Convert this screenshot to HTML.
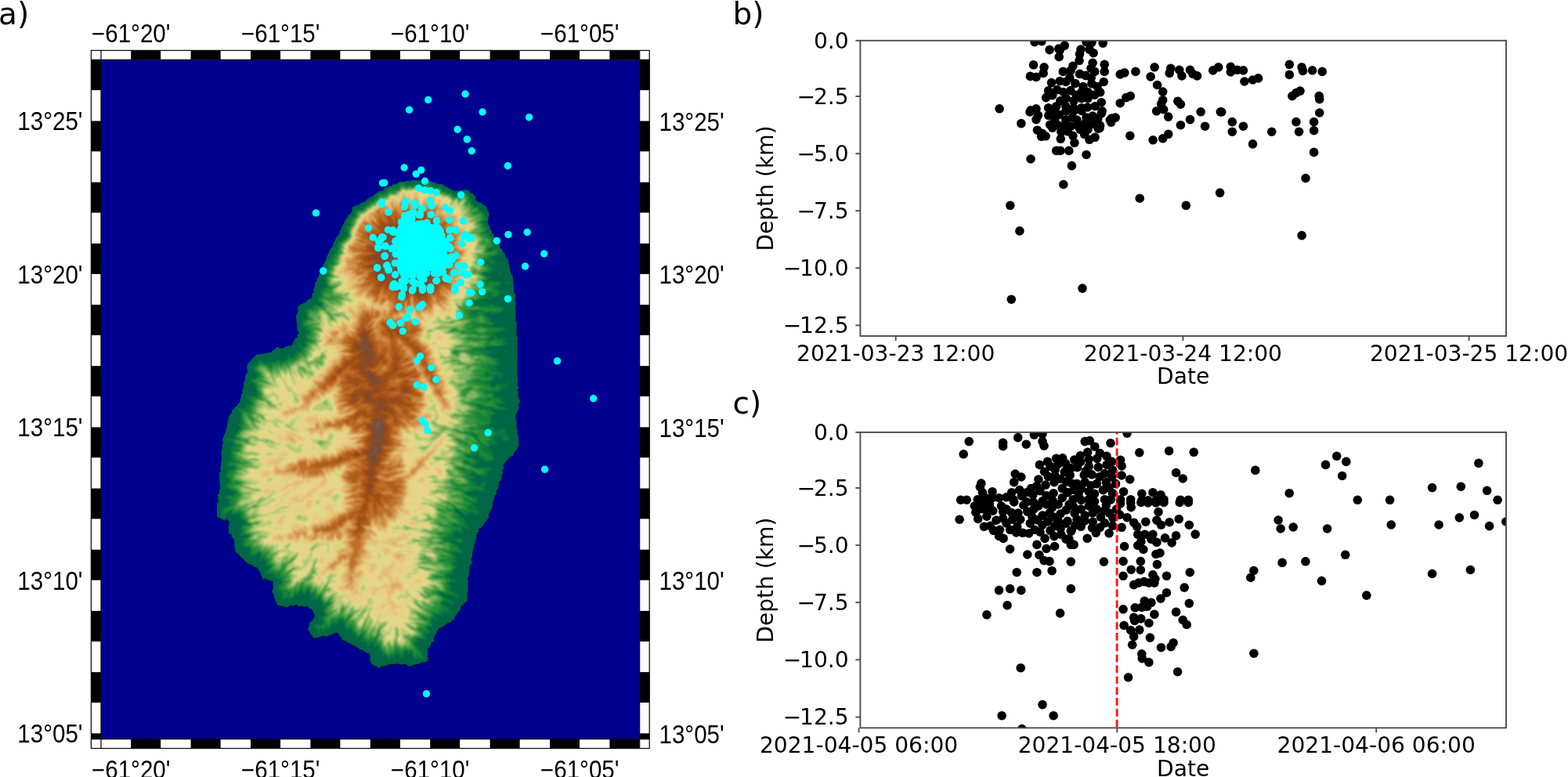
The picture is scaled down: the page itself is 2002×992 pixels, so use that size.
<!DOCTYPE html>
<html><head><meta charset="utf-8"><title>Seismicity figure</title>
<style>html,body{margin:0;padding:0;background:#fff;} svg{display:block;}</style>
</head><body>
<svg width="2002" height="992" viewBox="0 0 2002 992">
<rect width="2002" height="992" fill="#fff"/>
<text x="-2" y="30.7" style="font-family:'DejaVu Sans',sans-serif;font-size:39px">a)</text>
<text x="935.5" y="30.6" style="font-family:'DejaVu Sans',sans-serif;font-size:39px">b)</text>
<text x="935.5" y="527.5" style="font-family:'DejaVu Sans',sans-serif;font-size:39px">c)</text>

<rect x="116.0" y="64.0" width="713.6" height="891.9" fill="#fff"/>
<rect x="129.00" y="64.00" width="38.20" height="12.3" fill="#fff"/>
<rect x="129.00" y="943.60" width="38.20" height="12.3" fill="#fff"/>
<rect x="167.20" y="64.00" width="38.20" height="12.3" fill="#000"/>
<rect x="167.20" y="943.60" width="38.20" height="12.3" fill="#000"/>
<rect x="205.40" y="64.00" width="38.20" height="12.3" fill="#fff"/>
<rect x="205.40" y="943.60" width="38.20" height="12.3" fill="#fff"/>
<rect x="243.60" y="64.00" width="38.20" height="12.3" fill="#000"/>
<rect x="243.60" y="943.60" width="38.20" height="12.3" fill="#000"/>
<rect x="281.80" y="64.00" width="38.20" height="12.3" fill="#fff"/>
<rect x="281.80" y="943.60" width="38.20" height="12.3" fill="#fff"/>
<rect x="320.00" y="64.00" width="38.20" height="12.3" fill="#000"/>
<rect x="320.00" y="943.60" width="38.20" height="12.3" fill="#000"/>
<rect x="358.20" y="64.00" width="38.20" height="12.3" fill="#fff"/>
<rect x="358.20" y="943.60" width="38.20" height="12.3" fill="#fff"/>
<rect x="396.40" y="64.00" width="38.20" height="12.3" fill="#000"/>
<rect x="396.40" y="943.60" width="38.20" height="12.3" fill="#000"/>
<rect x="434.60" y="64.00" width="38.20" height="12.3" fill="#fff"/>
<rect x="434.60" y="943.60" width="38.20" height="12.3" fill="#fff"/>
<rect x="472.80" y="64.00" width="38.20" height="12.3" fill="#000"/>
<rect x="472.80" y="943.60" width="38.20" height="12.3" fill="#000"/>
<rect x="511.00" y="64.00" width="38.20" height="12.3" fill="#fff"/>
<rect x="511.00" y="943.60" width="38.20" height="12.3" fill="#fff"/>
<rect x="549.20" y="64.00" width="38.20" height="12.3" fill="#000"/>
<rect x="549.20" y="943.60" width="38.20" height="12.3" fill="#000"/>
<rect x="587.40" y="64.00" width="38.20" height="12.3" fill="#fff"/>
<rect x="587.40" y="943.60" width="38.20" height="12.3" fill="#fff"/>
<rect x="625.60" y="64.00" width="38.20" height="12.3" fill="#000"/>
<rect x="625.60" y="943.60" width="38.20" height="12.3" fill="#000"/>
<rect x="663.80" y="64.00" width="38.20" height="12.3" fill="#fff"/>
<rect x="663.80" y="943.60" width="38.20" height="12.3" fill="#fff"/>
<rect x="702.00" y="64.00" width="38.20" height="12.3" fill="#000"/>
<rect x="702.00" y="943.60" width="38.20" height="12.3" fill="#000"/>
<rect x="740.20" y="64.00" width="38.20" height="12.3" fill="#fff"/>
<rect x="740.20" y="943.60" width="38.20" height="12.3" fill="#fff"/>
<rect x="778.40" y="64.00" width="38.20" height="12.3" fill="#000"/>
<rect x="778.40" y="943.60" width="38.20" height="12.3" fill="#000"/>
<rect x="116.00" y="76.30" width="13.0" height="39.09" fill="#000"/>
<rect x="816.60" y="76.30" width="13.0" height="39.09" fill="#000"/>
<rect x="116.00" y="115.39" width="13.0" height="39.09" fill="#fff"/>
<rect x="816.60" y="115.39" width="13.0" height="39.09" fill="#fff"/>
<rect x="116.00" y="154.48" width="13.0" height="39.09" fill="#000"/>
<rect x="816.60" y="154.48" width="13.0" height="39.09" fill="#000"/>
<rect x="116.00" y="193.57" width="13.0" height="39.09" fill="#fff"/>
<rect x="816.60" y="193.57" width="13.0" height="39.09" fill="#fff"/>
<rect x="116.00" y="232.66" width="13.0" height="39.09" fill="#000"/>
<rect x="816.60" y="232.66" width="13.0" height="39.09" fill="#000"/>
<rect x="116.00" y="271.75" width="13.0" height="39.09" fill="#fff"/>
<rect x="816.60" y="271.75" width="13.0" height="39.09" fill="#fff"/>
<rect x="116.00" y="310.84" width="13.0" height="39.09" fill="#000"/>
<rect x="816.60" y="310.84" width="13.0" height="39.09" fill="#000"/>
<rect x="116.00" y="349.93" width="13.0" height="39.09" fill="#fff"/>
<rect x="816.60" y="349.93" width="13.0" height="39.09" fill="#fff"/>
<rect x="116.00" y="389.02" width="13.0" height="39.09" fill="#000"/>
<rect x="816.60" y="389.02" width="13.0" height="39.09" fill="#000"/>
<rect x="116.00" y="428.11" width="13.0" height="39.09" fill="#fff"/>
<rect x="816.60" y="428.11" width="13.0" height="39.09" fill="#fff"/>
<rect x="116.00" y="467.20" width="13.0" height="39.09" fill="#000"/>
<rect x="816.60" y="467.20" width="13.0" height="39.09" fill="#000"/>
<rect x="116.00" y="506.29" width="13.0" height="39.09" fill="#fff"/>
<rect x="816.60" y="506.29" width="13.0" height="39.09" fill="#fff"/>
<rect x="116.00" y="545.38" width="13.0" height="39.09" fill="#000"/>
<rect x="816.60" y="545.38" width="13.0" height="39.09" fill="#000"/>
<rect x="116.00" y="584.47" width="13.0" height="39.09" fill="#fff"/>
<rect x="816.60" y="584.47" width="13.0" height="39.09" fill="#fff"/>
<rect x="116.00" y="623.56" width="13.0" height="39.09" fill="#000"/>
<rect x="816.60" y="623.56" width="13.0" height="39.09" fill="#000"/>
<rect x="116.00" y="662.65" width="13.0" height="39.09" fill="#fff"/>
<rect x="816.60" y="662.65" width="13.0" height="39.09" fill="#fff"/>
<rect x="116.00" y="701.74" width="13.0" height="39.09" fill="#000"/>
<rect x="816.60" y="701.74" width="13.0" height="39.09" fill="#000"/>
<rect x="116.00" y="740.83" width="13.0" height="39.09" fill="#fff"/>
<rect x="816.60" y="740.83" width="13.0" height="39.09" fill="#fff"/>
<rect x="116.00" y="779.92" width="13.0" height="39.09" fill="#000"/>
<rect x="816.60" y="779.92" width="13.0" height="39.09" fill="#000"/>
<rect x="116.00" y="819.01" width="13.0" height="39.09" fill="#fff"/>
<rect x="816.60" y="819.01" width="13.0" height="39.09" fill="#fff"/>
<rect x="116.00" y="858.10" width="13.0" height="39.09" fill="#000"/>
<rect x="816.60" y="858.10" width="13.0" height="39.09" fill="#000"/>
<rect x="116.00" y="897.19" width="13.0" height="39.09" fill="#fff"/>
<rect x="816.60" y="897.19" width="13.0" height="39.09" fill="#fff"/>
<rect x="116.00" y="936.28" width="13.0" height="7.32" fill="#000"/>
<rect x="816.60" y="936.28" width="13.0" height="7.32" fill="#000"/>
<rect x="116.4" y="64.4" width="712.8000000000001" height="891.1" fill="none" stroke="#111" stroke-width="1.3"/>
<line x1="129.0" y1="64.0" x2="129.0" y2="76.3" stroke="#111" stroke-width="1.3"/>
<line x1="129.0" y1="943.6" x2="129.0" y2="955.9" stroke="#111" stroke-width="1.3"/>
<line x1="816.6" y1="64.0" x2="816.6" y2="76.3" stroke="#111" stroke-width="1.3"/>
<line x1="816.6" y1="943.6" x2="816.6" y2="955.9" stroke="#111" stroke-width="1.3"/>
<line x1="116.0" y1="76.3" x2="129.0" y2="76.3" stroke="#111" stroke-width="1.3"/>
<line x1="816.6" y1="76.3" x2="829.6" y2="76.3" stroke="#111" stroke-width="1.3"/>
<line x1="116.0" y1="943.6" x2="129.0" y2="943.6" stroke="#111" stroke-width="1.3"/>
<line x1="816.6" y1="943.6" x2="829.6" y2="943.6" stroke="#111" stroke-width="1.3"/>
<rect x="129.0" y="76.3" width="687.6" height="867.3000000000001" fill="#00008f"/>
<g id="terrain"><defs><clipPath id="isl"><path transform="translate(260,215) scale(0.5)" fill-rule="evenodd" d="M579 32l-49-2-1 2-13 0-1 2-17 0-1 4-5 0-5 4-3-2-3 4-19 6-3 6-11 2-21 16-5 0 0 3-4 1-5 6-15 6-1 4-7 0-12 6 2 3-4 12-8 5 0 5-4 3-18 36 2 3-6 3 2 3-4 1-10 20 0 5-4 3-12 24 0 5-16 29 2 7-6 3 0 7-4 3-2 9-4 3 0 9-4 9 2 7-4 1-2 13-10 5-7 8-3-2-3 4-7 2-6 6 2 9-6 13 4 39 4 5-4 4 0 7-6 3-9 18-15 2-7 6-9 0-3-4-3 0-17 14-37 6-22 24-2 6 2 13-6 11 0 9-4 9 0 13-4 5 2 7-4 3 0 7-6 18-4 1 0 3-14 13 0 5-8 11-6 33-10 25 2 11-2 1 0 13-2 1 0 31-2 1 0 13-2 1 2 9-4 5 0 7 2 1-2 2 2 31-2 1 0 11-4 1 2 19-4 5 0 33 20 10 5-4 7 7-2 13-2 1 2 2 0 13 8 5-2 5 3 0 5 7 2 29 4 3 0 3 3 0 7 7-2 3 5 0 13 14 3 0-1 4 5-2 15 10 3-2 1 4 4 1 0 5 4 3 0 3 4 3-2 3 4 5 0 5 9-2 3 4 5-2 1 4 7 0 3 3-2 4 2 13-4 8 4 5 6 21 4 1-2 2 2 5 27 6 3-4 6-2 5 2 8-4 5 6 6-2 11 2 4-2 5 3 0 3 5 0 5 5 6 15-6 12-8 5 0 9-4 6 10 18 4 1-2 2 2 3 15-2 9-4 11 2 7-4 7 0 1-4 11-2 13 17 0 3 5 0 25 14 3-2 1 4 10 5 0 3 7 0 7 6 11 4 3 9-2 7 4 5 0 5 20 10 3 0 1-4 9 0 1-2 5 2 3-4 23-2 1-2 8 4 13-2 7 6 7 0 1-2 3 2 1-4 15-2 5-4 3 2 1-2 13-2 2-6-2-27 6-3 6-15 4 1 2-2-2-7 12-24 3-3 7 0 1-4 3 0 9-8 9-2 3-6 5 0 2-7 14-19 2-11 6-1 0-3 10-7 0-23 2-1 0-31-2-2 4-7 2-25 6-7-2-13 2-1 2-19 2-1 0-7 2-1 0-7 6-17-2-7 4-1 0-5 4-3-2-5 3-3 5 0 0-3 6-5 0-3 12-15 2-6-2-3 12-23-2-4 2-9 4-1-2-4 2-7 6-5-2-5 2-6 4-3 0-9 2-1-2-5 8-9 0-13 4-1-2-2 0-9 4-1-2-11 19-21 7-2 0-5 7-9 3 0 0-5 4-5-2-29-2-1 0-13-2-1 0-23-2-1 0-11 8-19-2-5 4-9 0-7-4-3 2-5-2-1 0-13-2-1 4-8-4-4 2-19-2-1 0-23-2-1 2-6 0-67 2-6-4-3 0-37-2-1 0-15-2-1 2-4 0-11-2-1 2-6 0-13-2-1 2-19-4-1-4-47-4-1-8-39-6-5-2-11-4-1-2-7-6-5-2-9-6-3 0-7-6-7-4-11-4-1 2-3-6-7 0-5-6-11 4-23-8-20-9-4-1-4-11-2-5-5-2-11-4-1 0-5-9-2-1-4-8-4-31 4-33-18-7 0-1-2-5 2-1-4-13-2z"/></clipPath><filter id="tb" x="-2%" y="-2%" width="104%" height="104%"><feGaussianBlur stdDeviation="0.8"/></filter></defs><path transform="translate(260,216.3) scale(0.5)" fill-rule="evenodd" fill="#0a1a0a" fill-opacity="0.75" d="M579 32l-49-2-1 2-13 0-1 2-17 0-1 4-5 0-5 4-3-2-3 4-19 6-3 6-11 2-21 16-5 0 0 3-4 1-5 6-15 6-1 4-7 0-12 6 2 3-4 12-8 5 0 5-4 3-18 36 2 3-6 3 2 3-4 1-10 20 0 5-4 3-12 24 0 5-16 29 2 7-6 3 0 7-4 3-2 9-4 3 0 9-4 9 2 7-4 1-2 13-10 5-7 8-3-2-3 4-7 2-6 6 2 9-6 13 4 39 4 5-4 4 0 7-6 3-9 18-15 2-7 6-9 0-3-4-3 0-17 14-37 6-22 24-2 6 2 13-6 11 0 9-4 9 0 13-4 5 2 7-4 3 0 7-6 18-4 1 0 3-14 13 0 5-8 11-6 33-10 25 2 11-2 1 0 13-2 1 0 31-2 1 0 13-2 1 2 9-4 5 0 7 2 1-2 2 2 31-2 1 0 11-4 1 2 19-4 5 0 33 20 10 5-4 7 7-2 13-2 1 2 2 0 13 8 5-2 5 3 0 5 7 2 29 4 3 0 3 3 0 7 7-2 3 5 0 13 14 3 0-1 4 5-2 15 10 3-2 1 4 4 1 0 5 4 3 0 3 4 3-2 3 4 5 0 5 9-2 3 4 5-2 1 4 7 0 3 3-2 4 2 13-4 8 4 5 6 21 4 1-2 2 2 5 27 6 3-4 6-2 5 2 8-4 5 6 6-2 11 2 4-2 5 3 0 3 5 0 5 5 6 15-6 12-8 5 0 9-4 6 10 18 4 1-2 2 2 3 15-2 9-4 11 2 7-4 7 0 1-4 11-2 13 17 0 3 5 0 25 14 3-2 1 4 10 5 0 3 7 0 7 6 11 4 3 9-2 7 4 5 0 5 20 10 3 0 1-4 9 0 1-2 5 2 3-4 23-2 1-2 8 4 13-2 7 6 7 0 1-2 3 2 1-4 15-2 5-4 3 2 1-2 13-2 2-6-2-27 6-3 6-15 4 1 2-2-2-7 12-24 3-3 7 0 1-4 3 0 9-8 9-2 3-6 5 0 2-7 14-19 2-11 6-1 0-3 10-7 0-23 2-1 0-31-2-2 4-7 2-25 6-7-2-13 2-1 2-19 2-1 0-7 2-1 0-7 6-17-2-7 4-1 0-5 4-3-2-5 3-3 5 0 0-3 6-5 0-3 12-15 2-6-2-3 12-23-2-4 2-9 4-1-2-4 2-7 6-5-2-5 2-6 4-3 0-9 2-1-2-5 8-9 0-13 4-1-2-2 0-9 4-1-2-11 19-21 7-2 0-5 7-9 3 0 0-5 4-5-2-29-2-1 0-13-2-1 0-23-2-1 0-11 8-19-2-5 4-9 0-7-4-3 2-5-2-1 0-13-2-1 4-8-4-4 2-19-2-1 0-23-2-1 2-6 0-67 2-6-4-3 0-37-2-1 0-15-2-1 2-4 0-11-2-1 2-6 0-13-2-1 2-19-4-1-4-47-4-1-8-39-6-5-2-11-4-1-2-7-6-5-2-9-6-3 0-7-6-7-4-11-4-1 2-3-6-7 0-5-6-11 4-23-8-20-9-4-1-4-11-2-5-5-2-11-4-1 0-5-9-2-1-4-8-4-31 4-33-18-7 0-1-2-5 2-1-4-13-2z"/><path transform="translate(260,215) scale(0.5)" fill-rule="evenodd" fill="#006646" d="M579 32l-49-2-1 2-13 0-1 2-17 0-1 4-5 0-5 4-3-2-3 4-19 6-3 6-11 2-21 16-5 0 0 3-4 1-5 6-15 6-1 4-7 0-12 6 2 3-4 12-8 5 0 5-4 3-18 36 2 3-6 3 2 3-4 1-10 20 0 5-4 3-12 24 0 5-16 29 2 7-6 3 0 7-4 3-2 9-4 3 0 9-4 9 2 7-4 1-2 13-10 5-7 8-3-2-3 4-7 2-6 6 2 9-6 13 4 39 4 5-4 4 0 7-6 3-9 18-15 2-7 6-9 0-3-4-3 0-17 14-37 6-22 24-2 6 2 13-6 11 0 9-4 9 0 13-4 5 2 7-4 3 0 7-6 18-4 1 0 3-14 13 0 5-8 11-6 33-10 25 2 11-2 1 0 13-2 1 0 31-2 1 0 13-2 1 2 9-4 5 0 7 2 1-2 2 2 31-2 1 0 11-4 1 2 19-4 5 0 33 20 10 5-4 7 7-2 13-2 1 2 2 0 13 8 5-2 5 3 0 5 7 2 29 4 3 0 3 3 0 7 7-2 3 5 0 13 14 3 0-1 4 5-2 15 10 3-2 1 4 4 1 0 5 4 3 0 3 4 3-2 3 4 5 0 5 9-2 3 4 5-2 1 4 7 0 3 3-2 4 2 13-4 8 4 5 6 21 4 1-2 2 2 5 27 6 3-4 6-2 5 2 8-4 5 6 6-2 11 2 4-2 5 3 0 3 5 0 5 5 6 15-6 12-8 5 0 9-4 6 10 18 4 1-2 2 2 3 15-2 9-4 11 2 7-4 7 0 1-4 11-2 13 17 0 3 5 0 25 14 3-2 1 4 10 5 0 3 7 0 7 6 11 4 3 9-2 7 4 5 0 5 20 10 3 0 1-4 9 0 1-2 5 2 3-4 23-2 1-2 8 4 13-2 7 6 7 0 1-2 3 2 1-4 15-2 5-4 3 2 1-2 13-2 2-6-2-27 6-3 6-15 4 1 2-2-2-7 12-24 3-3 7 0 1-4 3 0 9-8 9-2 3-6 5 0 2-7 14-19 2-11 6-1 0-3 10-7 0-23 2-1 0-31-2-2 4-7 2-25 6-7-2-13 2-1 2-19 2-1 0-7 2-1 0-7 6-17-2-7 4-1 0-5 4-3-2-5 3-3 5 0 0-3 6-5 0-3 12-15 2-6-2-3 12-23-2-4 2-9 4-1-2-4 2-7 6-5-2-5 2-6 4-3 0-9 2-1-2-5 8-9 0-13 4-1-2-2 0-9 4-1-2-11 19-21 7-2 0-5 7-9 3 0 0-5 4-5-2-29-2-1 0-13-2-1 0-23-2-1 0-11 8-19-2-5 4-9 0-7-4-3 2-5-2-1 0-13-2-1 4-8-4-4 2-19-2-1 0-23-2-1 2-6 0-67 2-6-4-3 0-37-2-1 0-15-2-1 2-4 0-11-2-1 2-6 0-13-2-1 2-19-4-1-4-47-4-1-8-39-6-5-2-11-4-1-2-7-6-5-2-9-6-3 0-7-6-7-4-11-4-1 2-3-6-7 0-5-6-11 4-23-8-20-9-4-1-4-11-2-5-5-2-11-4-1 0-5-9-2-1-4-8-4-31 4-33-18-7 0-1-2-5 2-1-4-13-2z"/><g clip-path="url(#isl)"><g filter="url(#tb)"><g transform="translate(260,215) scale(0.5)" fill-rule="evenodd"><path fill="#077540" d="M782 542l-7 0-7 3 0 2 12-1zM766 468l14-2-3-3-5 0zM789 396l8 1-1-3zM745 264l2 3 6 1 1 5 9 0-6-3 3-4-5-5zM778 257l-4-1-4 4 6 1zM570 35l-5 9-5-5-5 4-6-8-14 5-4 4-4-5-8 5-7-9-13 0-1 4-9 5-12 1-15 15-6 3-7-2-10 10 0 5-6 1-1 7-7-2-6 9-12 5-2 8-6-1-2 3-7-2-5 3-1 6 3 4-3 7-8-4-5 3 1 3-5 5 0 6 7 7-12 3 0 5 3 3-1 7 4 4-1 5-19 16-8 2 3 6-7 1 6 9-8 0 4 10-12 5 3 7-8 2 0 8-7 0-1 8 3 7-6 3 2 5-2 6 7 6-7 2-11-3 4 6 8 5-3 5 7 15-2 2-13 0 6 6-11 3 4 11-10 7 3 9 9 7 0 3-3 2-15-8-2 5-4 0-2 6-4-2-2 4-3 0-4-3-5 7 3 15 5 7-13 2 1 9-4 9 4 4 7-2-1 9 11 2-9 4 1 3-4 3 4 11-5 5-5-2 7 8-1 6-8-1-5-6-8-4 6 8-3 4 9 9-2 2-9-2 0 4-4 5-6-4 2 15-5-3-6-9-6 6-1 9-2 2-5-3-3 8-4-2-3-7-3 4-8-1-2 6-5-3-4 1-2 6-5-7-4 6-2-2-7 2-4-8-6 0-8 11-7 3-4 6 0 4 7 6-3 2 9 4 1 4-6 2-1 5-12 0-3 4 15 12-1 6 4 3-1 4 3 3-1 10-3 3-17 0-4-2-2 2 1 7 13 11-7 3-4-1-6 4 2 4-4 2-1 4-8-2-8-6-6 4 15 15-1 2-5-1 3 6-2 4 1 8 4 4-13 4 10 7 0 7-6 2-5 7-4 1 0 7 5 5-1 2-6 1-21-5 1 3-4 4 23 3 0 6 3 4-4 4-9 3 10 5-8 2-2 7 4 4-3 4 4 3 1 6-9 4-3 4-8-1 12 11 15-1 2 2-6 6-15-2 3 7-7 7 0 3 8 6 3 9-11 6 2 5-3 2 29 16-7 2 2 4-24 1-3 4-12 0 0 6 7-3 16 0 6 4-7 4 5 5-1 2-14-1 7 4 7 0-1 3-19 3 2 4-3 5 1 14 3 3 7-1 5-12 5-4 4 1-1 7 6 3 6-5 5 1 6-3-1 7 4 3-3 4 8 3 1 6 6 0 7 4-11 2-9 6 2 1-1 6 4 4-11 12 27 0-14 8-1 4 3 3-6 4-1 4 5 3 0 5 14-2 5 7-5 8 4 3-3 3-2-3-3 2 2 4 6-3 2 6 5-4 6 2 7-11 5 1 2 5-5 18 7-3 2-4 6 4 5-2 2 2-6 10 6 3 10 0-11 12-1 9 11 0 3 3 5-4-1 11 5-2 5 5 8 2 3 7-11 6-7 11 14 4 6 11-1 3-5 2 4 4 0 6 13-7 16 2 3-3 3-12 3 5 5 0 2 10 0-16 7-6-1 10 10 1 8-14 3 13 5 4-4 5 0 8 9-6 3 7 14-11-2 10 8 2-4 11 2 2 7-1-5 13 8 8-13 3-2 5 8 9 0 3-7 5-12-3-7 4 5 7 7 1-3 5 1 10 4-2 5-13 3 2 2 8 6 2 3-13 4 6 4 1 8-16 2-1 3 3 8-1 5-10 4 2 4-5 2 10 4 1-1 9 8 7 7-2 5 3-4 13 5 0 6-7 1 13 15-5 2 13-3 4 5 2 3-5 8 3-2 12 4-1 12-12 4 0-3 15 13-6 4 4-6 8 2 5 12-1-7 14 1 2 5-2 7-8 7 8 4 10 6-14 5 5 2-1 4-12 9 7 2 7 6-2 4 3 0-14 3-6 8 10 5-2 2-7 2 1 4 20 13-2 3 3 8 0 4-2 1-4-8-12 0-4-7-5-1-5-8-7-1-3 8-4-4-6 5-2 18 3 2-7-5-9 2-1 6 4 9-7-8-8 0-6 13 2 2-6 2 0-5-5-4-12 8 0 6 8 5-3-10-13 1-2 14 4 3-6 9 3-2-4 2-4 11 7 5-1 3 3 3-2-12-10 1-4-6-6-12-5-2-4 14-3 10 6 8 0 1-4-28-15-8-8 5-2 11 5 12 1 19 10 1-8-10-6 5-4-16-3-1-3 5-4-6-9-8-2 10-4 6 1 21-5-26-4-6-4 2-4-2-4 23 2-6-1-8-7 5-3 0-5 5-2-1-7-8-6 11-3 1-4-7-4 6-6-13-8 5-3 12 3 10-1 1-5-11-8 1-5-22-9-4-5 13 1 10 6 17 0-5-4 5-4-1-2-7-3-15 0-2-7-7-3 5-2 2-6 11 3 2 4 12-1-8-10 2-6 7 5 9 1 2-2-3-7-9-9 0-3 5-3-10-7-5 0-2-6-12-11 0-4 9 3 17 15 9-4-1-6 13 3 8 5 7-1 1-8-13-8 9 1 4-4-5-4-2 3-3-1-9-10 21 2 0-2-4 0-6-5 2-3 6-1-9-7-21-3-7-4 4-3 17-1 0-5 11 2 5 4 4-3 6 0 15 5-2-8-10 2-3-3 6-2-7-7 8-1-5-5 8-2 0-3-12-2-12 12-9-4 4-6-21-8 19 1-3-6-12-6 10-4 22 9 17 1-5-8 5-2 0-4 5-2 0-3 4-3-8-3-39-1-5-2 1-3 8 0 11-6-3-5-9-4-4-5 9-7 2 2-4 6 2 3 10-1 3 5 10 4 18-2 3-6-4-7-6-4 10 2 0-6-10-6-4-6 4-8 10 3 1-5 8 4 0-4-8-10 9 1-3-4-13-4 19-4 5 3-2 5 14 7 6-2 4-8-10-7 1-5-5-1 3-4-2-7-7-1-6 4-12 2-3-3 1-4-19-5 15-8-6-6 9-4-10-5 15-7-5-8-11-3-1-3 33 6 11-3 0-5-3-2-11-1-10-6 23-3 2-4-8-1-9-5 2-2 12 0 3-3-8-2-21 2-3-8 3-4 9-1 10-5-6-2 0-2 15-1-3-3 9-4-4-4-17 1-10-2-10 8-5-1 3-5-7-5 10-5 6-13 5 3 3 6 7 1 2-1-6-5 10-4 0-3-6-3-1-3-8-1-2-2 4-2-8-7 14-5-2-4-9-5 8-2 1-3-32-12 3-2 22 1-1-3-14-1-2-4 21-4 0-2-7-1-11 4-15 1-4-2 6-7 37-2 16-4 1-5-12-3 0-3 4-1 0-7-16 3-6-2 0-6-6-4 19-6 13-1 4-3 0-3-12-1-2-2 1-5-16 6-25-3 0-2 14 1 6-6-2-5-10-2 4-3-2-4-8-3-10-8 16-4 5 5 11-1 17-6 3-5 5 0 1-3-13-5-13 0 2-5-10-2-29 3-17-1-9-6 1-4 2 2 16 1 4 4 15 0 1-2-8-3-11 0-1-4 31-1 2-2-9-7 2-3 4 6 21-1 3-2-4-4 6-4 12 1 8 7 11-1 0-3-4-3-6 1-13-6-12-1-12-11 19 1-7-5 5-5 13 1 9 4 2-5-4-7-10 7-14-5-29-2-1-3 4-4 9-1-4-3-11 0-10-6 1-2 16-1 10-5-1-6-10-9 15-2 5-3 17 3 4-5-9 2-13-2-9-6 3-4-9-3 16-4 5-4 4 0 1-3-4-3-2-6-4-1 2-7-8 4-3-2 0-7-4-4 5-6-6-9-8-1 4-5 0-7-8 4-6-2 11-12-9-2 1-7-9-4 12-5 0-7-7-8 2-6-15-6 0-12-4-1-9 5-5-7 0-10-7-2 1-8-5-6-3 0 0-4-9 1-11-3-4 4-4 0-5 8-7-13-9 1-3-7-9 5-1-5-6-7-13 2-3-6-2 2-4-3-5 1zM623 941l20 3-2 2-14-1zM674 734l4-1 6 4-8 0zM731 434l4-3 6 2-6 3zM686 372l6-2-1-4 6 6zM719 319l10-1 2 3-11 0zM721 236l4-1 2 2-1 6 2 3-9-3zM740 204l-7 6-5-5z"/>
<path fill="#168539" d="M646 947l0 3 7 5 9-6-5-3zM765 689l5 4 6-2-2-4zM764 668l-10 3 9 1zM729 241l7 2 10-3-15-5zM572 40l-3 0-5 7-4-4-6 3-5-6-15 4-3 3-6-5-7 5-5-6-10-3-6 16-11-5 1 7-3 2-5-9-14 16-5 0-4 4-5-3-3 1-3 7-13 13-7 0-4 7-9 4-3 8-20 3-1 15-7 2-1 4-7 5 5 10-6 2-4 5 2 20-10 7-8 10-7 2 2 6-5 2 3 8-6 3 3 7-10 4-1 2 5 5-10 5 7 9-2 2-6-1-6 5 1 5-6 12 7 8-5 4-8-1 7 8-3 4 6 15-9 4-9 13 3 2-1 5-9 7 2 6 8 6 1 8-8-1-11-6-1 7-4-3-1 10-7-2-11 4 2 1 1 15 5 6-12 2-3 15 13 2-5 6 9 3 2 3-11 12 3 7 11 7-13-1-2 2 1 9-3 5-13-4 0 3 8 6-4 8-8-1 0 4-4 1-2 5-5-5 4 10-2 3-9-4 1 5-2 1-2-5-4-2-5 15-5-6-5 7-5-4-11-2-3 6-8-2-5 10-4-9-4 6-2-5-8 2-4-6-3 0-14 13-2 7 13 9-1 6-10 9-8 0-1 2 14 14-2 4 2 7 5 5-2 3 2 4-5 3 3 4-4 1-7-3-3 5-10-2 10 16-7 9-6-1 5 3-1 2-7 0 9 7-1 2-14-5-7 3 3 7-3 3 0 6 5 15-11 2 7 6-1 7-5 2-3 6-7 5 0 5 8 6-23 1 14 8-1 4 10 4-18 6 16 3 2 2-2 2-15 1-1 3 3 7-2 3 5 11 10 2 3 3-5 2-15-3-5 8 1 2 10-1 5 2 2 4-2 4-11 3-11 11 10 13-1 8-7 4-2 6 20 9 7 8-7 6-13 0-11 3 14 4 4 4-9 4 12 6-7 6-18 5 2 3-4 6 3 5 13-10 5-1 4 2-1 4 3 3 6-1 4-4 5 1 4 4 2 13 6 1 2 7 9 3 4 4-2 2-14 0-5 4 0 4 6 5-6 8 5-1 0 5 14-1 3 2-16 12 4 3-5 4 2 10 10-2 5 2 2 5-1 9 4 8 10-3 5-8 8 6-1 13 6-6 5-1-2 7 3 3 6 0-3 8 1 4 4 3 8 0-8 13 0 4 8 0 1 3 6-2 1 8 8-7 5 0 2 3-5 8 8 2 4 12-6 4 2 2-2 2-6 1 0 5 4 1 5 6 1 7 7 0-5 5 0 7 8-4 1-8 5-5 3 2-3 10 11 2 4-20 4 11 13-13 3 2 0 8 6 1 7-11 4-2 3 15 6-2 5 2 2 15 4-1 3-6 8-1-3 10 7 2-1 11 12-6 3 1 1 3-9 6 1 4-5 4 2 7 8 3-14 11 6 5-2 2 2 4-9 7-13 1 1 3 6 1-1 5 5-5 10 3 3-10 8 7 7-9-1-6 2-2 13 2 6-8 3 2 5-2 5 9 10-8-8 15 0 5 6 3 10-2 5 13 5-1 2 2 0 10 8-1 10-8-1 13 3 1 0 3 5 1 2 4 9-6 1 7-2 2 8-3 9-10-5 22 4 0 5-5 6 5 1 3-3 5 9 5-2 9 6-4 7 6 4 9 5-15 6 6 4-8 6-4 8 6 3 7 10-16 5 1 5 6 5-7 4 5 3 11 8 2 2-6 6 7 4 1 1-4-4-3-4-10-16-23 11-1-5-8 1-2 13 3 8-1 1-9-7-10 2-3 3 6 10 1 3-4-6-11 5-3 6 2 4-2-3-6 2-6-3-7 10-2-5-9 1-3 18 6-1-7 3-3 7 4-2-14 6 4 0 3 7 2 0-6-4-4-10-3-4-8 6-1-2-2 2-2 9 1 11 5 3-1-5-5-10-3-20-14 2-3-2-2 5-1 9 4 14 1 14 7-6-5 1-4-14-6 5-5 0-7-8-3 10-6-1-4 4 3 4-3-19-8-1-3 6-7 10 0-2-3 9-8 3-6-10-8-1-4 2-2 10 0 0-2-14-4 12-5-14-15 15 0 11 4 2-4-10-6 3-4-1-4-5 0-9-7-16-5-4-6 8-6 14 1 0-2-11-5 13-2-1-6 12-1 9 3 1-9-19-5-4-6 1-2 33 11-7-8 1-6-9-4 1-2-3-3 2-7-13-9-1-9 2-2 26 16 4 0-9-8 1-2 4 3 25 3 6 4-3-6-7-4-4 2-11-7 1-5 11-2 1-3-21-12 3-2 25 9 2-1 0-7-8-2-8-6-10-2-4-4 5-6 13 1-2-6 25 1 6-4-2-3-7 4-4-4-14-3-1-5-5-5 7-1-17-7 2-2 15 0-1-3-13-6 2-3 9-1-10-5-16-1-4-6 5-1 13 6 16 3 13 9 15 1 6-6-1-4 5-3 0-3-6 0 0-2-6 2-5-2-4 2-8-1-13-5-5-5-11-2-4-3 4-4 6 0 12 9 11-3-6-4 4-2-1-3-20-6-4-5 4-2 12 1 2-2-4-3 1-2 12 2 4-7 4 8-1 4 7 5 6 0 2 3-2 3 6 3 15-3-1-6-13-11-5 0-13-10-1-3 2-1 12 5-2-5-21-17-1-6-6-6-11-6 9-2 5 4 4-1 3 13 22 18 7-1-1-11 8 1 0-9-4-2 11-3-2-3 6-4-8-5 1-6-10-5-12 5-14-3 5-4 10-2 14-7-3-7 5-4-4-3 0-6 10-2 1-5-20-8-16-1 0-4-9-6 7-3 19 9 11-1 17 6 13 0 2-2-15-7-5-5 3-4 10 3 7-2-13-10 2-2-12 4-2-2 4-3-4-2-1-9-12-1-6 3-3-3 2-2-1-7 6 6 11-3 11 0 5 3 5-4-6-4 10-4-12-3-11 5-7-3 1-5-21-5 25-6 4-5-2-4-20 1-2-2 4-3-1-4 4-5 8 2 5 5 15-3 6 5-7-7-15-2-3-3 1-3 11-3-14 1-5-4 5-7 8 4 13-2 1-2-7-7 5-5-11-2-3-4-7 0-5-5-12-2 3-5-12-7-13 1-2-2 11-3 15 2 10-8 37-1 6-7-4-5 0-4-11 3-6-5-3 3-15 4-1-4-5-2 11-5 0-5-15-3 4-3 14 2 8-4 9 0 6-6 7 0-4-3-43-2-8-5 0-2 6-1 18 1 2-2-2-4-8-2 2-4-11-11-5-2-2-8-10 0 2 6-2 4-17-1-6-3 5-3-4-4 1-2 16-2 17 1 5 5 15-2 27 1 1-11-39 0 0-2 18 0 3-4-9-1-28 5-4-3-8 0-14-10 1-5 18 4 2-4 21-6 0-4-8 0-3-3 8-6 18 0 2 3-4 4 3 3 12 0 1-6 6-4-13-6 0-5-8-5 7-3 4 2 5-2 3-6-12 0-6-4-5 0-2 5-7 1-8-6 8-2 4-7-18-9 6-4 10 0 7-3 2-4-2-7-21-9 6-3-1-3 6-4 7 1 3-2-3-7 15-2 6-6 1-7-8-1-9 4-7-1-1-7 12-4 1-5-4-4 3-7-6-8-10-2 3-3-1-3-11-2 10-13-7-1-2-2 2-7-10-5 2-3 12-4 0-5-7-3 3-3-4-7-10-3 0-11-12 1-9-14 2-3-8 0 4-8-5-6-4-1-1-4-5 3-1-2-7 0-4 8-3-3-9 3-10-11-3-1-6 4-2-7-10 2-1-7-4-4-15 2-3-4-9-2zM560 1146l3-1 8 6-7 0zM721 589l8-4 7 3-5 3zM691 543l12-1 2 2-13 1zM694 399l9-3 8 1-1 3-6 0-2 3zM682 379l2-2 10 1-1 2zM710 296l10-1 6 3-6 2z"/>
<path fill="#2a913a" d="M708 721l1 7 16 8 0-3-10-5zM733 359l3 5 14 1-9-7zM573 44l-4 0-5 6-3-4-7 2-5-5-9 1-3 4-3-1-3 3-7-5-5 7-7-7-8 1-6 11-9-2-4 9-4-4-6-1-9 11-16 1-9 11-4 1-3 6-8 1-2 6-8 2-6 9-18 3-2 14-2 3-5 1 1 6-7 4 3 8-8 8-1 12 2 6-17 15-1 4-7 1 2 7-5 2 3 8-5 4 3 6-8 3-1 3 3 4-10 5 7 9-13 9 4 5-4 0-7 7 1 4 7 5-8 6-4 0 5 7-2 2 1 11 10 6-2 3-15 4 1 4-6 4 3 9-10 6 9 12-2 2 2 6-3 3-15-7 1 10-2 2-5-5-2 7-8-3-6 4 0 13 10 7-14 2-3 11 2 2 14 0-7 5 1 3 8 2-5 8 2 5-2 2-4-1-2 5 3 6 8 3 0 4-2 2-11-1 1 10-10 6 1 4-4 2 1 7-9-1-11 18-7-2-1 8-8-7-5 12-5-5-13 8-5-7-2 0-3 7-5-4-4 0 0 9-4 6-5-8-3 2-3-5-8-1-4-4-7 2-8 9 1 7 11 6-2 10-9 8-6 0 0 2 11 11-1 12 5 5-1 4 4 4-7 2 8 7-6 2-13-4 0 4-4 3 4 10-4 3 0 4-4 2 2 5-6 1 6 6-2 2-10-1-5-3-5 2-1 13 4 17-6 2 6 6-12 9-2 7-6 4 2 5 10 5-2 2-18 1 8 8 12 2-4 7-8 3-5-1 10 2 3 5-16 4 1 6 5 4-4 4 5 7 13 5 5-1 4 3-26 0-2 2 11 10-8 5-10 13 5 4-5 4 3 5-1 6 5 1 1-3 5-2 10 1 5 3-9 2 0 4-11-1-3 3-8 0-2 3 6 4 9 1 14 16-11 3 0 5-8 0 9 8-7 4 3 4-18 9-5 6 19-7 2 10 3 1 10-5 11 7-4 5 4 3 0 4 7 4-1 7 14 7-2 3-16 1-1 3 5 5-3 6 1 6 12 0 3 3-1 4-11 7 2 4 5 2-7 3 1 8 10-2 5 9-2 6 9-7 1 3-4 10 5-2 8-11 0 7 8 4-1 6 5-1 7-6 2 1-5 12 9 6 0 9 11 5-8 12 7-1 2 5 4-1 2 3 13-3 2 8-3 4 12 2-5 5 0 5 8 5-5 1-3 3 4 4-6 2 0 6 4 4 7-2 2 5 5-2 3 4 0 7 4 2 4-5 0-13 2-3 4 11 10-9-1-6 3-3 5 8 1 7 11-9 6-1 3 15 5-1 5-7 2 1 1 19 11-10-1 6 4-2 2 2-4 10 6 3 1 5 5 2 6-6 3 4 6 1-12 10 0 5-5 4 2 5 11 4-8 4 0 3-5 3 4 11-9 9 7-7 4 2 7-2 3-13 3 4 6-3 5 2 8-7 2 3 6-1 5 8 10-10 3 0 0 4-9 12 0 6 8 0 5-4 1 4 4 2-1 5 5 0-2 6 9 11 5 0 8-9 3 0 2 6-4 8 5-2-1 5 5 6 3 0 8-8 3 3-2 4 1-2 6 0 10-14 1 4-7 22 10-3 1 8 3 2-1 7 7 3-1 5 4-1 9 10 5-10 4 4 5-3 1-6 4-4 0-8 5 11 6 1 4 6 8-9 7 1 3 3 5-3 12 13 0-3 4-3-6-4 1-4-10-23 4-1 7 3-4-6 1-3 17 1 3-8-4-6-6-3 0-6 2-2 6 1 10 6-2-10 11-4 2-3-2-4-13-5-8-11 4-1 9 4 11 8-3-8 9-1-4-10 9-5 7 6 1-7 7-5-3-6 4-3-4-6 12-8-22-17 5-2 1-3 14 4 7-1 2-2-3-7 3-2 0-4-6-4 11-6-6-4 1-4-26-2-3-4 5-2 14 3 11-11 0-3 10-2 3-4 1-6-9-12-12 0-12-4 2-4 19 2 2-5 7-4-4-8-16-4-2-6 15 3 9-2-3-2-2-7 1-3 3 0-2-4-7-3-6 0-3 4-12-2 1-2 12-1-10-9 15-8-9-1-4 2-9-2-2-3 2-2 33 0-5-6 10-2-12-6-19-3 0-2 31 4-6-7 5-5 18 6-4-4 3-4-18-14 3-3 12 1-7-5-20-6 0-6 8 4 7 0-3-10 2-3 14 11 10-1 14 3-13-14 4-2 11 3 4-3-15-8-6-11 6 0 5 5 6-3 2 7 13 4-2-5-26-13-3-3 2-4-22-4-4-4 10-4 21 9 7-1-2-3 7-1 0-2-11-4-6 2-22-3-8-6 4-2 22 7 21-5-4-4 1-4-16-9 13-3-9-6-2-5-9-2-7-8 1-2 12 2 13 6 13 1 19 10 9-5-3-5-9 2-24-14-10-1-6-6 3-8 7 0 10 4 8-2-4-3-13-1-10-8 7-6 12 2-2-2 2-4 12-1-12-12 20 5-2-5-11-9 1-2 12 9 8 2-22-25-16-5-9-6 7-3 4 2 11-1 19 7 8-2 0 3-12 3 3 3-2 3 9 11 11 5 2-1-1-6-3 1-5-5 16-2-4-6 11-3 0-7-4-8-15 2-13-3-25 1-2-2 6-5 7 0 2 3 5-1 2-3 0-6-2-1 2-2 19 2 10-4-29-3 5-5 8-1-12 0-3-4-6-2-1-2 5-5-6-4 1-2 15 2 10 8 7-2 3-4-3-1-3-7-17 0-4-7-8-6-15-5 7-1 11 3 9-2 13 6 27 3 3-3-11-7 14-2-13-3-17 6-28-8 43-8-1-8-14 4-5-4 3-4-1-3-6 1-6-4 16-3 7 2 0 2 6 0 2-3-6-1-2-2 2-1-13-1 0-2 6-2-3-2-25 0-1-3 10-2-12 0-6-3 4-4 9-3 11 0 2 2-4 2 3 1 24-4-2-4-15 1-10-5-5 1-3-3 15-1 2-3-6-5 14-5-1-4-9-2-6-6 2-2 12 3-1-6 19 2 2-4-8-4 0-4-10-5 0-3-9-3-28 0-4-4-12-4 2-2 10 0 9 3 2 3 7 0 4-2-2-2-14 0-1-3-7-2 2-2 15-4 17 0 9-6 18 1 13-2 1-2-11-7-17 2 2 4-3 3-8 0-2-3 5-3 0-6-19 2-30-3-3-2 3-2 42 2 13-5 1-3-1-2-24 1-10-4-16 1-9-3 25-5 5 3 0 3 14 0 13-5-1-5 3-2 21 5 0-3-35-4-5-5-3 0-1 4-13 2 0 3-5 4-13-2 5-4 6 1-4-3 9-4-13-4 11-8 6-1 3 2-4 3 5 1 27-1-4-2 1-4-4-4 0-5-5-4-9 0-8 7-16 0-2-4 2-3-9-3 5-4-6-6 1-3 42 0 5 3 12 0 1-4-50-7-8-6 13 1-10-9 1-5 16 4 16-9-10-10 1-2 32-4 1-9-13 0-13-6 4-4 8 1-7-8 8-2 1-5-15-12 17-5 5-5-11-11-11-3 6-4-5-5 8-5 9-1-2-6 17-1 8-9-5-2-15 5-9-3 6-5-2-2 6-5 6 0 2-5-5-5 2-4-4-8-13-1 2-6-2-2-9 1-2-2 12-10-1-4-8-4 5-4-1-3-9-4 1-4 10-5-4-6 2-4-3-4-6-2-18 3 5-5 9-3 2-6-9-2-6 3 1-7-3-1-6-10-6 4-3-1 7-13-8-8-7 5-4-2-4 7-5-6-9 5-11-12-8 2-4-6-7 1-4-9-12-1-4 2zM607 989l4-2 11 5-12 0zM651 694l4-1 21 11 3 4-4 1zM707 673l8-1 1 3-4 1zM112 628l6 3 4 6-3 1zM684 561l-7 4-4-1 7-5zM701 515l4-1 3 4-6 1zM638 469l2-3 9 1-4 7zM669 419l-8 2-3-3 7-3z"/>
<path fill="#4e9f49" d="M732 676l-5 6-4-3-3 3 9 1zM688 671l8 4 4-1-2-3zM696 411l1 3 13 5 10-4-1-6zM706 378l-3 10 4 1 1 4 7-1-4-6 2-6zM571 46l-7 7-4-5-7 3-5-5-3 2-4-2-3 4-4-1-3 3-7-4-5 6-7-6-8 2-4 8-9 0 1 3-5 5-10-4-7 6-1 5-20 2-1 4-11 8-1 5-4-2-5 3-3 6-7 1-5 8-11 5-7 0 1 6-3 7-7 5-1 12-6 6-4 9 1 15-20 20-5 1 5 7-7 1 5 13-4 1-1 4-7 5 2 7-9 3 7 5-3 6-6 1-4 5 4 6-11 7 11 11-8 0-8 5 5 5-2 3 2 10 6 3 12-1-11 7-1 9 2 3-2 2-3-2-5 2-9-2 0 7 9 2 4-4 8 0 21 7-17-1 6 8-6-3-18 2-11-5-3 4 9 11-4 3 3 5-1 4-4 1-12-4-3 10-6-2 0 5-10-5-4 6 1 11 6 1 4 4-15 2-1 7 3 2 10-1 2 2-5 5 1 3 15 0 7 5-2 2-13-4-6 6 5 9-4 7-5 1 12 7-3 2 3 6-16-1-1 9-7 5 2 6-4 5 1 8-3 1-9-6-2 2 1 5-4 1-9 10-5-1-3 7-7-5-3 4 2 6-2 3-6-4-7 0-7 6-8-6 0 10-4-2-1-4-4-1-7 15-3-1-3-8-3 1-6-8-14-1-6 8 5 7 6 3-2 4 7 5-8 9 16 5 7 5-3 1-14-5-13 0 1 4 7 6-6 9 6 5-1 5 4 3-3 6 7 7-3 2-14-4-7 7 3 9-8 11 6 7-7-1 2 5-7 1 10 12-2 6-3 2-7-7-9-15-4 2 1 20 7 6-3 4 4 4-20 11-1 6-4 4 14 9 9-1 3 8-30-4-1 2 3 3 9 2 4 4-6 9 4 4-6 6-9 1-1 3 5 6-2 4 9 4 2 6 20 2-10 5-16-1-3 3 11 9-15 5 2 6-7 5 1 6-3 2 4 5 15 2 7 4-1 2-7 0-2 6-9-1-3 3 0 3 8 4 1 6 7 5 1 4-8 10-1 6-6 9-1 9 2 3 4 0 6-4 13 10-1 5 3 3 0 6 7 3-3 8 16 5-7 7-11 1 4 4-3 11 2 2 9-1 3 5-10 12 2 2 13-1 2 2-17 6 12 0-2 9 3 3 9-7 3 2-6 14 9-11 3 1 0 8 5 1 3-2 2 6 10-4 2 5-6 7 3 4 12 4-4 5 0 4 7 4 1 3-4 7 6 5 12 1 9-15 7 0 2 4-5 6-3 17 21-15 3 1-14 13 2 6-7 5 3 5 6 0 3 4-10 4-1 8-3 3 15 3 3-5 3 12 3-13 3-2 3 8 3-5 4-1 4-10 5-3 3 1-1 10 6 1 4-3 8 0 6 15 8-8 3 17 12-7-1 6 4 0-2 11 4 2 2 5 5 0 10-9 2 4-3 4 7 4-12 11 3 4-5 7 4 3 10-1-9 9 1 4-6 3 2 7 6-9 16-2 3-5 2 2 4-3 3-14 5-4 1 5-7 16 6 1 6 6 9-12 2 1-1 3 6-2 1 2-9 12-2 7 10-6 4 1 1 6 3 1-1 7 3 1 0 9 9 7 3-2 9-20 1 5-3 10 8 3-2 8 4 9 7-3-1-5 4-6 0 8 8 5 5-5 4-14 5-6-3 9 2 8-5 10 0 6 10 2 0 8 3 2-1 6 7 1 0 5 9 9 2-2 0-12 2-1 4 9 2 0 3-10 3 0 2-9 8 10 3-1 5 5 8-6 11 4 3-2 7 2-4-6-3-16-4-4 2-2 7 2 5-6 12 1 4-9-14-8 5-1 1-5 3-2 8 1-9-7 16 1 6-3-1-5-16-7 1-4-7-8 2-2 19 8 11-1 0-5-13-11 6-1 9 3-3-10 8 2 3-5 6 2-9-11 5 0 8 5-4-6 9-2 3-4-7-8-16-6-2-5 3-3 11-2 12 3 7-1 1-8-5-9 2-3 5-1-1-6-9-3-23 0 3-4-4-2 0-3 3-2 21 2 2-4-10-2-1-3 27-4 4-2 1-4-12-3-10-10-12-1 6-11 17 1-16-4-2-7 15 3 7-1-4-6-8-1-5-4-15-2-2-3 9-2 28 3 1-2-4-2 2-1-3-5 2-4-21 2-5-3 3-4 9-1-11-9 7-4-15-7 7-4 24-1-10-5 14-2-23-6-8-7 0-4 8 0 7 7 14-1-4-2 4-7-11-4-12-8-1-4 15 4 3 5 14 9 12 1 2-3-16-9 0-6 5-3-1-3-13-2-2 3-7 0-11-3-5-11 20 6 2-2-3-5 7 0 12 5 0-5-3-3-6-2-2-5-5 1-2-2 9-3 12 6 11 10 11-1 6 2-8-8-7 0-6-4 2-3 17-1-4-9-5-3-20-3 1-3 23 0 1-2-9-7-15-3-4-7 14-3-12-4-5-7 4-2-4-4 2-2 10 2 2 3-3 4 11 4 23-3-3-8-14-8 1-3 6-2-6-2-5-8-6-1-5-8 6-4 32 8 1-4-15-4-8-10 2-4-15-5 4-2 13 1 1-3-6-4 7-2-2-3-13-3-2-5 3-4 4 6 19 4 9-3 4-4-9-5-13-1-1-3 5 0-16-8-8-9 3-3 5 0 10 5 10 1 5 3-2 3 5 4 12 3-8-10-15-9 6-2 26 16-15-16-19-9-21-5-9-7 8 0 14 6 6-2 15 1-7-3-1-3 11-7 12 1-3-5-24-3 2-2 16-1 4-3 0-2-6-1-4 4-11 0-1-3 12-2 1-2-12-4-2-3 17-5-5-6 10-2 7-6-27-15 14-2 20 1 10 3-6-4-20-2-3-3 13-3 4-4 10-3 2 5 5-3-13-7 0-5-12-5 8-3 6-9-28-1-6-6 0-3 19-9 17 0-22-6 6-5 6 1-1-2-7 0-1-2 4-3-4-3 12-3-3-1 2-2 6-1-3-4-15 0-2-2 6-1 1-4 11 1 5-2-4-4-9-1-1-4 11 0 13 6 5-8-7-1-5-6-28-1-7-5-12-3-16 1 1 3-4 3-11-3-1-4 5-5 26 2 9-2 8-5-4-2 1-4 14 4 8-3 12 0 2-3-8-5 10-2 0-4-9 0-8 4-13 0 0-5-14 0-10-5 11-3 39 2 8-5-14-1-4 4-8-2-2-4-33-2-10-6-19 1-1-2 2-5 8-3 18 7 10-2-2-14 3-3 7-1 6-7-11-4-15 3 17-10-9-1-2-2 5-6-18-14 3-1 12 6 3-3-6-5 2-3 10 9 14 2 17-2-5-2-16 1-12-7-3-5 8-1-4-5 3-6 6-1 8 3 10-4 0-3 4-2-9-8 2-4-3-2 1-2 12 3 17-1 0-2-5 0-16-12 9-5-3-7 7-2 1-4-15-9-2-4 11-2 1-5 7 0 1-3-8-9-12-5 9-3-7-4 6-5 0-3 8-1-2-3 2-2 10-1-1-3-10-3 6-7-3-2 4-3-1-9-3-2-6 3-6-6 8-5 5 0 3 5 6 2-1-8-5-3-9 1-2-7-9-4 2-6 9-4-2-4-8-4 5-7-10-3 0-3 11-8 0-2-7-1 6-7-26-1 4-6 12-8-6-1-9 5-2-2 3-8-4-2 0-5-4-1-4 4-2-3-4 0 8-12-7-9-7 5-4 0-4 8-4-9-4 0-6 5-2-5-11-8-6 2-6-6-7 2-3-10-15 1zM574 1090l2-5 7 1-5 5zM691 561l-15 9-9 11-3 0-7-9 5-6 13-8 9-1zM678 503l1 3-5 4 0-5zM690 261l4-1 2 4-3 2z"/>
<path fill="#7eb35e" d="M580 949l8 4 15-2-1-3-10-3zM571 49l-4 1-4 6-3-4-7 2-4-4-15 1-3 3-6-3-6 5-7-5-6 1-5 8-5 0-9 8-9-3-6 4-2 8-2-2-5 0-4 4-8-2-3 5-8 5-2 7-6-1-7 8-5 0-5 9-19 6 2 4-5 9-5 3-2 12-6 7-5 13 2 10-10 12-14 10 4 7-6 1 6 12-4 1-9 10 2 6-7 3 6 4-5 7-8 4-1 4 3 4-8 5 0 4 9 9-15 5 5 4-3 4 2 6 11-1-1 4 14-3-3 5-14 8-1 7 6 2-3 5 17-2 3 3-7 2 12 6-6 4-10-2 8 8-2 3-22-6 7 4 1 4-14-3-6-6-5-1 2 6 14 12-10-2-1 8 16 14-1 3 6 9-11-1-2-7-12-13-9-5-6 2-1 7-4 2 7 11 0 4-5-2-5-6 0-4-5-3 4 4-4 8 6 6-10 3 18 3-3 4-4 0-1 4-6 0 14 3 6 8-5 1-10-3-3 3 5 6-5 11 7 7-5 3 3 8-9-3-7 3 2 8-9 4 3 7-3 2 1 4-4 0 0 8-3 6-2-2 1-4-7-2-2 6-4-1-9 9-6 0-3 7-6-3-1 14-5-6-5-1-2 14-4-13-3 7-2-1 1-3-2 3-5-5-3 1 3 10-1 6-7-10-1 11-4-9-4-1-1 14 2 6-10-19-4 2-5-10-13-1-1 6 8 7-2 4 7 5-4 9 21 12-6 1-16-5-6 1 10 7-5 1-6 8 5 7-1 4 5 4-2 4-3 0 15 9 7 8-5 4-3-6-8-5-18-2-2 8 2 7-5 3 2 5-6 3 9 8 12 5 7 9-3 1-7-7-14-8-8 5 15 17-11-1-1 2 10 11-1 2-14-8-3-9-10-7 2 14 8 5-4 1 3 2-1 6-17 5-6 9 0 4 8 5 11 1 2 11 7 3-15 0-1-3-6-3-7 0 8 6-1 10-3 2 2 11-12 0-1 2 3 4 9 4-1 4 9 2 2 2-2 2 9 1 7 4-20 5 19 1 10 4-30 1-5 8-10 1 4 7 9 3-14 0-5 5 1 5 27 11-13 3 5 5-1 2-14 0 5 3 1 8 10 6-4 7 3 4-6 3-9 12 3 8 8-3 5 4 4-6 6-1-5 8-1 7 25-14 5 5-4 3-10-1-14 11 3 7-1 4 11 4-7 6 2 5 7 2 14-4 5 2-2 3-16 6-9 13 2 4 15 2-12 13 0 4 16-1 2 5-8 7 0 4 9-4 2 7 5-4 2 1-1 8 2 2 9-7 3 7 10-1 1 2-3 2 3 4-1 7 12-6 5 1-12 10 4 2-4 10 9 9 1 7 7-1 3-3 6-13 2 4 10-2 13-11 4 0 4-5 2 1-5 8-18 15-3 6-2 13 17-11 7-1 2 2-17 13 4 4-2 9 4 9-7 4-2 10 4 1 8-5 2 6 4-11 5-6 5 7 4-6 10-4 0-4 4-4 6-2 4 3-2-5 2-5 5 4 0 8-17 8-3 6 4-3 12 3 3-3 1 6 6 8 4-5 3 1 3 6-1 6 3 2 4-1 17-20 1 2-13 22 9-12 9-1-1 3-10 6-5 13 8 8 11-10 4-1 2 2-4 11 8 1-8 9 4 4-5 8 4 3 7-3 2 2-10 12 11-1 3-3 4 1 4-13 6-8 4 2 0 5 3 2-5 4 5 11 3 0 7-7 6-10 1 6-3 7 9-7 2 3-14 21 13-3 6 25 8 0 4-3 8-19 3-2-6 24 3 1 5-6 2 1-1 15 2 2 14-17 2 3-6 12 3 7 6-3 6-17 7-7 2 5-5 8 1 11-4 9 2 3 4-2 3 3 3 18 5-2 6 11 2-4-1-13 3-4 7 16 5-7 1-10 4-5 4 12 10 7 11-7 9 4 0-9-3-3 2-5-11-5-2-4 9 0 2-2 3 4 6 0 3-3 12-2 2-6-18-8-3-6 3-1 8 5 6 0-2-3 2-3 9 0-12-7 4-3 14 2 2-5-11-2-2-2 3-7-5-3-2-6-9-6 13 2 7 5 18 2-11-12-11-6-11-11 4-1 17 12 9 1-9-9 0-5 20 8 6-3-6-8 1-2 7 1 2-4 9-1-3-5-8-4-16 7-10-1-8-7 1-2 3 0 4 5 9-2-9-11 4-2 10 4-2-5-10-3 8-1 5 4 14-2-9-8 4-2 5 1 12 10 5 1 3-3-7-15 3-6-26-2-9-4 7-1 0-6 4-3 13-1-4-4 1-3 24-6-14-11-15 3-9-5-23 1 0-3 13-3 2-3-11 1-10-6 11-3-1-4 6 0 4 5 6-1 8 11 7 0 4-3 1-9 3-4-11-8 5-3-7-1-3-4 10-5 12 1 6-3-1-3-14-1-7-5-10 7-15-2 14-2-1-3-9-4 8-3-7-2 0-2 9 1 3-7 12 1 4-2-22-8-1-4 12-1 2-4 12 0 3 5 5 0-2-4 7-4-10-2-8-6-14-3 7-4-1-6 4 0 8-6-4-8 12-2-8-3-4-4 0-6-7-5 22 5-16-11 10 0 10 5 6-3-10-7 1-3 12 0 15 5-2-4-6-3 4-1 18 5 1-4-7-3-14-1-6-4 4-2-3-2 1-2 14-1-1-6-13 5-4-1-1-3 3-6-12-3-4-4 23-4-7-5-12-1 3-1 0-5 7-1 5-6 29 7 1 4-8-2-3 3 16-1 2-5-3-4-8-3-13 0-16-6-1-5-6-7 9-1 7 5 1 4 7 3 8-2-5-8-8-3 1-5-3-3 3-4-13-5 10-4 8 8 10 3 8-1-5-7-19-4-10-7 21-6-1-6 7 0-12-6 0-6-5-3 3-3 11 2 8 8 6-2-1-4-16-7 2-3-13-12 2-2-1-4-15-5 3-2 12 1 5 6 22 5-2-5 3-4-3-3-20-5-4-4-9-3 7-5 22 7 3-2-3-5 2-2 11-1 2-4-20-3 11-5-8-3 7-4-3-8-17-1-7 3-1-5 3-3 12 2 23-2 1-2-5-3 1-2 14-7-13-10-12-2-2-5-5-3 8-3 7 4 10 0-1-4 11-2 15-8-7-2-1-6-13-4-13 12 2 5-11 2-1-4-7-1 3-7-2-9 6-2 6-6 12-3-12-1-11 3-7-2 2-4 17 0 2-10 14-6 0-2-4 1-4-3 2-4 8-1-4-6 1-5 14-7-14-2-5 7-6 2-5-6 5-5-1-3-23 1-1-2 6-5-21-1-2-2 5-4 18 2 8 7 10 0 5 3 9-1 9-5-5-7 13-4-2-3-7-1-5 5-4 0-3-7-18-7-8 1-3 3 1 3-4 3-7 0-2-4-7-4 0-4 5-4 1-5 4 0 3 4 19 1 8-7-25 1-7-3 3-3 36-3 17 4 6-4-7-3-8 1-5-4-4 4-7-1-4 2-4-6 3-3-11-5 15-4 1-4-14-1-5 2-5-2 7-3-4-3-26 1-2-2 6-3 3-7 5-3 7-1 11 8 4 0 1-3-6-3 7-3 7-8 7-2-1-4-25 0 1-3 7-2 7-6-16-10 1-4 10 4 0-3-11-13 3-2 10 3-1-6 5-1-1-3 6-3-2-5 2-2 19-6 4-5 4 0-7-5 2-4-6-4 1-2 24 1-1-4-10 2-14-7 0-4 13 2 8-6 1-3-7-5 2-2 8 1 1-3-12-9-12 0-5-11 2-2 6 1 3-4 5 7 4 1 1-5 10-1-6-8-16-6 11-3-5-4 4-4-5-4 5-4-6-3 2-3 10 2 11-2-7-2 4-8-2-3 3-2-2-4-8 0-5-6 2-5 6-3 1-3-15-15-13 3-7-1 16-8 12-1-17-1 17-10 0-2-9 1-2-2 6-12-13 1 10-8-1-2-15-1-2-3 4-6-5 1-2-2 4-10-3-2-6 2 4-7-7 1-4-3 7-12-4-7-9 3 0 5-4 4-4-2 1-5-3-3-4 1-5 6-11-13-4-2-5 2-7-6-6 2-2-2 1-6-17-1zM565 1022l5 1 6-3 6 4-16 1zM279 1020l1 8 4 1 1 3-11 3zM551 1018l9-1 5 3-7 1zM565 925l6-2 3 3-7 2zM571 895l7-3 5 5-6 1zM121 892l3-5 8 3-3 3zM617 661l2 3-7 5-2-3 4-5zM244 506l12 3 6 10-3 2-9-8-5-1zM262 496l11-1 1 2-6 2zM284 490l2-2 14 6 4 6-8 0zM305 473l2 2-3 6 3 3-8 3-4-1zM647 390l-15 6-9 0-2-2 21-5zM335 372l2-2 10 6-3 2z"/>
<path fill="#b6ca76" d="M591 963l-18 3 13 2zM656 475l3 3-6 3 0 6 8 7 17 1 4-3-14-19-9-1zM571 53l-8 5-4-3-6 2-6-5-12 0-4 4-7-2-5 4-6-4-7 1-10 10-1 6-4-4-4 2-8-1-6 4-1 7-6-1-5 4-6-3-14 11 0 6-8 0-6 7-6 0-5 9-16 7 1 2-10 13-2 9-10 16-2 7 2 9-22 22 3 8-5 2 0 4 4 7-5 1-5 6 0 10-3 3 3 4-15 11 3 7-7 8 7 7 6 0 1 2-18 5 0 3 8 4-9 1 3 4 20-7 2 2-2 4 5 3-15 9-4 7 8 6 6-1 6 4 15-4 1 5-5 6-8 0 4 3 10 1 6 6-5 2-5-4-16 3 6 8-7 2 2 1-2 2-22-2 10 12-13 5 3 4 7-3 8 2 4-2 10 1 16 17-4 2-14-12-6-2 2 5-3 2-14-4 4 14-15-3-2 7-2-2 2-11-12-14-6-3-6 5 4 7-2 6 3 7-8 2 7 4-6 8 7 7 2 6-14 0 6 14-6 1-1 3 10 6-3 3-7 1 4 7-1 3-8-3-6 2 0 5 5 6-7-1-3 2 1 13-8 2-1 10 3 3 9-2 6-7 15-5 2-6 5-4 7 9-1 6-7 2 4 7-2 1 2 6-6 4-12-6 5 6-1 3-4 1 0 3-6-10-7-2-3 4-4-2 2 5-2 6-16-22-11 5 0 5 3 3 11 3 8 10 9 0 7 9-2 4-6-1-8-6-2 4-13-10 4 15-1 4-14-20 2-13-8-3-3 5-4 0-3 4 0 21-8-19-5 16-6-9-9-1 2 16-9-8 1 7-2 2-8-11-1 8 6 11-2 4-9-11-3-10-14-9 4 7-3 5 9 10-1 6 17 11-28-4 13 8-11 0-4 4 1 11 6 7 5 2-1 4-5 1 14 8 8 8 3 0 3 7-5 2-17-5-2-9-9-4-9 0 0 3 13 5-2 2-11-1 4 1 1 3-11 4 1 6-4 3 16 9 8 12-5 2-12-10 0 9 5 4-3 4-11-2-1 3 11 13-2 2-15-2 1 5-19 2-1 2 4 5-8 1-1 3 3 3 26-3 8 8 15 3 11-2 10 4 7 6-10-1-4-5-7 5-11-5-15-1-9-6-6 1-1 10 13 5-3 3-16-3-7 1-3 15 7 5 14-1 8 4 4-2 3 3-2 2-10 0-8-3-5 3-18 1 14 9 20-2 9 3-1 4-16-1-2 2 9 4-4 3 1 3 12 2 1 2-4 5-10-3-14 1-5 7 6 1-1 4-13-2-2 2 11 5-16 3-1 2 8 4-2 4 2 1 7-1 3 5 16 3-22 5 3 3 14 3 4 4 16 0 5 4-2 2-20-1-6-5-19 0 0 3 5 4 18 2 2 3-5 4-9 1 0 3 10 0 2 2-23 10-4 4 2 4 24-4 8-5-2 5-6 5-4 0-1 5 4 0 17-10 1-4 12-10 3 4 12 0-16 6-9 9 8 1-13 9-10-1-10 8 3 9 13-6 9 3-1 4 8-1 2 2-13 5-2 3-6 0-8 4 5 4 15-4 9 1-6 11-14 2 1 7-6 2 0 3 31 4-22 8-5 7 2 2 11-2-4-4 2-3 15-1 6 2 1 5-7-1-9 6 3 4-3 3 0 5 9-3 0 10 7-5 8 5 9-4 2 2-1 8 4 7 10-3 1 3-10 11-1 10 11 8 4-2 9-16 10-2 2 5-3 6 2 0 8-7 5-1 9-10 3 0-5 13-11 13-6 3-4 8-1 7 3 0 13-8 11 0-4 6-7 2-8 7 3 5 8 1-7 5 2 12-5 5 1 6 2-2 4 1 9-13 3 1 1 4 11-13 5 0 13-12 9-28 7-8 0 8-6 13 5 11 0 6-10 2 5 7-11 11 5 0 8 10 3-1 1-4 3 9 7-3 2 4-3 6 2 0 23-26 2 2-10 19 12 1-4 5 2 4-3 1-5-3-5 5-2 8 7 4 17-11 4 1-4 7 3 6-4 3 4 0 1 3-6 8 4 3-4 7 4 2 8-2 1 2-4 1 2 6 5-2 0-5 7-14 7 7 10-3 0 4-5 7 0 9 6-3 3-8 5-4 4 2-1 6 8 1 5-3 3 3-13 8-7 11 5 2 5-3 3 1 12-18 11-10 1 8-24 32 4 11 9-2 5-14 5-5 7-15 1 13-8 16 5-2 6-12 3 2 1 7-4 8 1 8 13-10-1 14 9-9 2-7 10-1 6-4 1 4-7 10-6 4-2 6 2 6 6 4-3 9 6 16 5-2 6-10 4 12 3 1 3-3 6-20-1-22 2-2 5 4 2 8 0 11-4 4 1 13 12 7 10-11-2-5-5-3-3-12 5 4 11-3 4 3 7 0 7-3-1-6-14-6-11-13 8 0 16 10 0-3 6-3-11-8 10-3-18-8 2-2 9 2 10-2-7-8-10-2 1-10 25 6 3-2-22-20 0-9 2-2 9 6 0 5 5 4 3 0-1-7 6-4 7 6 5 1 5-4 0-4-15-4-12-11 2-4 12 6-5-9 1-6-4-4 6-2 22 4-9-7 4-3 12 1 12 7-3-8-9-9-6 1-18-8 7-3 3-7 9-2 1-3-6-3-15-1-13-6-4 1-3-3 3-4 42 7 7-4-9 0-13-6-32-1 11-8 0-2-10-4 5-4 5 0-6-7 2-2 13 0 3 4 14 5 5 6 6-1-2-6 6-4-13-7-27-2 3-4 26 4-12-8-10 0-1-2 5-4-18-4 1-2 20-1-1-3-34-1-4-6 2-2 11 0 12 5 8-1 1-2-12-3-1-4 21 1 9-6-2-2-5 1-4-5-13-1-2-2 4-3 0-3 4-1 13 4 5-1 3-7 10 2-4-7-14-4 1-4 5-1-2-2-21 1-2-2 14-7-5-7 2-2 4 0 9 10 3 0 9-6-5-6 8-1-6-7 1-5-20-10 6-1 15 4-7-6 1-2 17 1 0-8-7-6 15 7 10 1-3-8 3-6-3-4-23-2-8 2-7-4 0-3 6 1 7-4 9-1 14 3-22-11 22 0 1-2-12-5-24-3 8-5 11 5 8 0 2-5 5 0 5-6 4 2 7-3-11-6 1-5-6-8 4-3 14 2 1-3-4-4 1-4-12-5 6-3 2-4-14-3-11 0-7 3-9-8 2-2 12 0 14 5 8 0 16-7 2-5-4-8-10 2 3-11-10-3 18 1 8-2-5-8-10-6 3-7-14-4 6-6 8 0-7-7-11 0-10 6-9 12-7-9-11-2-2-2 3-3 22 1 2-2-6-6 4-3-17-8-5-9 6 0 13 11 21 2 6 5 19 0-7-4 1-5 19-4 1-2-7-1-6-5 11 0 2-3-3-2-5 2-16-1-10-7 7 0 0-4 7-2 23 2-12-5-5-10 16 9 15-9-7-6-13-1 0-7-10-3 10-6-3-4-6-2 4-12-13-20-13-4 8-5 7 1 4 6 9-4 11 0-1-4-9 0-8-5 7-4-11-3 10-5 8 0 1-3-21 0-4-6 4-4 17-1 6-5-26-2-5 2 0-8-17 0-4-3 12-2 11-7-29 0 1-5 17 2 10-5-4-7 0-10 8-3 3-7 14 0-2-1 6-5-3-4-5-1-3-5-17-1 6-4 5 0 1-3-8-2 9-3-24 0-4-2 2-3 7-2 2-4-33 2-5-2 6-1 3-5 7-3 27 2 16-3 11-6 7 0-15-3-17 6-20 0-14-4-1-7 2-1 9 6 19 1 4-3 0-3 8 2 19-9-3-5-8-3-5-7 1-2 8 0-10-16 4-3 3 5 7 2 1-10 4-2-1-3 3-3 6-1 1-4 5 1 13-9-3-7-18-6 4-2 9 3 4-3-3-3 0-8 15 1 2-2 0-4-4-5 8-7-5-4-12 0-6-7 2-2-1-11 5-3 6 0 10 7 5-2-7-7-12-4 8-11-5-6 5-3-9-5 1-2 14 0 7-5 0-3-11 1-4-3 6-11-1-6 6-9-9-2-2-7-3-2-10 2-12-2 3-4 14-3-6 0-1-2 18-11-6-4 0-7-17 0 13-11-11 0-7-3-4-7 8-8-5-2-9 3 7-8-6-6 5-10-2-6-12 12-3-2 0-10-4 0-14 14-1-2 6-11-12-9-12 1-2-6-6 1-2-7-14 0zM330 1037l2 2-7 4-5 7-3-4zM218 960l-1 5-6 5 1-6zM291 960l-12 13-4 1-2-2 11-10zM510 921l5-2 5 3zM512 915l4-2 14 5-10 4zM246 887l2 4-7 3 0-5zM136 874l-5 4-4-1 5-5zM558 856l2-2 9 0 5 3zM591 788l-8 1-5-2 9-3zM574 709l-9 11-3-3-6 1-4-5zM290 697l11-3 6 4 7 0 1 3-3 2-6-3 1 6-2 2-9-1-6-6zM540 688l11 1-3 2zM592 683l3 4-1 4-6-1-6 6-2-5 8-8zM211 656l4-1 7 5-7 0zM311 593l5 4 0 11-11-8zM233 584l7 9-1 3-7-8zM585 413l-10 5-4-1 3-5 9-1zM621 379l2-2 4 2 5 6-9 1z"/>
<path fill="#e1d988" d="M407 1149l-4 2-6 10 2 6 9-9zM422 1126l-3 6-7 3-2 14 6-7zM314 1087l5 2 10-5-12 0zM564 982l6 1 3 6 15 2 0-4-5-4zM213 976l-8 5-10-1-5 7 0 5 7 2 5-5 8-3zM635 728l-7-1-4 2-4 7 13-2zM248 501l5 1 4-3-6-1zM547 54l-12 1-3 3-10-1-2 3-10-4-11 10-2 8-6-5-3 2-6-1-8 4 0 8-7-2-5 4-8-2-6 5-6 11-7 0-6 7-6 0-7 9-9 3-9 11-17 33 0 14-5 7 0 5-9 3-7 9 3 8-6 3 7 8-8 3-3 4-1 17-4 2-2 5-7 3 1 7-6 7 5 8 9-2 3 2-7 6-14 3 1 3 7 2 17-2-3 5 6 4-14 8-4 8 9 3 11-7 1 3-5 7 16-2 4 4-6 6 1 5 12 3-3 9-4 2-10-4-8 3 4 4-1 4-5 0-1 4-14 3 2 9 14-3 10 5-6 2 16 15-7 5-10-8-19-2 1 11 5 5-2 1-4-4-9 1-7-4 7 13-2 2-11-6-4-5 1-4-5-10 1-2 5 2-8-7-4 1-1 3 3 5-3 5 5 5-6 1 6 1 2 3-9 4 8 2-7 5 5 10-2 2-10-2 4 9-3 7 6 1 2 3-3 5-9 3 2 8 6 3 1 3-8 3-10-4 2 7-8 2 0 12-3 3-6-1-1 8 8-1 8-8 12-4 4-11 7 1 4-7 4 4-4 9 7 5-5 9-6 1 5 7-3 3 2 5-11 3-4 5 1 6-9-3-6-11-7 3 4 9 6 4-3 13-9-1 0 4-5 5-4-9-9-5 1 13-3 3-2-7-7-6-7-12-3-13-3 5 5 9 3 13-4 2-4-7-4-2 7 16-1 17-16-37-4 1-2 12-3-1-2-7-5-3-2 2 1 7 8 8 8 18 3 2 3-5 7 15 12 6-1 7 6 12-1 6-5-1-10-9-3-16-5-5-5 1-4-4-10-25-11-10-3 6-6-4 5 17 5 5-1 3-14 1-4-4-2 1 1 3 4 1 2 4-16-3-7 3 0 7 5 4 11 0 3-2-3-3 3-1 7 2 9 9 3 7-5 5-9-2 7-2 0-3-5-4-9 0-5 8 7 3 2 6 10 4 6-6 8 3 3 6-6 1-7-3-4 3 10 8-1 3-10-3 0 3-9-5-10 5-9-8-10 6-1 4 4 5 10 2 3 3-1 2-4-2-3 2 4 9 9 3 22-8 4 7 5 0 5 8 14 3 1-8 16-9 7-7 3 2-14 14 3 6-10 7 18 14-4 1-12-4-14-8-10-10-9-2-7 2 8 7-3 4-12-5-4-4 2-3-5-3-15 1 1 7-2 2-9-5-6 0 16 15-12-3-2 4-11 6-14 0-2 3 21 4 4 4-1 3 3 1 7-3 21 6 14 8 7 0 4 4-13 3-7-2 0 2 16 8-2 2-23-4-12-12-12-5-8 2 2 7-5 4-22-3 0 9-2 2 2 3 17 1 22 8-11 4-19-2-8 5 4 3 18-2 12 6-1 4-16 1 13 2 11 7-10 0 6 5-10 2 3 4-25-2-3 4 6 2-5 4 1 4-14 6 6 6 3-3 5 3 6-1 2 3-3 2 24 3-9 3-2 5-17 1 0 3 5 1 2 3 21 1 3 5-1 4-5 1-16-2 12 6-19 5 9 3-6 6-5 0 9 2 6-3 2 2-5 7 19-16 7-1 1 5 5-1 6-9 17-8 5 1-11 8-11 13-18 8 1 2 8 0 21-14 6 4 1 4-10 2-21 13-8-1-4 5 1 5-5 6 6 0 3 5 15-2 10-5 4 2 14-13 16-5 18 5-32 6 1 4 5-2 18 0 0 2-34 5-3 3-8-2-19 8-12 1-2 4-6 2 16 0 5 4-1 4 13-5 9 2 0 6-7 5-6-2-10 4-11 0-7 5 6 4 20 2 12 5-3 3-9 2 4-1 3 4-2 3-2-1-1 4-3 2-9-1 3 4-6 7 8-3 1 8 6-5 2 3 6-8 0 9 3 0 4-5 4 8 7-6 3 3-5 13 2 1 5-3 10 2 6-13 12-5 3 5-9 9-1 4 11 0-4 9 9-7 2 2-6 11 13-10 5 0-1 7-13 21 2 3-1 5 8-2 6 3 0 4 11-7-6-11 5-1 13-10 6-15-6-1 2-5 17-15 8-1 2 4 8 0 4-3 11 4-1 22-5 2 3-17-3-5-9-1-5 5-5-1-13 10-6 11 3 4-11 9 2 1 9-5 1 2-8 7-8 12-19 13-14 0-3 2 1 3 9 3 2 8-9 5-2 12 11-10 3 0 4-6 13-5 5-10 7-5 7-18-3-1 1-3 13-11 3 8-2 8-5 2-1 6 1 2 9 1-6 7 0 6 3 0 2 4-3 4-9-1 4 5-4 4 2 10 4-2 3 7 8-3 6-10 4 12 6-7-1-15 6-1 3-6 11 3 5-2 0 3 4 2-12 5-3 4 3 6 8 1-5 4-9-3-6 7 0 4 8 2 6 11 11 2 0 3-6 6 15 0 9-5 1 2-6 9-12 2-9 12 13-13 3 2 2 7 3-2 2 4 7 2 11-13-1 21 10-5 0 11 6 0 7-3 3-9 3 4 0 8 12-13 3-6-2-4 4-6 4 0 1 4 5-1-1 8-12 13 3 2 5-2 4-10 3-3 2 1-5 9 0 9-6 10 3 11 7 6-4 11 3 0 7-7 8-20 4 4-7 9 3 8 23-4-2 4 2 5-8 5-4 13 11 3 7-14 3 0-3 14-13 13 2 13 7-8 5 7 9-12-1-24 3-5 6 4 4 13-1 4 3 1 0 5-6 6 0 5 3 3 4-2 5 3 2-2-1-4-5-3 4-4-5-11 1-4 3 2-4-8 1-3 4 0 20 14 8-2-2-4-13-7-10-12 1-3 12 3 3-5-8-14 11 0-4-4-1-14-9-10 4-2 14 9 15 2-16-15-3-12-5-4-8 6-13-5-3 7-4 2-5-8 7 0 1-6 6-2 10 5-1-15 4-4 5 11 9 11 18 8 5 0 6-3-20-22 5-2 10 5 1-4-8-7 4-4 17 0-1-2 4-3 14 0-4-3-6 0-4-6-11-5 10-7 4-8-22-9-10 3 2 8-3 3-14 0-6 3 6 3 2 4-8-1-4-4 0-8 3-2 19 0-13-9 15-3 1-5-11-3 9-5 5-6-13-3 12-5 0-6-3-4 10-1-5-6 9-3-6-3 3-4-10-5 3-4-2-2-8 1-3 4-16 0-3-2 6-5 7-1 0-5 3-3 26 4-6-2-3-6 18-4-4-4-10-2-8-5-20-2-8 3-16-6-15 3-8-7 3-3 4 4 6 1 1-2-3-3 2-2 18 6 0-3-5-3 12-1 3 3 27 6 7 5 4-1-7-4 3-3 25 6 3-3-4-3 7-4-15-9-22 2-24-12 14-1-2-4 11 0 5 3-5 1 0 3 9 3 12-6-1-4-10-5 0-4 19 1 5 5 6 1 2-2-3-3 9-3-9-7 3-3-3-3-34-9 7-4 23 3-12-7-4 0-7-6-2-6 10 7 16 4 3 3 8 0 6-3-6-7 1-3 24 9 1-2-5-6-12-7-10 2 1 5-18-5 0-4 7-1-8-8 15 2 4-5 9 0-15-5 0-3 22-2-32-4-2-3 8-2 3-6-13-2-8-4 15-1 7-3 10 4 4 9 18-4-1-11 2-3-5-8 5-4 4 1 1-4-12-3-3-3 5-2 1-5 4-1-14-3-16 7 2-3-8-4 1-3-3-6 2-2 33 2-16-3 1-3 4-1-3-3 4-5-1-3 4-1 11 4 6-4-11-8 3-5 12 4 9-3-3-5-12-2-5-4 6-2 4-5-9-1-2-2 2-6-6-3-7 4 0 3-7 8-4 0 0 7-7-2-11 13-2 6-6 2-4 7-4 0-2 5-4 1-2-5 3-4-5 0-3-5-13-1-1-2 14-2 2-3 16 2 7-6 1-5-14-4-14 2-2-3-5-1-4-4 2-4-5-15 2-1 6 8 10 4-3 3 2 3 9 0 11 4 14-9-14-3 7-10 4 2 10-2 1-5-5-1-10-11 1-7 2-2 5 1 0-3 5-4-1-8 2-3-3-6-17-2-1-5 14-4 1-7 4-2 4 3-3 11 5 3 0 9 6 9-4 9-5 4 9 6 14 1 13 5 5 0 1-3-14-5 11-6 6 6 15-2-13-7-7 0-4-7-9-5-3-6 2-4 6 7 4 0 1-4 5 2 9-2-4-10 2-5 13 4-16-7 3-4 10-1 0-2-12 1-2-2 14-8-2-2-12 3-5-2 3-4 10-3 0-13-9-5 2-3-2-4-6 0-1-5-8-2 9-10-10-3 11-5 3-5 11-2-8-2-6-7-7-1-5 5-9 1 6-3-2-2 2-4 10-2-4-5 7-4-10-1-13 5-3-8 11-7 7 0-20 0-2-2 2-5-2-1 7-8 9 7 5 1 8-5-1-10-4-4-27-1 3-3 10-2 5 2 13-1 5-2-2-3 2-4 14-3-12-5-2-3-7 1-1-4 9-6-7-4-12-1-11-10-15 0-1 6-10 0-1 3 6 5-4 3 1 5-5 5-12-11 6-4-2-2 5-12 15-2 3-5 9-1 4-3-2-3-13 1-3-3 0-4 4-3 7 0-3-4 2-8 3 0 10 12 4 0 0-3 7-4-1-8 11 3 11 8 8-1 7-5-2-2-4 3-9-2 5-7-4-9 6-1 0-3-11-24 9 1 1-3 8 2 11-3 2-2-4-5 8-1-6-5 1-2 7 4 8-2-3-5-19-8 7-3 13 3-2-8-8-5 12-3-2-5 2-4 11 1 3-3-17-8 0-15-3-2 12-6-3-4 7-11-7-5 3-5-7-4 14-3-5-8 4-5 4-16-3-1-7 6-8-5 1-2 9-1-3-11-18 1-3-2 10-7 6-8 9-5-13 0 10-6-4-4-20 6-5-1 14-8 4-5-15-2-2-2 2-5-7 0 5-7-4-4 2-5-4-5 2-9-17 12-1-2 8-10-1-8-2 1 1 4-5 5-13 3 8-16-10-4-2-4-7 0-5 3-3-7-6 6 0-12-14-1-15-6-4 0-4 4-3-3-8 2zM411 1062l2 9-4 8-4 1-6-6 5-3 0-5zM446 980l8 12-10 7 2-11-3-5zM520 969l4-3 5 2-3 2zM350 963l-8 3-6-1 9-4zM476 926l10 2 4 4-4 1zM194 921l3-3 7 3-5 2zM185 916l1 5-5 2 0-4zM234 890l7-7 5 0 8 5 8-4 0 6 7 4-7 7-9 1-8-4-8 1zM535 876l4-2 6 4-8 1zM331 857l3-3 4 5-5 2zM298 846l-3 11-7 2-3-9zM194 847l7-3 7 1-5 3zM349 831l-4 6 4 5-9 0 1 7-6 3-9-12 13-9zM177 793l-1 3-11 4-6-2 10-10zM344 778l2 3-5 4-1-4zM155 759l13-1 3 4zM576 751l14 1-4 6-8-2zM184 729l9-2 18 4 4 3-5 1zM154 729l15-3 16 4-19 3zM276 712l5 0 4 5-6-1zM205 709l6-2-1-3 3-2 8 3 10 8 9 0 3-2 0-6 10-1 4 4-7 0-3 6 10 9-11 0 1 5-2 1-23-9-7-7zM334 681l-3 3-1 7-5 4 2 10-11 6 1 7-2 2-5-3-5 2-6-7-26-19 5-5 2 5 3 1 18-2 10 3 3-2 8-19zM163 668l4-2 12 12-8-1zM224 593l6 0 9 9-2 1zM320 585l-1 7 12 20-3 8-7 0-7-5-3 3-5-2-3 5-14-3-11 1 1-7 9-9 13-5 4-5zM571 578l5 0 4 10 6 4 0 6-9-3-1-8-7-5zM599 469l5-2 4 4-5 3zM595 443l-11 10-2-1 5-10z"/>
<path fill="#e8d184" d="M542 1086l-3 8 12 6 4-5-9-9zM523 1074l4 10 5 4 0-6zM272 1013l-21 14 2 3-7 6 3 3 4-2 14-15zM201 872l13-1-9-1zM207 849l-19 5-10 0-6 5-7 1-5 4 1 3-3 3-9 1-1 5 3 2-2 3 20-3 22-15 11-2 3-3zM327 791l-2 2 1 6-4 6 9-5-1-7zM124 714l2 3 10 2 9 6 20-2-3-5-9-2 3-3 5 0-15-11-4 2 4 2-1 4-7-1-8 6zM199 656l1 3 10 4-5-6zM161 638l3 4 8-1-7-4zM191 546l-1 4 5 7 13 7 0-3-6-3-4-7zM611 465l4 2 1 7 6 0-3-9zM295 465l-4 0-1 5-9 3-1 5 2 3 16-9zM584 430l4 5-3 4 15 1 19-4 2-8-12 0-2-7-10-4-7 5 4 5zM345 283l-10 0-1 2zM545 55l-9 2-3 3-10-1-3 3-11-3-9 9-3 15-5-11-8 0-8 4-1 8-5-3-5 2 1 4-2 2-9-5-12 15-6 1-6 7-7 1-6 7-9 4-22 33-5 13 2 10-6 12-10 5-4 5 1 12-4 1 0 3 5 7-8 3-5 13 5 8-7 0-1 3 4 2-11 3 4 6-5 1-5 9 3 4 12-1 1 5 3 2-5 6 8 0 2 2-2 5 5 0 1 3-16 9-4 5 4 2 14-6 2 3-4 6 1 2 22-4 0 3-8 7-1 4 3 4 10 1 8 5-11 4 6 6-2 2-7 0-1 3-12-4-2 1 2 3-6 2-3 5 2 6 10 8-6 1 1 4 13 11-10 6-7-5-13-2-5 5 7 10-1 3-13-8-1 3-4 0 3 9-2 2-13-5-13 8 2 8-9 1 5 5-2 5 5 11-12 8 4 6 4 1 0 6 5-6 4 2 8-2-1 5 5 2 15-1-1 3-21 5 17 0 4 2-3 6-15-1 1 5-11 8 3 6-2 7-14 9 5 7-12-1-7 8-1 7-7-1-2 2 1 2-4 4 1 4-3 1-1 6-6-3 0-12-3-4-2 1 2 8-3 3 9 8-3 6-5-5-4 1-3-3-8-18-4 2-4 11 0 20 11 4-3 12 6 17-6 6-9 0-9-6-6 2-2-2-2-11 3-3 8 0-5-11-6 3-4-3-12-2 1-6-8-7-7 5-7 1 16 12 2 5 8 2-9 8 13 8 5 11-9-2-5 3 0 6-7 0 0 3 7 6-2 2-13-1-7-5 2-3-4-2-10 4 7 11 10 3 12-4 3 6 7 2 0 6 9 1 8-15 13 0 5-4 2-6 9 2 4 5 5-10 5 7-1 4-6 6-13 0 2 4-7 6 6 5 13-6 12 10-8-1-15 7-10-5-4 0-2 3 16 11 21 3 3 4-3 3 3 8 5-3 4-7 5 1 2-2 2 3-5 4 0 6 6 1 9-3 11 2-4-11 6-2 2 3 5-7 0-4 7-4 13 11 7-2 15 2 3-3-4 13 5 6-10 4-8-13-3-2-7 1-3 4 0 3 4 2-4 4 4 13-4 4 2 10-3 3-7-8-3 0-5 9-5-4-5 2-11-13-14-7-10-10-7 0-9-8 1-4-37-14-6-5 1 3-5 1-15-6-1 4 4 6-6 3-23-25-7-1-1 13 9-4 11 7-1 6 6 10-4 4 2 4-10 1-10-3-3-3 1-2 10-2-9-7-11-1 3 3-3 2-9-2-4 3 3 4 58 19 4 0 1-5 9 2 16 12 7-1 0-6 8-4 6 2 11-2 29 17 2 16-7-3-4-7-4 5-4-14-11-7-3 1 2 7-10-2 11 11 3 6-1 8-8-11-6 0-2 7-14-2-6-5-20-6-2-2 3-4-16-4-2 1 4 4 0 4-13 1-8-3-4 4 8 4 12-1 25 7 13 1 6 8-2 6-8-2-24 11-1-6 22-8 0-4-19-1-7-4-17 0-5 6-16-5-23 2 8 1 2 2-3 2 2 1 11-1 0 3-6 2 3 8 18 4 5 9-8 3-9-8-5 7-24 5-6-2-5 5 2 2 14 1 5-2 2 2-4 5-19 3 13 3 3 3 17 3 11-6 8-11 3 7 5-1 4 8 10-8 6 5 0 3-8 5 1 3 23 1-13 4-9 0-14-7-3 0-3 5-25-1 2 3-2 6 4 3-3 5 4 3-11 5 3 4 16 1 10-8 10-2 4-5 6 0 1 5-10 7-3 6 4 0 12-10 13-4 0 3-20 12 0 7 25-5-2 16 5 6 8 1 6-8 8 1 17-3 2 3-3 5-4-2-19 5-7 7 7 2-4 5-25 2-6 7-12 4-12 0 2-5-15 5-2 3-6 0 7 5 19-1 5-3 3 2-6 6 3 2-2 3-19 11 5 5 4 0 9-9 1-4 8-3 3 9 7-2 4 2 6-8 1-13 12-9 8 3 13-10 16 3 6-4 21-22-3-3 1-6-3-5 3-8 9-3-1 11 14-3 3 3 3-2 9 2 16-16 5-2 9 0 1 4 6 3-4 12 2 4-6 2 5 9-8 3 1 4 6 5-2 2-12 1-2-5-9-7 2-13-3-4-6 3-8-2-10 14 1 6 11 12-8 13-11-3-8-7-10-3-5 2-3 5 4 4 0 6 5 3-6 2 0 5-6 8-16-8-6 1-3-4-10 2 0-7-3 0-14 12 0 5 5 5-1 5-14 6-7-1-2 2-4-4-7 0-3 6-5 1-5 5 1 4-6 2 7 4-1 6 4-2 20 5 3 3 0 6 6-5 5-12 3 6 5-3 7 1 5 5 1 11 15-14 0-7 3-4 2 14-17 18 12-9 5 3-8 25 7-4 4 0 2 4 9-8 1-7-7 0 7-9-4-6 0-9 8 7 21-14 6 5 8 0 5-4 3 5 22 1 3-4 1 3-4 5 4 0 6-5 9 5 1 4-27 8 0 4 6 1-2 2 2 4-5 3-2 5-5 2-2 5-13-7 3-9-2-6 1-14-14 6-13 10 0 7 9 2 7-10 3 0-2 11-5 8-3 18 12 0-1 4-10 8 5 9-2 5-4 1-6 8 6 8 4-1 6-6-1-7 7 4 3-10 7-2 3-8 9 5 8-1 13-5-7-5 2-5 2 3 10 0 2 3-3 5-8 6 3 0 1 3-9 4-6 8 4 3 7 0-7 4-3 6-8 2 5 6-2 7 12 2 3 3-2 5 9 0 9-4 1 3-6 12 0 5 5 3 8-6 5-9 2 2-1 12 3 4 7 2 3 8 4-1 5-13 8 9 7-4-2-6 4-8-23-23 7-4-2-5 6-3-4-7 4-6 5 0-1-6 6-4-4-12 2-7 3 1 0 10 4 6-5 20 1 4 14-13-1-10 16-14-3-19-8 3-4-2-7 2-6-3 6-1 3-5 4 0 4 4 5-5 1-5-7-6 6-5-16-5-9-7 5-2 2-4 9-1 20 11 1 8 9 16 10-7 7 1 2 3-3 6 7 3-11 1-8 11-5-6-22 40 7 10 9-3 3 3-13 7-9-9-4 0-12 9-7 14 5 5 7-2-2 9 6 1 2 3 11-9-2 12 4-1 15-14 2 1 1 14 4 1-3 5-10 0-8 8-6 0-3 3-2 11 8 0 4-3 1 3-10 10-3 8 5 2 10-15 9-8 1 2-4 6 1 4 8-13 12-4 0 6-7 3-14 22 5 0 11-11 0 6 4 3 0 5 4 3 0 3 6-1-1-3 3-3 2 4-1 10 4-9 1 5 7 9 8-2 2-5-12-7 0 3-3-1-8-14 3-2 6 6 2-1 14 8 7-2-4-8 1-8-4-3 2-1 6 5 4-1-3-10-12-8 0-4 7-7 9-1 1-5-3-2-3 3-12-7-2 9-7 4-3-4-9 0-5-5 7-1-1-11 11 3-7-7 1-5 10 6 9 1 2-12 5-5-19-26-11-9-3-9 6 1 19 17 5 10 4-3 3 1 13 18 2-7 12 1 18-5 0-4-9-7 0-3 10-10-7-2 0-5-11-2 2 11-19 2 5 5 8 1 3 3-11 2-2 6-11-5-7-7-1-5-8-4 12-5 15 1-9-5-16 1-1-2 18-6 10 1 3-3-26-7-1-6 2-2 16 2 2-3-8-4 2-7-21-9 9-1 21 11 6-4-7-3-1-3 11-2-14-4-44-1 0 3-5 2-4-4 5-2-7-7 34 3 17-6 11 4 0 5 8 0-3-5-9-4-15-1-19-4-1-2 2-2 15 1-1-5 10 1 3-11 14 3 2-5-4-1-2-4 11 3 3-2-10-7-16-2-11 3-5-3-17-1-5 1 0 2 8 6 0 3-8 5-16 0-16-5 2 9-7 5-12-5 8 0-3-15 9 0 3-3 7 8 5 2 11-3-11-11 7-8-1-5 2-2 9 5-3-5 1-3 13 5 1-5 5 1-3-5 4-1 4-6 5 8 8 4 2 5 10 1 2 3 11 1 11-3 10 5 6 0 0-5 3-2-8-6-21 1-8-2-3-4-9-2-10-6-4-5 13 3 9-4 24 3-9-6-15-1-6-6 1-2-7-5 3-4-4-4 4-3 17 9-1 5 8 5 8-2 20 1 2-7-10-2-4-5-15-3-2-7-10-4-9 1-3 3-6 0-5-4 9-8 8-1 17 5 5 7 7-1-4-1-9-12-22-10 1-2 9 0 6-5 7 0 2 2-7 2 1 3 7 0 9 9 10 0 0-3-5 1 6-8-6-6-19-6-13-1 0-7-8-6 1-3 14 6 11 1 8 9 18 5 6-3-7-6 2-4-5 0-8-5 5-9-19-6-8 0 6-8 10 8 19-3-4-5-12 0-5-2-2-4 25 2 6 3 4 7 10 3 3 4 9-1-1-22-7-8 0-8-14 3 3 5-8 3-11-1-6-9 3-4 10-1-4-6 1-5 3-3 9-1 6-6 0-3 4-3-2-5 2-2 9-1 1-5 6-5-2-7 7-8-7-2 2-4-2-2-4 1-11 13-1 7-3 1-5-3-12 14 0 4-7 2-4 6-4 1-3 7-9-2-4 8-6-2-5 3-6-4-17 2-1-3 5-5 4 3 7-3 15 1 5-6-12-1-3-8-11-3 1-6-12-4 13-1 4-3 8 2-10-5 2-3 8 1-19-8-4-9 3-1 8 8 5 0 3-2 0-7-4-8 3-1 17 12 6 0 5 4-1 2 6 3 7-3-8-4 7-8-12-8 17 1 2-6-4-3-4 2-3-4 4-2 7-11 4 1 6-6 0-9-3-5-8 4-6-6-5 3-4-1 6-6-1-4 2-2 7 0 5-3-3-6-7-2 2-10-7-7 7-18 3 0 3 5-2 8 2 8 12 4-2 8 6 3 2 10 5 0-3 13 2 3 5-1 8 9-6 1-2 12-6 2 0 2 13 1 14-7-5-3 1-6-7-7-1-6 3-5 7 8 2-5 9 1 3-2-7-22 4-4-10-4-1-2 3-3-11-3 6-4 4 0 1 3 8 0 5-5 0-4-7-4-3-5-9-1 2-8-5-5 5-4 0-4-5-1-2-3 9-9-5-2-1-4-11 4-8-2 14-13 0-4-5-1-5 3-6-10 4-7-5 1-2-3 0-11-10 1 5-4-1-5 3-3 10-3-15 2-1-3 3-4 17-6 11 1 14-10-5-3-4 6-28-1-6 4-3 7-6-1-2-2 2-5-2-5-9-2-11-10 6-7 4-13 5-4 10-1 0-3-11 2-7-10-5-1 2-2 8 1 0-4-5-7 2-7 8 15 4 1-2-12 2-1 5 5 5 1 0-11 5-6 8 12 1-4-5-5 1-3 12 12 4-2 0-7 7 2 4-3 12 1-1-12 5-1 0-3-10-12 3-5-3-6 9-4 7 0 0-2 11 2 2-3-8-6 8-1-3-5 15 0-20-8 2-4 5 0-3-5 1-6 6-4 7 0-13-7 2-2 12 1 3-3-4-10 3-6-17-5 22-8-2-6 7-7-17-1-4-3 3-2 12 1 1-7-3-5 5-3-2-3 9-9-2-6-4 0-3-6-9-5 8-5 0-4-17-1-2-2 13-10-3-4 7-3-4-3 5-8-16 4-7-1 4-6 10-5-14 5-3-1 6-7-4-1 4-6-7-1 3-6-3-10-3 2-3-6-7 3-5-1 7-11-19 6 6-14-6 1 0-4-4-1 3-6-3-2-1 5-7 9 0-10-4-3-7 5-1-11 3-3-4-3-18-2-6 3-5-5-4 15-5 4 2-17-3 0-6 13-2-2 1-15zM499 1129l8 0 5 5-4 1zM460 1052l6-3 2 5-7 1zM454 960l11 0 13 5-14-1zM305 819l1 3-10 8-1-7 5-4zM280 798l-6 12-16 9 3 1 5-3 6 2-12 10-8 1-6-3-12 6-2-4-3 0-9 7-4 0 1-4 11-9 11 1 13-10-8-1 5-5 8-3 3 5 13-5 5-9zM351 773l1 5-8 9 2 8-11 11-7 2-7 6 14-1 12-11 5 1 3 6-10 2-4 5-28 1 1-10 7-6-5-10 8-2 4-8 9 1 2-11 5 4zM534 743l-1 7-11 9 0-14 2-2zM511 683l4 0 3 5-2 1zM329 589l-2 5 2 9 7 6-1 5 3 7-4 6-14-2-2 10-4-4-12-1-9-6-21 3 2-4-2-11 8-7 2-5 18-6 3-6 8-1 5-7 8-2zM659 183l1-2 10 1z"/>
<path fill="#e3c076" d="M466 1111l-13 1 5 2-5 9 11-4zM541 1051l0 3 5 4 11-2-5-2 1-4zM299 1039l-4 7-5 1 2 6 8-4zM493 1023l7 8 12 0-11-3-3-6zM479 1007l2 4-6 2-7 8-10-2-13 25 2 8 8 1 3-11 10 1 5 4 4 17-3 1-9-6-4 0-10 12-9-1-2 2-3-2 2-3-3-1-16 11-1 4 13-6 1 3-6 9 5 5 17-17 2 2 15-8 3 6-3 12 2 3 2-3 2 2-5 12 5 5-4 12 9-5 2 5-1 11 2-5 5 12-1 3 3-1 5 3 5-4-13-11 7-3 10 0 0-5-4-2 0 3-3 0-6-10-11-8 1-10 7-5 4 1-3-6 1-3 9 0 10 4 2-4 3 0-1-5 3-4-10-14-7-1 2-5-4-7-5 1 3 4-5 5-7-6-6-12 1-3 7 2-4-12 10 1-3-9 3-2 4 3 2-4zM305 985l-8 13 0 11 7-1 5-4 1-3-6 1-2-2zM517 978l14 6-1-4 4-1-7-3zM455 975l10 14 3-1 0-5 14 0 2 2-1 5 5 4-2 3 2 2 21 3-3 3-9-1 4 4 7-1 4-6 4-1 0-3-7-3 0-2 16-1-26-11 1-3 6 0-1-2-10 1-4 6-10-1-11-9 6 0 1-2-7-3-5 0 0 4-7-1zM525 903l2 5 14 4 10-2-18-9zM281 893l7 2 0-4 6 1-7-2zM209 883l-8 3-1 5-4-1 0 4-9 7 1 5 7 0-1 4 5 2 6-9-6-4 12-8-6-1zM255 873l-6 3 5 3 2-1zM556 866l-3-2-1 5-4 2 7 0zM197 855l-11 2-3 5 3 1zM275 846l-9 1-2 8-5 2 4 5 0 4 3 1-1 4 10-8-1-3 4-6zM220 823l-9 4-9 10 8-1zM338 819l-11 0-8 3-3 4-14 4-1 4 19 6 6-7 3-10 9-2zM181 818l-6 2-19-1-3 10 7 3 3-5 17-6zM549 789l4 6-9 5 5 2 9-1 4 4 1-13-3-3zM589 765l7 6 4 10 7-1 1-8-10-8zM202 724l7 4 6 0-1-3-5-2zM190 686l6 7-6 2 6 1 2-4 5 2 6-2 21 15 4 0 1-5 5-1 1-3-15-13 10 2 15 11 7-3-6-9-27-13-15-1-4-3 0 3 10 8-2 2-10-1 4 5 0 4-3 2-11-8zM595 431l4 6 9-2-1-5-3-2zM545 57l-3 4-5-1 0 8-7 14-2-18-4-1 0 8-3 2-3-8-7-4-6 5 1 9-5 1-4 13-10-14-2 6-3-4-4 0-1 10-7-4-2 8-13-4-11 13-7 3-5 6-6 1-12 12-4-1-9 16-5 4-12 26 2 8-3 8-6 8-8 3-3 4 1 12-3 3 8 6-4 5-4-1-5 4 0 6-3 3 0 3 7 5-5 2 1 5-11 1-1 3 5 1 1 3-10 2-2 4 6 5 10-1 2 4 9 0-1 4 4 3-6 8 6 2-10 10 10-3 4-4 4 1-12 10 0 5 6-2 5 3 12-1-8 9 0 8 18 4 8-6-1 8 4-1 2 6 11 2 3 10-8 2-9-11-15-1 0 9-8 4 5 8-1 3-4 0-11-11-9 2 0 10 11 10-6 1 0 2 13 10-6 3-1 5-5 3-6-4-5 2-5-6-6 0 2 16-12-7-4 6 5 1 1 5-18-1-4 4-4-1-5 5 8 5 4 6-16-4 4 4-5 2 6 5-2 2 1 5-7 6-2 5 12 3 6-6 3 3 12-2 2 4-3 3-7 1 0 2 23 0-19 9 13 0 1 3-4 3 2 3-20 11-3 4 2 6-8 2 2 4-4 1-7 9 0 7-10-1-3 6-6 3 1 7-5-3-5 2-2 8 5 4 0 3-7 0 0 5-7 3 0 5-4 0-14-9-2 4 6-1 9 11-3 4-9-1-4 6 7 20-5 6-7 3-15-3 2 4-2 3-12-8-2 1 1 4 5 6-3 2-9-4-3 3 1 3-7 3 7 9 9 6 8-10 8 2 8-4 3-7 6 4 3-4 6 3 4-6 8 8 4-6-1-8 8-8 1-8 11 2 10-6-1-8 11 3 3-7 8-1 11-10 5 5-8 6 0 6 6 5-3 3 2 6-3 3 8 8 0 9 4 4-4 3 10 8-17 0-3 4-3-1-3 6-9-6-4 0-3 7-8-6-2-5 1 8-3 6-6-14-7 0-1 3-10-3-14 10 12 8 10 12-11-1-5 2-6 7 13 3 4 5 0 4 9-9 5 4 5-1 7 11 3 0 3-14 4 3 3-8 2 6 5-7 6-2 15 9 5-2 9 2 6-12 11 5-6 12 2 3 19 0-3 3-19 2 0 3 22 6-4 3-17 0 4 6-1 2-18-6 6 14-11-5-1 6-2-2-6 2 2 12-4 4-9-9 0 4-5 2-2 6-5-8-10 2-5-3-4 14-9-7-11 1-2 5-4-4 0 4-3 2-5-8-4-2-2 8-3-2-14 5-2 9-10-3-12 4-9 9-4 0-1 6-6-2-4-7 9-12 6-1 4-4-14-6-7 2 2 6-19-2-3 4 6 2-13 0 2 3-2 3 12 5 6-2 2 2-3 6 1 6-12 6-2-6-4 3-4-1-8 6 1 3-2 1 4 9 4-4 9-1 7-9 4 1-1 6 4-3 4 5 12-4 4 5 6-1 6 3 4-6 1 14 6-11 6 3 5-4 3 4 8 2 6-2 1 5-3 4-3-3-11 1-8 7-16 4 2 4-13 8-5 7 14-5 12-9 7-1 8 1-5 6 7 2-3-1 4-6-1-2 19-8 5-9 4 11 6-3 7-10 7 1 2-2 5 2 4-4 11 4-10 6-2 10-28 16-4 7-10 6-4 6-11 1 6-7-1-2-24 6-1 5 7-2 5 2-12 9 4 3 4-7 18 2 10-3 2-5 8-5 12-1 1-4-2-2 4-7 11-6-1-4 3-3 17-1 0-4 7-9-4-5 0-13 2-2 8 6 1-9 3-1 9 4 2-11 10 4 5-3 4-8 4 1-7 16-6 6 1 6 5 5-3 4 9 3-1 3 3 2-13 5 12 4-9 1-2 4 6 3-1 3 11 4-6 4-3 9 5 6-5 1-1 5 4 4 9 2-16 2 7 8-8 5-7-2-5 4-7-1 0-7-7-4 0-11-2-1-11 9 2 6 6 0 8 12-1 6-9-3 2 2-1 7-5-2-3 4-5 1-1 5-9-8 0 10-5-1-2 3-10-2-10 14-11-8-4 0-7 6-5-8-9-2-2 3 6 9-1 2-9-10-4-1 2 8-1 15-6-5-9 9-8-5 2 6-2 2-11-8-4 6-6 0-4 3 2 5-2 3 26 4 3-10 4-2 4 3 2 7 14-1 7 5 9-3 4-14 5 4 3 12 7-5 9 8 18-9 6 0 1 4 8 1 4-10 4 11 20 1 2-12 9 11 14-11 1 5-8 8 11 8-27 11 5 11-4 3 2 10-10 0-2 7-10-3-3 6 3 7-8 0-1 8-9 4-2 4 5 9 3 1 2-5 9-5 4-7 10 5 7-2 3-10 7-5 18 7-1 5-4 1-3 5 1 4-9 7 2 6 4 2-4 6 14 3-22 11 1 4 11 5 13 0 4-4 2 2 1 8-8 11-3-2 0 6 7-3 5-8 0-7 7 17 3 0 1-4 2 1-6-7 1-2 15 2 4 3-4-9-8-8-1-5 8-3-3-6 3-4-4-4 8-2-4-5 8-1-1-5 7-5-8-13-10 0 1-2 4 1 0-6 7-4 8 0 11 4 1 5-5 3 3 9 6 0 11-10-1-12-11-2-6 3-14-8 3-7 6 3 4 0 6-5 8 2-2-4-16-5 7 0 4-6-8-3-9-9 5-9 9 1 4-3 9 5 5-8 5-1 41 13 16 1 6-5-1-2-14-1-5-5 2-2 15-1-4-4 2-2 17 3 1-2-8-5 2-4 15 0-5-2-2-4-7 3-11-5-4 9-9 0-3 4-18 1-10-2 6 8-1 4-13-3-5 3-20-8 2-7 10 3 1-4-2-5-15-14 5 0 2-6 15 14 3 1 4-5 6 7 6 2-2-12 6-6-1-8 5 0-2-6 3-1 8 5 5-1 3-10 7 2-4-12 13 6-11-11 2-3 14 10 9 0 2-2-2-8-15-9 8-5-2-7-3-2 4-1-2-7 5-3 3-7 8 0-6-4-3-7 3-5-1-12 2-6-2-6 8 1 3-3-1-5 8 1 1-7 5-3-1-3 6-3 2-4 10-2 3 4 13-2-10-7-4-10 3-1 1-4 9 0-3-5 2-6 8-4 11-13 0-5 4-2-2-4 4-1 2 2 6-7-1-6 4-5-2-5-14 18-6 1-13 16-5 1-8 7 0 5-11 0-2 9-8-4-3 1-5 19-9 3-3 11-5 5-2-6-8-3 7-3 2-5-2-6-6-3 4-3 0-3-7-10 2-4-4-4 24-9-12-3-2-3 5-4-13-6 15-5-3-5-11-3 3-2-6-11 6 2 0-5 3-1 12 9 4-2-5-12 4-5 15 8 0-7 3-2 9 7 9 3-7-6-2-6 9 2 0-12 3-1 2-6 2 1 8-5 1-5 3-2-2-6-8 2-4-5-9 4-3-3 1-5 6-4-1-3 10-5-4-6-11-4 11-4-6-12 1-11 5-4-3-15 3-2 4 12 9 6-4 8 1 5 8 6 5 0 0 9 5 2 2 6 5 1-2 13 5 7 5 0 4-8 6 5 9-2 3-3-6-12 2-3-2-2 1-5-4-1-5-6-9-2 3-5 13-5 0-7-13-4 4-6-2-9 3-6-6-2-3-5 5-6-12 0-6-6 12-12-10-1-2-7-6-3 2-4-3-5 3-6-3-2 1-2-6 1-3-2 2-4-2-3 6-5-6-3-1-6-6-2 1-7-24-15 9-11-4-4 10-11-3-3 1-4-6 0-2-7-6-5 15 0-4-7 0-7-4 0-1-4 6 1 3-2 8 16 2 0-2-5 2-6 9 4 0-6 3-4-2-10 4-10 10 4 7 8 0 4-10-4 8 9 3-6 4 2 19-1 1-6-3-3-6 3-8-7 18-1-6-9 3-8-3-4 8-6 6 0 2-3 9 1-7-7 9-2-6-8-5-2 5-3-4-5 9 0 0-9 7-4-9-6 16-1-5-5 5-6-3-6-11-3-2-4 6-1 2-4 12-3-13-6 15-1 1-2-14-3-3-3 12-6-1-6 5-4-2-3 6-8-22 3-1-6 17-1 2-3-6-9-14-1 6-8 8 1-1-3-15 1 17-15-3-2 2-9-17 0-1-4-6-4 7-6-2-2 3-6-6-1 3-4-1-5-12 0 1-7-9-2 5-8-9 1-8 7-2-2 6-10-3-3 0-5-4-1-8 7 0-12-2-2-10 8 0-15-2-2 2-4-15-1-5 6-9 0-12 22 0-12 3-8-3 3-5-1 1-16zM421 953l3-1 4 5-5 0zM272 920l2 2 0 9-5 2-2-4 4-2-1-6zM276 648l3 1 3 8-1 4-6-9zM525 371l7 8-1 2-8 0zM537 366l2 1 0 12 5 2 1 3-13-2z"/>
<path fill="#dba760" d="M384 1081l3 5 4-1-2-4zM480 1059l0 20 11-11 11 4 1-8-6-5-5 2zM492 992l5 4 4-2-1-5 9-1-13-3-3 2zM480 955l4 5 9 2-5-6zM184 944l16 2 1-4-6-5-4 0 1 6zM215 687l9 9 12 2-15-13zM239 612l-8-2 1 4-8 1-4-2 3 3-3 3-10 0-6 6 7 4 4 0 4-5 8 2 9-6zM584 74l-5 2 1 6-7 8-2-1 1-9-4-2-8 8-7 14-8-31-12 12-5 11-1-12-7-1-10-14-2 13-2 3-4-1-3 14-4 0-5-12-2 0 2 11-2 4-5-14-4-3 0 9-2 2-5-4 9 14-2 4-3 0-5-9-4 0-5-6-5-1-24 23-5 0-10 9 4 5-2 7-5-7-5-1 0 4-5 3-2 7-5 3-12 30 8 5-8 2-5 14-9 2-4 4 2 11-3 3 1 2 13 4-6 9-12 0-1 2 3 3-6 5 8 6-4 3 3 4-7 4-1 8 4 4 13-3 0 8 10 1-5 5-2 7 18-9 3 1-9 7 2 6-11 8 0 10 14-2-3 4 2 4-6 5 3 5 9 3 13-11-1 11 11 8 6-2 2 2-3 8 9 5 7-5 0 6 4-1 4 4 4 0 10-11 3 0 1 6-4 4 7 8-6 4-8-7-3 12-4-8-15-2-6-8-8 9-14-14-3 4-7 0-1 5-6 1 9 10-1 2-7 0-1 6-9-4-5-6 3-3-6-1 2 1-4 2 2 7 14 9-1 2-5-2-2 2 8 5 1 5-6 1-3 8-5 3 1 5 7 5-1 2-11-1-3-3-2-11-6 4-2-7-4-3-2 1 2 14-11-5 3 7 6 4-1 3 3 4-6 10-7 0 5-14-6-5-14 2-1 5-7-1 9 12-5 2-8-4-1 5 4 3-3 2-5 13 9-3 11 4 6-3 16 2 2 2-9 2 1 4-2 1 8-4 6 3-15 10 12 3-8 4 4 6-6 2-3 7-6-3-7 6 1 5-14 13-7 14-9 0-2 2 5 6-1 9-8-5-1 5-4 0-5-4-3 1-1 6 8 13-10-2-3 6-11 6 3 5-2 2-13 3-1 7 5 14-12 9-3 5 4 4 2-9 6 8 6-7 6 8 3-10 8-10-1-6 2-2 4 3 2-2 5 1 2-1-1-6 3 4 6-1-5-12 1-5 9 11 5 0 3-7 10-2 13-14 2 2 5-1 3 5-6 5 6 4-2 2-5-1-5 5 7 8-4 14 7 2-2 9 6 8-2 5 2 3 16-3 3 3-10 6-16 1-2 3-4-2-3 12-14-9-5 2-1 6-8-4 2 16-4 0-7-13-4-2 0 4-4 2-1 4 2 7-2 2-13-1-3 6 10 9 5-10 2 4 4 1 6-8 3 14 3 1 3-3 0-11 2-2 3 7 4-7 4 3 9-5 7 5 18 3 3-3 0-5 7-5 8 7 4-1 2 2-5 10 3 5 22-2 12 4-34 6 3 5 9 0 4-3 3 2-5 7-7 2 7 4 2 8-3 1-5-4-8 2-16-3 2 9-3 1-7-5 0 10-6-3-6 14-7-7-4 4-3-1-3 7-6-8-6 0-2 3-6-2-4 13-14-6-3 3-3-1-3 4-3-3-4 4-6-7-3 3-17 3-3 10-10-3-12 4-12 17-18-9-5 11 4 7 11-2 3 3 7-1 3 3 4-2 4-7 2 7 6-3 5 3 5-1 4 5 5 2 7-2 4 5 29 0 3-3 6 2 5-4 12 3 2-2 0-14 9 9 1-14 10 8 0-5 6-6 11 4 5-10 6-2 4 2-1 5 5 3-10 6-7 11 0 5 6 7 0 5 10 3-2 6-11 3 17 4-11 6-1 4 16 4-1 3-10 3-5 7 6 4 8-3 3 2-16 9 3 3 13 2 1 2-17 5 5 8-1 2-6-2-4 4-6-1-10 9-6-3 0 7-7 0-4 6-3 0-1 5-7-1-2 8-6-7-10 8-4-3-6 1-7 8 6 12-2 4 3 2-4 6-5-5-7 5 0-10-5-9 7 3 1-2-6-7-6-1 0 6-6-2-2 3-6-3-3 8-9-6-3 6 1 7-2 2-7-4-4 5 0 8 10 2 7-7 4 7 9-1 1-7 6-3 6 10 6-2 12 7 10-2 9-9 8 5 3 5 2-13 2-1 4 3 1 13 13-3 6 3-1-14 2-1 10 15 8-6 0-3 4-3 0-6 5-1 1 5 3 2-3 5 9 3-3 3-11 2 8 9 0 4-6 5-7 1-10 9 1 8-5 2 3 9-2 2-9-1-2 8-6-2-4 4 1 6-5 4 0 5 4-3 13 3 5-4 0-5 7-4 2-4 7-1 3-8 4 3 4-3 3 1 2 4-10 8 10 7-3 4 3 8-3 2-4-2 1 4-7 5 1 5 5-2 4 2-8 7 1 2 12 1-11 9 0 6 3 3 10-2 3 6 4-1 5-6-5-8 7-3-2-14 8 1 0-4 2-2 5 1 5-9-4-5-5 0-3 6-7-4 4-2-2-8 17-12 1-5-4-6 6-6 8 0-5-7 10-2-13-13 5-5 0-4 5-3-4-7 3-2 13 2-7-6 6-1-6-11 18 6 0-4-17-16 6-2-1-10 2-2 6 9 4-2 8 12 2 0 0-10 8 7 5 1 6-8-1-12 5-5 12 4 6-9 4 0-4-7 2-3 5 0-6-8 3-2 10 5 4-1-1-5-9-7 11-2 0-19 9-13-3-6 3-13-4-4 4-7-3-4 5-4 7 1-1-5 2-3 8 2 1-6 6-2 0-8 5 0 12-10 4 0-3-13 6-3 6 1-2-8 12-11 6-12-8 8-13 6-2 7-4 3-3-2-5 1-1 8-8-2-6 20-12 3-3 10-7 6-3-1-4 4-19 1 3-3 14-2 6-6 0-2-10-5 10-6-2-7-6-3 2-5-1-6-4-4 1-5-8-3-7 3-2-3-6 1-2-2 11-5 14 0 4-3-9-2-5-5 18 0 1-5-10-7 6-5-9-7 5-7-6-12 3-1 3 3-1-4 6-1 10 9 4 0 1-3-5-6 0-4 8-3 11 5 4-8 8 5 2-9 5 3 3-3 3-8-3-7 2-2 3 2 10-2 2-4-1-4-5 2-2-3-4 0-16 12-7 0 8-5-2-5 6-3-1-9 14-13-1-3-12-5 10-5-6-4 4-2-2-5 1-8-14-7 8-2 3 4 6-1 1-7-8-7 4-1 3-5 6 1 3 10 5 0 0 6 5 1-3 10 8 9 7 2-1 5 11 10 2 14 4 2 3-3 4 2 9-2-5-19-5-4 0-3-9-3 3-5 6-3 1-5-10-6 5-8-4-6 4-6-1-3-8-2-2-4 4-5-5 0-7-7 1-5 6-5-7-1 0-6-8-5 2-3-4-5 4-7-2-4-8 1-2-2 3-4 1-9-3-8-7-1 2-8-17-8-8-9 0-3 6-3 0-10 7-5-4-5 3-3-7-2 2-7-3-3-9-3-4-5-18-1-3-5 4-19 3 2 1 10 3 2 1-18 2 1 0 6 4-8 2 3 1 19 4 0 10 7 4 0 3-4-5-3-2-13 7 6 3 0 4-5 12 8 5-11 0-10 5-5 6 0 15 15 5 0 2-4-8-11 3-1 8 4 3-2-3-7 3-1 1-7-5-7 9-1 1-7 11 0 1-2-5-7 10-1-10-8 2-3 4 1-5-6 13 0-2-6-16-7 22 1-4-1-2-4 11-3-12-6 4-3 9 2 0-5-15-6 9-6-3-6 15 1-11-6 2-4-2-7 8-3 6-17-13 1-4-3 0-3-10-2 17-3 6-4-4-5-11 1-2-2 4-5-4-6 13-11-2-4 2-5-17 7-4-1 9-9-3-7-12-1 12-12 0-2-6 1-2-2 6-7-12-3-6 2-1-2 3-1 2-6-5 1-9 7-3-4-5-1-3-7 7-3 3-7-2-3-7 0-5 4-2-13-10 7-5-7 3-4-1-5zM360 972l11 0-2 2zM357 920l-3 9-4-5zM369 905l3 1-2 6-3-1zM553 541l9-4 4 6-11 0zM501 373l5-2 14 7-8 2-4-4-5 1z"/>
<path fill="#ce8b45" d="M261 931l-8-7-2 7-7-3-2 3-9-1-1 2 7 3-2 5 4 1 5-10 10 2 1 6 3 0zM189 773l0 2 9-1 2 3 1-3zM562 740l-3 1-1 7-8-1-7 17-13 8-2 9 8 1 6-7 0-5 18-16zM292 652l-5 2 3 8-3 3 1 3 8-8zM290 574l-1 4 3 6 4 1zM327 432l-9 7-1 6 14-2zM342 416l-10 0-6 7 7 6 2 6 1-7 9-9zM357 399l1 12-3 4 4 4-1-7 4-1 3-5-5 3zM608 102l-5 0-5 9zM581 87l-10 11-2-1 0-7-4-1-13 17-3-15-5-9-9 1-4 9 2 13-3 1-3-3-1-19-7 4-2-2 1-4-3-3-5 0-2 9-2 1-3-3-4 12 0 13-8-22 0 10-3 1-7-13-1 9 3 5 0 7-6 2-7-12-5 1-1 6 3 3-3 1-4-6 3-6-3-6-10 10-12 7-2 7-5-1-3 2 12 15 1 7-13-13-3 4 0 12-9-7-8-1-3 7-6 5-7 14 0 3 6 4-7 0-2 6 13 7-13 0-1 4 6 6-9 0-3 7-8 1-3 3 1 9 5 2 2 4 16 2-2 3-8 2-7 12-6-1-6 4 0 3 5 2-4 5 8 1 9-3 3 2-17 5-3 8 12-1 2 7 8 5-2 7 13-5 7 0-13 10-1 4 5 1 9-5 3 6-12 8-7 0-2 7 5-2 8 6 0 3-6 5 1 3 22-9-3 15 4 3 12 1 3 5-3 4 2 5 5 1 11-9-2 10 8 5 10-12 6 0 4 6-3 10 5 2-4 10-2-1-2 9-7-12-4 2-1 8 3 8-2 1-3-4-1 5-15 14-1 7-5 2-2-2 6-9 0-4-4-2 16-8 3-8-2-7-12-4-4 10-1-14-4-3-3 12-6-6-9 2-7-4-2 3 1 7-8 2 3 5-6 2 3 5-1 3-3 0 3 9-5 0 0 5-8 7 5 8-5 3-10-2 7 11-2 1-13-8-13 18-8 2 3 5-8 3 20 4 1 4 6 3-2 3-12 5 0 3 24 6-23 2 1 7-7 5 3 7-11-2 6 5 0 3-11-5 2 6-4 1-6 10-6 3-6 12-7 2 2 7-3 1 0 5-19 1 1 8 8 11-4 1-9-5-2 7-5 0-6 4 0 7-8 2 2 5-4-2-3 2 1 11 5 7 3 0 4-7 5-2 2-7 3 3 2-7 4 3 3-16 7-1 7 9 4 0 2-7 9-1 3-9 7 1 10-10 3 5 10 5 2 3-2 2-7 1 4 11-6 5 6 5-5 4 0 6 21-1-15 6-5 7 7 7 7-2 3-7 8 0 3 3-12 11-10 4 20-3 9-5 5 0 1 3-9 6-15 5-4 5-5 0-2 3-7-2-4 4-2-1-5 11-8-7-7-1-6 6-5-2 0 6 5 11 4-6 3 3 10-3 23 6 3-7 5-1-1-3 3-2 3 4 10 3 4 4-3 8 6 6 30-1-2 7-30 5 2 2 17-2 1 2-7 6-1 4 7 4 4-3 3 7-3 2-10-2 3 5-6 3-7-4-7 4-13-1-2 6-7-4-1 8-2 2-6-1-4 11-8-6-2 4-5-1-3 9-7-9-3 2-9-2-5 12-8-5-12 2-1 4-3 1-3-5-2 16-4-6-1-11-3-2-3 4-5-2-13 6 0 11-4-5-17 3 2 6-8 4-4 6 0 3 4 0 7-6 0 5 6-1 8 3 4-7 6-3-4 12 2 4 5 1 0-4 4-1 4 8 5 0 2-12 3 12 6 1 3-3 2 3 11-4 5 2 5-7 3 4 9-1-2-15 3-2 9 7 3-9 6 6 9-7 3 1 4-3 6 2 3-7 10-1 3 2 3-5 2 3-4 7 7 4 6 0-5 5-12 1-8 16 6 9-1 2 11 5-1 4 20-1-18 6 5 4-12 8 4 4 4-1 8 3-18 11 0 3 17-2 6 3-4 4-5-1-10 5 1 3 11 3 2 4-15 7 2 6-2 3-9-1-1 3-5 0-6 4-3 7-8-2-3 6-7 3-2 4 2 5-2 2-9-4-4 6-7-5-5 9-8-5-5 1-5 7 5 17-6 8 1 3 4-1 8-8 3-9 8-4 2 12 5-7 5 3 5-4 5 4-1 7-5-1-1 2 1 6 4-3 5 1 2-5 3 5 2-12 3 0 4 9 7 5 4-3 2-13-6-6-2-6 10-3 4-4 1-6 6 0 2-7 9 4-1 6 6 4-6 4-11 0-2 13 7 2-2 11 14 3-16 8 7 10-1 3 6 2-1 5 3 3-2 2-10 0 2 4-2 2-19 0-1 5-6 2 3 10-11 1-3 7-6 0-2 3 0 6 7 1 9-10 0-4 11-3 5-7 7 2 9-9 3 1-6 7 5 5-6 6 5 9-3 8 6 3-5 11 1 8-3 3 4 1 2 4-5 9 5 0 1-7 6-2-1-12-5-9 5-2 8 4-6-9 5-3-2-7 7-3 0-3 5-3 1-4-6-5 7-5 3-5-1-3 12-8-9-13 6-4-2-4 3-4 0-8 9-1-10-9 14 4 0-3-7-4-2-4 3-1 11 4 2-2-2-5-12-2-7-8 18-1-1-10 7-8 3 13 4-4 5 4 0-16 5 3-1 6 4 9 7 4 5-6-4-22 3-1 3 5 12 4 2-5 4 1 3-3-5-8 10-2-3-6-5-3 4-2-1-4 6 0 12-6 0-4-4-3 5-2-1-6 8-13-5-5 6-7 0-5-4-4 3-7-3-8 4-4 7 0 1-7-8 5-10-1-22 4 0 3-5 3-10 1-5-2 13-3 12-8 16-4 6-4-1-3-15-1-5-3 20-5-1-8-6-3 3-3 0-6-5-3-7 8-4-4 1-6-8 4-7-4 3-4-3-9 8-1 2-4 11-1-6-6 1-3 14-1 0-4-4-5 3-5-22-11 15-3-1-2 5-3-3-10 3-1 1-5 13 4 5 7-4-11 1-2 5 1-2-8 15 8 4-2 2-5 9 3 1-6 5-1 3-4 0-5-5-1-11 4-10 8-3-1 10-8 2-5 6-3-14-10 17 1-1-9 2-4 11-7 0-3-5-3-10-2 3-3 9-2-4-6 5-2-1-11-15-7 3-5 13 0-3-6-8-2 10-7-9-1-3-5 7-4-1-5 4-7 7 14 5 0-1 6 7 2-2 5 9 2 2 2-1 5 5 1-4 8 7 11 6 0 1 5 6 2 1 6 10 15 5-1-6-17-9-8 7-5 0-3-6-4 2-13-5-1-4 3-2-3 4-6 6-2 0-4-8-5 2-6-10-9 2-6-2-9-8-4 2-5-2-3-13 1 6-5-1-4 8-2 0-2-9 1-2-3 6-12-4-7-6 2-2-2 4-9-17-8-11-15 3-6 7 1-4-8 10-6-8-8 1-8-11-4-4-5-8 1-2-3-5 2-5-6-5 3-2 8-5-13-12 1-5 5-5-5 2-7 10 1 6-9 11 5 5-4-3-5 0-16 2 0 1 13 3 1 5-6 2 1 3-6-1-15 2-4 4 23 4 2 3 15 3-2 6 8 2 0 0-7-4-10 2-10 10 19 4-4 5-1 6 4 7-7-1-12 3-3 8 1 2-3 5 7 9 2-5-11 3-1 4 5 6 1-2-8 5-1 0-6-8-8 0-3 2-1 8 5 2-4-4-7 14 3 2-3-3-5 6-1-4-6 1-7-6-4 3-2 13 3-3-5-18-9 3-2 13 5 4-1-1-4 4-4-4-4 0-5 4-2-7-6 9-6-5-5 10-3-2-13-12-4 5-2 13 2 5-8-1-6-13-1 1-5-16-2 18-5-8-2-2-5 7-6-5-5 10-10 1-6-4-1-13 6-2-2 10-11-2-4-13-3 6-9-6 1-2-2-1-9-18 4 2-6-2-5-9 1 2-7-13 9 1-6-2-3 8-12 1-6-7-2-7 6 0-5zM465 750l9-1-3 4-4 0zM544 493l3 3 3 15 6 5 1 5-8-5-6-10-7 0zM521 464l8 8-1 4-6-2 0-5-3-2zM588 330l4 4-1 4-4-3zM411 149l4 0 4 6-2 1z"/>
<path fill="#be6e28" d="M354 995l5 0 2-4-6 0zM240 766l-7-5-9 10 10 2zM283 572l-3-1-6 3 1 7-2 4 11-8zM593 560l-1 8 4 8 5 1 4 5 2-5-3-5 0-8-6 0zM432 361l-1 5-4 3 0 6-3-2-3-10-3 6-9-6-2 10-9 8 2 6-3 1 0 15-5 1 0 5-4 1 5 7-7 1 2 7-2 1-9-6 5 7-3 4-12-7-15 21 4 4 10 0 2 2-4 3 10 5-15 4-4 4 17 4 6 6-10 0 0 6-6-3-5 1-3 6 1 4-5 1 1 6-4 1 3 5-12-1-10 12 1 4-6 1-3 9-8 5-5 8 3 5-15 2 0 6-3 2 6 10 3-2 10 3 4-2 0-9 2-2 9 3 9-11 2 1 3-3 4-14 6 4 0 6-5 12 7 4-2 3 4 6-7 4 10 6-7 9 7 0 1 2-10 4-1 4 18 2-2 3-12 5 4 4 18-2 7 3-15 11 23-7 3 4-9 9-14 4-2 2 1 5-14 4-2 4-6-2-7 4-3 6-3 1-12-6-4 1-1 5-4 2 5 0 3 3 8-3 7 2 6-1 3-4 1 4 6 3 3-6 7-5 5 6 7 0 7 5 0 8 9 7 7-3 2-7 6-4 5 9 10 1 0 2-3 0 5 2-6 7-14 4 4 4-9 7 1 2 12 1 3 3-5 3 4 4-13 2 0 10-4-5-7-1-13 4-8-1-5 5-5-2-4 8-7 1-3 8-8-4-2 4-6-1-3 7-5-4-5 2-2-3-5 0-7 10-6-5-7 1-2 5-9 1-3-3 1 10-2 2-6-3-2-13-5 3-5-2-3 3-5 0-3 4 4 11 4 1-5 5-1 5 7-3 3 8 2 0 4-9 6-1 3-4-1 18 5-5 5 3 3-6 3 6 9 0 3-8 4 4 3-3-4-7 13-6 6 3 4-5 4 4 3-3 5 1 8-6 7 1 4-6 3 2 3-5 6 2 4-3 3 3 11-8 4 3 7-3 2 2-6 6 6 0 7 4-3 2-15-6-10 7 13 3 6 5-2 2-10 0 0 6-13-1-3 3 3 7-8 6 0 4 6 2 2 5 8 6 19-2 2-3 4 5-24 7 4 4-2 2 1 4-5 2 11 2 9-10 10 8-5 1-3-2-6 7-12 3-9 6 12 0 2 3 14-2 6 3 0 2-13 0-13 10 19 0 3 2-14 3-2 5 4 2-2 2-9 0 1 5-2 2-6-2-1 9-10-2-2 5-5-1-5 3-7 11-6-2-2 4-5 2-4 10-7-3-6 7-4-4-4 0-4 6-9-2-6 4 1 7 7 0 7-4 4 0 2 6 5-4 3 3 5-3 5 2 2-3 4 2 1-2 13-2 1-12 7 4 8-5-1-6 2-2 5 2 2-10 6 5 9-2 7 3-5 4-1 5 9 7-4 4-17 2-2 4 1 3 10 1-4 3 0 4 5 3 0 3 2-4 6 3-2 5-13 7 5 6 0 4 5 4 0 12-7 11 0 11-3 4 3 17 6-3 0-5 9-8-8-14 11-2 2-5-3-9 2-2 6 1-3-8 6-8-4-8 4-8-2-7 4 0-2-3 2-3 7 0-3-5 2-2 5 1-10-12 6-3 11 2 2-4-1-16 2-1 3 4 4-8 6 11 0-7 5-8 5 5 5 0 2 7-1-8 4-9 7 1 4 8 3 1 8-4 0-5-13-14-7 0 1-11 17 17 7 3-8-9 13-10 8-2-11-7 1-2 12 1-6-8-5 0-22-10-4 0-2 3-4 0-2-3 7-4 13 0 3 5 10 5 8-1-1-4 12 1-3-8-7-3 11-3 0-4-7-5 7-5-2-9-6 0-2-4-7 2 1 5-30 2-21-9 6-6 9 2 4 6 10 0 26-15-10-3-22 7-13-3 7-4 16 0 15-9 13-1-3-3 2-4-6-2 2-2-8 7-14 3-1-2 5-3 1-8-12 9-13-8 12-4 0-5 5-8-5-5 12-4 1-5 6-1-1-3-6-3 8-5 4 2 7-2-3-7-6 1-4-4 5-2 1-3-14-6 2-6 12 1 0-4 4-4-12-11 15 0 1-4 12 3 2-5 5 1-16-16 7-1 11 10 2 0 2-7 11-2 6-9-13-6-1-4 5-2 11 3 2-2-3-6 1-5-4-3 2-2 11 2 3-4-22-7-3-3 2-2 5 2 17-1-3-3-18 1-2-2 1-4 18 1 6-3-1-8-14-8 4-8 6 1 0-2-11-8 10-2-8-5-15 0 1-4 18 0 6-14-7-5-6-10-13 4-1 4-3-1 1-2-7-2 17-8 4-6-1-4-28 9-2-2 24-12-6-9-14 4 6-10-6 0 4-8-1-4-4 2-6-2 3-10 3-1 6 3 3 5 5 0 13 20 6 2-1 5 10 10 0 7 11 9-2 8 4 12 12 1-5 7 1 3 5 0-1 6 8 2 2 6 4 1-1-3 11-8-8-12 1-5-8-5 3-9-9-9 1-7-12-1 4-5-2-7-4-3 6-8-3-3 0-5-11 1 7-7 0-3-10-5-9-12-5-2 0-3-12-1 5-5 0-6 8 3 0-4 3-2-4-3 13-6-3-5-6-2 3-2 0-4-4-3-8 2 0-6-4-1-4 1-6 8 2-11-10-4-3 15-4 4-2-15-3-2-1-5-8 1-7 8-6-8-2 5-5-7-5-1-2 5-5 3-6-5-9 9 2 8 7 8-9-1-6-9-1 4 10 11-2 10 5 5 8 0 4 5 7 3 2 8-4 11 0-13-5-2-3 11-2-10-7-1-2-6-7 6-4-4 2-4 2 1-6-3-1-11-8-1 5-7 0-5-9 0 9-13-8 0-6 6-2-1 12-13-1-4 11 0 8-6 0-9-9-3-2 2 0 10-3 2-2-2zM402 641l2 3-12 8 3-9 3-3zM505 540l-9 6-8-2 8-6zM468 504l-2 7-8 6-2-10zM472 469l0 12-2 1-2-5zM496 435l12 11-1 4-3 1-7-4-3-8zM580 93l-4 1-7 17-3-14-14 12-9-19-3-1-7 1 2 16-3 5-6-5-3-14-6 8-2-2 0-8-3-6-8 11 4 16-2 6-4-4-4 2-4-9-5-3-4 1 1 5-6 2-2 4-9-14 1 11-4 1-6-5-5 10-3-3-1-9-5 1-6 6 4 12-2 1-8-7 11 22-5-1-6-7-6 2 0 5 12 12-6 0-15-13-7-3-3 3 1 4 7 5 5-1 9 8-9-1 4 9-2 1-19-16-3 0 0 3 12 9-4 1-9-7-3 0-3 4 0 4 12 7-3 3-11-2 13 10-1 2-10-1-1 4 9 6 12 3-4 4-5 0-14-6 0 4 5 1 3 5-13-2-3 2-8-2-2 2 10 10 25 4-15 5-9 9 2 4 14 0 3 2-5 3-14 2 8 5-3 3 4 3-1 3-8 5 5 4 3 10 16-5 3-5 6-3 4 1-6 4 3 7-5 4-9 2 6 2 3 6-13 11 2 5 14-1-1 5 2 0 4-6 3 0 6 4-8 7 0 10 7 1 9 8-1 8 4 0 7-9-2-7 4-4 4-11 3 6-3 8 6-2 1 4-11 17 2 2 9-2 3-7-4-4 8-9 1 4-3 4 2 7 5-1 2 4 6-1 5 17-7 3-2 10-4 4 0 7 7-4 2-6 10 3 4-5 2-10 6 6 7-3 4-24 3 4 1 16 9-9-1-13 1-6 3-2 2 1 2 20 6 10 4-1 5-12 3-1 2 6 7 2 0 9 3 1 5-3 0-9 10 9 2-3-3-12 3-2 2-7-3-9 2-1 9 5 2 8 5 5 3 0-1-8 10 6-4-8 9 2-2-6-5 0-7-8 1-3 5 2-7-9 4-1 5 4 5-1-8-9 1-2 18 11 4 0 0-6 4-2-6-16 9-2-16-11 8-2 10 2 2-3-6-4 5-10-13-8 2-2 15 0-2-6 8-4-4-5 4-4-14-7 19-3 3-2 0-4-19 1-15-5 9-3 8 5 5-6-14-3 9-6-4-4 6-6-1-2-8 0 6-3 3-6-3-3 4-5-4 2-6-2 7-11-5 0-2-5-6-3 2-6-10 7-6 1 12-12 0-3-13-2-15 13-2-1 9-11 3-9-4 0-6 5 1-9-11 6 0-12 4-6 0-7-6 2-7 8 2-10zM407 258l-7 3-4-1 7-4z"/>
<path fill="#af5c1e" d="M338 913l-7-4-4 9-9-3-5 5-8 0-1 2 2 4 3-2 5 2 2-3 4 2 2-5 12 0 3-2zM362 895l-4-5-4 1-15 17 9 3 5-2 5-8 4 0zM475 781l-9 2-3 3 5 2zM484 764l-17 2 5 4 4 0zM556 490l1 11 5 5 6 1-3 10 4 12 10-1 1 7-4 4 6 3-1 4 3 3 8 2 2-7-8-6 2-6-5-7 2-7-6-6-10-3 2-4 4-1 0-2-7-2 3-6-5-3-1-4-5 4zM431 371l-1 7-4 0-4-7-8 0 1 10-8 0-4 3-1 15-8 14 3 6-8 2 11 16-5 0-10-9 1 4-2 2-10-3-5 2 4 8-7 1 0 5 14 4-9 2 6 6-4 4-10 1-1 3 18 4 2 7-2 2-9-1 3 5-1 3-7 1-6-3-3 3 1 5-5 2 1 7-3 1 2 3-4 2-5-3-12 12 3 8-2 1-5-4-15 22 1 4-12 7 3 7 7 0 0-7 5-6 6 3 7-5 0-5 7 2 3-5-1-10 4-3 6 4 9-12 8-5 2-5 4 1-1 5 4 3 10-1-1 5 3 4-8 1-3-2-1 4-10-9-9 14 7 8-11 4 0 5 4 3 23 0-8 4-11 0-1 9-3 3 2 2 10-5 5 1 1-5 3-2 12 0-9 8-3 6-11 1-5 3-1 4 8 3-1 4-7 0 1 5 8 2-8 7 21 3 7-3-6 8 3 2 7-2 11-8 9-1 7 4 0 5 6 0 1 2-7 4 0 5-3-4 1-6-5-2-14 1-13 13-2 5-6 2-7 10-5 0-9 5 0 4 5-1 3 4 3 0 9-10 3 0 2 3-4 11 3 1 8-10-2-1 16-15 3 1 0 4 16 2 3 10-8-1-3-5-14 12-6 0-9 8 7 5 6-8 14-3 3 5-5 3 1 3 15 5-4 8-14 6 2 5-2 6 6 6-3 4 6 7-17 1 0 11-7-7-9 1-2 5-4-3-12 1-7 4 4 12-5-1-3-5-7 0-7 9-5-2-3 3-8 1-1 6-14-4-6 2-4 5-11-3-9 5-1 3-6-1-1 5 4 3 2-4 5 0 9 6 4-7 6 3 8-5 8 2 2-6 7 4 14-6 7 1 3-6 4 3 1-5 8 0 3-4 4 6 2-1 1-10 8 1 5 4 23-8 6 2-6 6-7 2-4 6 5 2 3 7 10 5-4 2-6-4-9 0-5-5-4 0 0 3 10 2 5 5-1 6-9 2-3-4-5 0 0 5-14 3 1 8-5 3 8 5 4 7 6 1 5-2 7-17 7-1 7 6-3 6-5-2-1 10 2 4-5 4 3 4 8 1-7 4 8 6-16 5 4 5-4 4 15 4 1 2-5 3 4 2-6 4 1 4-10 3 4 3-2 6-9 2-15 8-3 7-8 0 13 8 7-5 5-10 5 2-6 10 5 9-6 8 7 5-2 6-12 5 5 5-6 5 11 0 5 12 4-6-2-7 11-5 0-6 5-1-11-12 2-2 3 2 6-2 10 1 1-12-9-14 2-3 11 3-6-12 3-8-4-6 7-5 4 3 3 23 5 7 5-8 5 3 0-3-4-1-2-4-1-16 13 10 2-1 2-8-4-4-3-9 2-1 12 10 5 1 6-1-6-9 2-2 7 2 5-5-3-5-13-4 8 5 0 3-21-5-2-4-16-12 5-2 14 8 11-3-23-8-8-7 14-1-3-4 2-2 10 0 10 13 11 5 2 11 8 2 0-5 10 1-7-7 8-4-2-4-17-2 7-2-4-4 9-4-37 0-20-11 12-8-3-6 5-6 6 3 3-5-2-7-6-4 0-7 10-2 1-3-9-5 11-1 3-7-4-4 12-4-1-4-13-2-5-4 2-2 25-2 1-6-5-6 3-5-8-5 2-2-2-4 13-1-10-6 6-6-7-5 5-2 1-4 10 1 4-4 8 0 1-3-9-12 2-4 13 4-23-20-3-10 4-2 13 7 4 14 13 9 9 3 7-8-10 1-8-3 6-4 1-6-8-8 5 0 10 7 6 1-5-9 4-3-1-4 8-2-13-4-3-3 1-9-24-7 21-1 15 6 11-2 0-5-5-5-8-3-3-6-6-2 9-5-16-3 4-4 12-1 2-3-15 0-1-4-12-1-7 3-13 14-16 0-2-2 4-4-6-3 0-4 10-6 7 0 1-5 7 5 19-2 5-4 20 6 6-9-6-5-2-10-20 9-8-1 6-6-23 8-3-1 20-13 19-5 2-6-5-1-18 9-7 0 1-4-4-1 0-3 4-3 11 0 7-3 1-3-5-5-12 8-5-1 10-11-7-2 5-8-12 5 5-16-5 0-7-7 2-8-4-4 4-8 10-1 1 9 7 1 3 9 7-1 1 7 6 0 7 7 0 6 7 8 6 0-1 11 6 0 4-4 2 3 1-3 7-3-3-6 2-3-10-1 6-8-8-2-3-4 0-6-2-2-6 2 1-6-4 0-6-6-7 3-1-3 3-6-4-5-10 0 3-5 10 0 1-2 8 2 2-6 10-2 2-2-3-4-10-1 6-1-1-3-14 4-2 6-11 0-1-3 4-4-2-9-2-1-1 6-8 7 0-13-6-2 1-6-2-1-2 5 4 3-3 6-5 1-2-10-2 7-9 8-7-8 1-3 4 2-2-9-5-4-7 6-8-3-4 11 12 11-8 3-1 9 3 3 7 0 4 5 3-2 7 10-3 11 2 15-3 13 5 6 0 8-10 17 1 9-8 0-5 5-12 4-2-4 5-3-1-4-19 1-2-4 13 0 2-6 6-2 5-6 3 0 3 5 7-2 5-4 1-7 3-3-5-3-5 2-2-2 9-23-5-7-6 4-4-5 0-7-3 20-6 5-3-3 3-12-4 2-2-4 4-10-3-2-3 3-1-4-4-1 1-4-6-1 4-3 0-10-12 2 10-13-1-3-9 3-2-2 9-9 0-3-2-1-6 6-4 8-6-5 15-18-1-7 7-2zM479 636l3 2-2 5 2 12-16-8zM401 596l-4 5-7 1 5-5zM501 573l-1 3-17 2-4-3 2-4 14-1zM388 527l4-1 6 5-2 1zM495 358l-10 2-2 6 8 1 4-5zM400 185l4 4 4-1-2-4zM578 100l-3 1 0 9 4-6zM511 94l-2 2 1 24 2 1 2-5 3 3 0 10-2 2-13-12-4 12-3-6 0-9-4-5-4 0-1 7-4-3 0 6 5 5-1 8-12-20-1 4-10-3-2 6 8 16-1 2-13-10-1-5-5-2-5 12 6 10-7 1-9-8-2 3 16 17 0 4-12-6 2 6-13-4 3 4-2 5-6-3-15-1 10 11-13 0 1 3 23 7 2 3-7 2 6 6-6 0-9 6-8-1 0 2 10 2 4 4-21-1 14 9 17 0 3 2-3 2-24 1-2 2 2 2-8 3 2 3-3 2 9 1 3 4-3 3-7 1-1 5 9 0-6 8 16 2 1 2-4 3 25-4-17 11 3 4-7 9 1 4 7-1-7 12 9 1 1-6 7 3 2 11-8 7 0 3 10 11 6 1 0-5 5-4 5-12 5-3 2 8-3 8 8-7 2 2-4 8 9-9 3 2-5 18 5-3 3 1-1-4 4-4 4 0 4 4-4 4 1 17 4-1 3-9 0 12 3 0 11-17 2 7-5 12 1 3 6-6 1-11 5-5 3 8-1 7 4 1 3-5-1-16 3-4 6 0 3 21 4-5 6 5 0-4 4-2 5 6 6-4 4 4 5-2 5 6 1-6-3-10 7-2-5-10 3-4 7 6 8-4 9 13-4-23 8-3-3-6 12 0 6 4 6-4-4-9 3-9-3-3-18-8-4 0-5 6-3-5 5-3-4-5 1-2 22 10 10-1-2-3 6-5 0-4-4-4-9-3 4-4 10-2 8-10-2-4 3-4-18-4-1-2 13-2 4-3-17-5-5 4-5 0-1-5 18-7-2-4 3-4-2-2 4-6-6 0-2-4 8-3 3-4-16 1 9-5 3-10-13 5 0-3 8-4 1-8-6-2-7 3-6-1 11-12-3-5-7 1-12 11-8 3-1-3 5-3 8-11-4-1-4 4-2-1 3-10-8 4 0-8-6 0-5 9 2-12-8 8-1-5 5-10-8 2-2-9-5 3-2 13-4 3 1-12-3 1-11-12-5 1 1 4-4 13-5-8-2 11-2-4 0-17-2-1-6 5zM407 246l4-3 6 1-5 3z"/>
<path fill="#9e4d18" d="M355 741l-3-3-5 1-2 7-6-1-9 6 17-2zM376 732l8 5 14 0 3-9-14-6-4 10-4-4zM509 616l4 7 6 1-1-4zM503 553l2 4-5 7 7 4-3 3 3 4 20 0 10-3-1-6-9-5 1-6-9-1-6-4-7 0zM508 544l2 3 13 1 2-2-6-5zM337 528l-7-1-7 17 7-5 5 1 2-2zM492 528l10 6 14-1 19-11-8-1-6 3-11 0 1-5-4 0-15 7zM561 494l-1 2 4 6 4 1-3-2 2-6zM483 458l-1 7 2 1 2-6zM407 404l-3 3 1 5-5 3 1 6-8 3 12 18-2 1-9-5 2 4-2 1-5-5-7 0-4 9 5 5-7 3 6 4-5 5-5 1 0 3 10 3 12-4 6 1-16 13-8 0 2 6-5 6-11-4 0 8-5 1-1 9-3 3-6-1-6 7 0 4-5 0 3 5 6-3 5 1 7-12 7-1 5-7 13-6 4-7 11-3 0 5-19 11-3 8 22 4 1 2-7 7 17 7-6 5 14-1 1 3-6 4-6 0-10-8-15 2-4-5-9-2-3 7 11 7-5 3-5-1-1 5 17-1 6 3-2 4 7 0 6-6 18-5 6 4-5 6 12 8-2 2-2-2-11 2-10-7-11 9-7-1-3 2-2 6-14 3 0 3 4-1 4 4-1 2 5 2-10 5 4 4-4 5 15 1 8-4 9-9-7-3 6-3 9 4-6 13 23 0-1 6 8 0 2 6-7 4 0 4 6 3 1 4-11-1-8 5 0-9-3-6-15 7 5-7-4-1-6 7 3 2-3 3-3-1-10 13 3-1 4 3 0-3 9-8 7 0 3-3 5 8 7 1 10-3 5 3-7 2 0 6 6 4 0 4-14-2-4 4 3 7-1 5 14 8-6 9-8 5 1 8-3 2 2 4 7 4-1 2-7 0 7 10-13-2-5 6-2-1 4 12 6-3 8 6-8 8-5 1 16 6-11 5 13 10-17 3-1 9 6 2-5 2 10 6-3 8 5 2-3 4-9-1 1 11 8 4-7 6 8 3-7 3 1 3-5 3 1 7 6 3 0 7-7 9-5 1 3 8-11 8 4 3 7-1 4 9-2 3-12-2-2 3 3 8-3 7 2 10-3 6-5 3 0 7 3 0 4-7 11-7-6-7 1-5 7 1-5-7 12 1 1-3-1-8-8-15 7 1 4-3 2-6-2-13 3-4 7-2-9-15 13 3 5 4 2 11-4 8 3 8 3 0-2-17 3-2 8 9 3-3-3-16 2-2 7 4-8-10-13 2-10-7 6 1 5-4-6-6 5-5-7-9 2-2 8 2 6-8-5-4-4 0-2-4 6-5 2-7-5-4 4-2-3-5 11-4 0-11 8-6-10-8 15-1 2-5-7-5 13-3-11-5-4-5 4-3 8 1 12-3-3-3 0-6-5-4 3-4-2-2 2-5-4-3 5-3-4-6 5-3-5-3 5-6-4-3-6 1 1-6-11-2 8-4 2-6 6-2 0-3-4-3 3-2-3-2-8 1-4-3 12-2 5 5 10 4 4 6-2 11 5 3 2-2-2-9 5 1-10-12 5-3 0-4-6-11-8-1-3-5 4-3 10 1 2-2 11 8 7 0-6-4 1-3 21 7 6-4-2-3-14-3 0-4-11-7 1-3 14 0 4 3 2-1-2-3-18-4-15 4-5-2-1 4-12-3-11 1 1-3 12-5-6-2-14 4-5-2 13-8 28 1 5-5-2-3-8-2-14 5-8 0-1-2 10-10-13 1 6-2 12-13 6-2-10 2-1-3 36-24 0-2-6 0-5-6 4-8-7 3 11-12 0-3-4-4-8 1 4-12-5-2-8 16 0 8 4-2 1 4-12 12 2 3 6-1 0 4-10 10-10 1-9 10-15-4-2-3 5-5-14 1-5-8-9 4 7-9 8 5 9-1-1-5 6-3-3-3 6-3 6-9 3 2-1 3 5 1 0 6 5-1 3-7-8-2 2-8-2-7-10 1-5 7-2-1-4-11 2-7-8-2 5-4 1-6-7-3 2-4-4 0 1-5-7 0 2-5-4-3 5-5-8 0 8-10 0-6-12 5zM436 579l3-5 6 0 2 3-5 4zM457 395l12 17-3 4 10 4 1 10 5 6 4-1-3-12 2-5 7 1 1 7 3 2 11-1 2 3-1 7 9 0 1 5-2 3 7 1 4 7 4 0 2 5 5 1 0 5 6 4 2 6 5 0-1 10 2 1 4-4 7 1-9-9-1-3 3-4-8-5-2-8-8 3 0-7-10-1 1-5-6 0 2-7-2 1-3-6-6 2-4-2-1-3 3-2 1-5-10-9-2-9-8 5-3-5-10 10-13-9 0-9-2 5-5-6zM539 106l-4 15-3 2-2-4-4 11-3-2-2-12 2-4-2-2-1 17-4 11-7-10-7-2-1 20-11-23-1 16-3 4-5-9 0-6-5-7-11 2 7 9 2 6-2 3-13-3-7-6-2 6 3 7-9 4 8 12-1 3-4 0 5 4-5 1-17-8 3 5-1 7-5-5-10-2 0 4 3 4-1 4 14 8-3 7 11 0 15 8-7 1-26-6-4 1-5 5 9 5-13 3 5 3 21 3-5 4-16 1-9 9 2 3 5 0 1 7 14-3 10 0 2 2-3 3-26 6-4 4 12 1 4 5 5-3 13 1-2 4-14 6 4 3-6 7 0 3 9-3 5 2-10 10 7-4 5 1-1 5 11-3-11 12 4 1-1 5 6 0 5-4 2 2-13 16 5-2 14-20 4 1-2 14 15-13 2 2-1 6 6 4 4 10 2 1 1-5 3 0 0 11 5 2 0 12 3-4 0-14 6-7 4 1-2 5 2 9 2 1 3-5 7 11 1-18 7 1 4-8 3 12 8 10 4 0 4 4 4-11 7 9 2-3 5 3-3-13 4-3-2-4 6-4 7 1-1-6 2-2 5 5 5 1 2-7 5-2-10-10 1-2 15 4 9-2 3-3 1-10-7-6-6 0 2 4-2 3-6 0-2 4-5-3 2-3-9-8 2-4 4-1-3-5 5-2 21 10 4 0-1-4 5-3-9-8 0-6 11-7-2-5 2-5-8-9 1-3 7-3-17 1-7-4 20-12-2-4-12 0 5-5 9-1-3-2 2-8-10-2 10-6 1-3-17-2 9-5 3-5-11-2-4-4-1-6-18 9 2-7 9-9-8 5-1-3 5-10-5 1-3-5-11 12 1-10-7-2 2-11-5-4-2 8-6 7-1 11-4 3-1-25zM453 147l4 3-2 5-3-4zM502 146l6 9 0 7-7-11z"/>
<path fill="#884a25" d="M425 801l-3 4-6 1 0 6 4 3-2 4 2 9 3 3 2-2-4-6 7-5 3-7-1-6zM387 728l0 4 11 1 1-2-1-3-7-3zM393 590l-13 0-3 4 10 4zM471 590l6-1 4 4 24 4-2-5-9-4-21-2 1 3zM385 574l-4 2 3 9 8-4-5-1zM512 558l-2 7 5 7 3 0 4-6-5-8zM460 531l9-1 1-2-8-1zM493 508l-5 0-1 9 7-4-3-2zM412 415l-3 4-4 0-1 6-5 0-1 3 8 10 1 7-7-1 3 4-1 3-15-8-2 7 4 4-7 2 3 2 0 5 8-2 3 4 11-3 4 2-15 9 1 4-2 2 2 4 13-2 1 2-9 7 13 3-4 4-11 0-6 3 5 5-4 6 8 5-1 7 7 2 2 7 10 2-2 6 3 4 6 2-4 6 4 4 8-4 9 0-15 19-12-3-10 4-7-3-2 3 9 2 0 3-6 5 7-1 6 3-4 10 11 5 10-4 0 5 10-2 8 4-13 13 1 9 6 7 4 1 2 6-7-1-8-6-1 2 6 5-3 2-7-1 0 4 6 9-2 2-12-1-2 3 0 6 13 12-1 5-4 3 1 6 4 3-8 3 5 4-5 4 5 1 1 3-11 5 8 7-4 3-14-2-3 7 19 10-6 3-1 6 11 8-9 3 2 5 7 2 0 4-15 9 0 7 5 0 6 4-4 3-1 6 5-1 4 4 5 0 2-3-5 0-5-5 1-4 3 2 7-8-5-7-2-12 4-5 7 3 7-16 0-5-6-3-2-8 4-2 2 5 8 2 1-6-3-5 5-2 1-3-7-7 6-6 10 1 2-6-11-13 3-5 2 2 4-1 0-3-7-3 5-3-2-4 5-2 2-7-11-5 5-3-1-2-9-1 8-7-10-4 4-3 10 1 1-3-9-5-6 3-10-11 13-3 5 3 8-2 8 5 5-3-10-2-5-11-7-3 1-3 8-4 8 0-1-3-9 2-3-7-8-2-18 8 4-7-4 2-10-2 0-6 4-8 4-2 12 1 3-3-3-3 3-6-3-4 6-9 9 0 2-6-2-2-9 5-5-1-1-2 7-8-8 0-4-5-6-1-4-5-5-1-5-7-12 5-4-1 8-10 0-4 5-4 8 9 4 0 4-7-10-8 2-2 12 0-1-2-15 0 14-9-3-7-5-3 5-4-8-6 1-3 5-1 0-3-8-11-5-1 0-12-4-2 6-12-3-1-5 3zM490 409l-1 4 6 2 2 5 5 2-3-7zM540 117l-3 3-2 13-4-2-1-4-3 7-1 30 5 16 0 13 8 10 2-2 6 1-3 7 10-1 0 2-19 7-10-12 0-38-4 0-2-18 4-12-1-7-3 3 1 5-3 8-9-16-5 3 4 17 10 9-1 4-4-3-3 7-8-12-2-10-8-8-3 18-4 1-7-24-1 15-3 1-5-3-3 3-4-1-1 3 4 5 0 5 6 4-6 2-11-7 4 11 10 9-11 3-16-9 13 12-5 1-14-6-2 2 4 8 18 8 8-2 13 4 8-1 13 6 9 0-1-3 3-1 5 5-6 6-15-6-9 1-17-5-23 2-17-5-2 3 7 7-2 3 9-4 10 1 1 2-8 3-7 11-12 1-3 3 5 4-5 3 24-2 5 3-9 7-14 2-4 4 14 4 20-2-16 10-8 9 0 3 12 0-1 5 14-10 4 0-16 15 13-2 1 2-5 2-4 6 3 7 19-9 12-13 3 5-14 14-3 7 14-9 2 2-3 8 2 2 4-4 4 4-1 8 14-27-5 16-1 13 3-1 1-4 3 3 3-1 6-8 2 2-2 9 3 6 5 2 4-11 4 6 3-3-6-21 0-10 4-7 1 16 3 9 4 3 0 12 14 13 5-7 5 4 5-6-1-13 3 4 3 0-1-4 2-2 6 2-2-5 2-6 4 0 6 8 2-1 0-3-19-17 3-2 7 6 10-1 0-8-7-7 0-4 6-4-2-5 8-3 16 4 1-5-5-11 10-4 1-9-3-7-7-6-8-1-2-3 13-13-10-1-1-2 15-9 1-4-3-3-10 0 9-7-2-4-14 2-3-3 7-9-9-8-13 4 4-8-7 0 5-8-2-4-5 2-11 14-3 0-1-3 7-9 2-8-9-3-12 21-3-19-3 3-3-2 0-4 6-5 0-5zM565 277l6 1 3 5-4 0zM540 265l6 8-1 4-7-7zM524 228l6 8-6 12 1 13-2 7-5 7-3-3-4 1-4 7 1-9 5-4 4 0 4-10 0-23-12 11 0-7-7-5z"/>
<path fill="#764d37" d="M428 772l-1 10 4 0 2-5zM458 642l-5 0-2 3-3-4-11 2 1 10-8 6 1 6 6 5-1 4 5 4-2 4-7 1 0 3 6 5-4 2 3 7-4 1 2 3-8 8 4 2-1 6-16 3 5 4 0 3 12 6-3 3 1 9 5 1 3 6 5-5-4-22 5-5 4 1 4-6-3-8 2-6-3-3 13-5-2-5-6-2 2-8 3-2-5-6 9-2-12-5 17-4-4-4-9-1 7-5-8-3zM415 574l-1 6 6 2-2 5 4 2 2-6-4-8zM416 520l0 8 9 4-2 5 3 5 5 2-1 8 13-4 0-6-7-4-11-17zM403 479l7 0 5-4 1 4-4 6 1 2 5 1 12-4-1-6-5 1-3-2 2-2-1-4-8 0zM413 425l-6 8 2 16-3 1-1 4-11-3 1 7 2 2 12 0 5 5 10 1 1-3-7-3 7-3 1-4-6-7-5 1 3-7-5-7 2-6zM529 264l-4 1-7 18-5-8-3 2-6 17-1 11 4 2 7-5 3-12 7-2 5-12zM476 156l4 9-7-1 6 9-2 1-5-4 7 11-7 0-2 3-6-2 0 5-5 5 14 6 8-1 17 5-4-7 3-7 11 11 4-1 8 7 1-34-8-2-3 4 5 12-2 1-2-3-3 1-5-8 0-8 3 0-9-20-9 13-8-6zM608 177l-3-1-4 4-4 0-4-8 2-9-6-5-9 4-5 6-4-14-2-2-6 5-5-1 1-10-3 0-6 11-2 15-6 8-1-4 5-8 1-7-1-13-6 2-3 7-5-5-2 1-2-5-1 11 9 21 2 17 5 0 0-6 4-7 5-3 2 6 4-1 2 2-13 18 7 0 5-4 5 4-3 4-10 3 0 2 20 0 0 4-14 3 3 5-4 1-16-4-19-16 1 6-12 0-6 5-5-6-9-5-7 3-5-4-11-3-17 3 1 5-9 5 2 6 10 7 11 2-10 5-5-1-4 5 0 6 3 2 5-1 1-6 10-5 11-2 2 4-4 10-16 9-3-4-1 6-4 4-9 1-3 6 14-2 12-6 2 3-11 11 4-2 7 3 4-1-1 9 7-6 4-12 8 11-3 8 7-3-2 8 5 3 5-6 10-24 6-3 2-9-2 0-2 7-8 1-2-7-9 12-3-1 5-13 7-9-7 0-3-3 5-9-1-4 30-1 4-4 2 6-1 11-6 7-1 9 3-1 4 4 0 6 3 2 3-9 15 26-1 4-5 0-2 4-5-6-1-9-2 0-5 8 1 11 6 1 5 15 4-2 2 6 12 1 0-8-4-7 4 0 6 6 2-8-5-7 5 1 3 5 4-5-8-8-6 2 1-4-18-30-2-9 5 0 0-4 7-4 10 3 1 3-11-1-2 8 5 4-2 7 9 13 8-2 3 7 6 4-1-14 6-3-3-6 1-4 18 1 3-3-5-10 8-6-18-9 17 0-4-6-13 0-2-2 5-1 4-6-1-7-12 0 3-6 16-6 3-6-9 2-5-2zM473 212l9-1 1 2-5 2z"/>
<path fill="#6a5d58" d="M440 707l-3 3 0 11-8 5 4 6 10-16zM452 669l-5-1-6 5 6 5 0-8zM451 647l-5-2-4 5-2 7-3 2 2 8 6-1 3-4 8 0-6-3 0-3 4-2-5-1zM415 452l-3 7 6-3zM559 289l-4 2-2 5-3-2-4 4 4 5 3-4 3 0 0-5 5-1zM512 281l-3 3-1 8 7-5zM508 264l-7-2-6 10 9 0zM493 226l-12 2-12 6 8-1 3 3-2 7 3 2-2 4-16 8 8 8 13-11 5 1 5-8-5-6 2-6-9 1-1-3zM486 216l0 6 6-2 3 2-1-6-4-2zM448 218l5 5 12 3 9-6-2-4-10-5 1-3zM587 168l-2 9 5 5 1-5zM494 162l-7 3-1 10-4 5 0 4-5 4 0 4 8 4 5-2 1-7-2-4 2-2 9 6 4 0-3-16zM543 160l-3 0-3 4 2 8 5-4zM553 159l-3 5-1 13 5-4 3 2-1 7 4 0 10 11-1 14 2 4 7 3-7 10-6-1 0 2 19 10-5 3-9-2 1 2 7 0 9 6-1 2-11 1-11-2-2 4 6 13 15 1 2-2-2-9 15 1 1-6-4-7 4-6-12-5 5-6-6-3 6-6-9-1-4-3 5-10-7-4 0-6-5-2 2-5-3-3 3-5-10-10-1-6-6 2z"/></g></g></g></g>
<g fill="#00ffff">
<circle cx="516.2" cy="286.4" r="4.7"/>
<circle cx="521.3" cy="285.3" r="4.7"/>
<circle cx="527.0" cy="286.2" r="4.7"/>
<circle cx="538.7" cy="285.6" r="4.7"/>
<circle cx="544.8" cy="286.2" r="4.7"/>
<circle cx="511.9" cy="291.6" r="4.7"/>
<circle cx="515.5" cy="292.4" r="4.7"/>
<circle cx="521.9" cy="290.4" r="4.7"/>
<circle cx="533.4" cy="291.8" r="4.7"/>
<circle cx="539.6" cy="290.6" r="4.7"/>
<circle cx="545.0" cy="292.3" r="4.7"/>
<circle cx="550.4" cy="290.4" r="4.7"/>
<circle cx="556.2" cy="290.2" r="4.7"/>
<circle cx="506.5" cy="297.0" r="4.7"/>
<circle cx="511.3" cy="297.3" r="4.7"/>
<circle cx="518.1" cy="295.3" r="4.7"/>
<circle cx="523.5" cy="296.2" r="4.7"/>
<circle cx="527.9" cy="295.4" r="4.7"/>
<circle cx="534.1" cy="295.9" r="4.7"/>
<circle cx="540.1" cy="295.8" r="4.7"/>
<circle cx="544.7" cy="296.2" r="4.7"/>
<circle cx="550.3" cy="295.6" r="4.7"/>
<circle cx="556.2" cy="297.3" r="4.7"/>
<circle cx="562.3" cy="295.6" r="4.7"/>
<circle cx="510.5" cy="303.4" r="4.7"/>
<circle cx="517.4" cy="302.3" r="4.7"/>
<circle cx="523.9" cy="302.9" r="4.7"/>
<circle cx="528.9" cy="300.7" r="4.7"/>
<circle cx="533.1" cy="300.8" r="4.7"/>
<circle cx="538.1" cy="301.1" r="4.7"/>
<circle cx="545.6" cy="300.9" r="4.7"/>
<circle cx="549.4" cy="302.0" r="4.7"/>
<circle cx="556.5" cy="303.4" r="4.7"/>
<circle cx="560.1" cy="302.1" r="4.7"/>
<circle cx="504.7" cy="308.0" r="4.7"/>
<circle cx="511.1" cy="307.8" r="4.7"/>
<circle cx="517.5" cy="308.0" r="4.7"/>
<circle cx="522.6" cy="307.7" r="4.7"/>
<circle cx="527.1" cy="307.5" r="4.7"/>
<circle cx="532.4" cy="307.4" r="4.7"/>
<circle cx="539.1" cy="308.3" r="4.7"/>
<circle cx="544.2" cy="306.1" r="4.7"/>
<circle cx="550.1" cy="306.6" r="4.7"/>
<circle cx="556.2" cy="307.2" r="4.7"/>
<circle cx="562.2" cy="307.2" r="4.7"/>
<circle cx="566.0" cy="307.4" r="4.7"/>
<circle cx="506.1" cy="314.3" r="4.7"/>
<circle cx="511.7" cy="313.7" r="4.7"/>
<circle cx="518.3" cy="314.0" r="4.7"/>
<circle cx="523.2" cy="313.9" r="4.7"/>
<circle cx="529.0" cy="312.3" r="4.7"/>
<circle cx="533.4" cy="312.5" r="4.7"/>
<circle cx="538.3" cy="313.2" r="4.7"/>
<circle cx="544.0" cy="313.4" r="4.7"/>
<circle cx="550.2" cy="311.8" r="4.7"/>
<circle cx="555.3" cy="312.7" r="4.7"/>
<circle cx="561.6" cy="311.8" r="4.7"/>
<circle cx="566.5" cy="312.7" r="4.7"/>
<circle cx="500.0" cy="317.6" r="4.7"/>
<circle cx="510.7" cy="317.4" r="4.7"/>
<circle cx="516.3" cy="318.0" r="4.7"/>
<circle cx="521.7" cy="318.6" r="4.7"/>
<circle cx="529.3" cy="317.4" r="4.7"/>
<circle cx="533.2" cy="319.0" r="4.7"/>
<circle cx="540.2" cy="320.0" r="4.7"/>
<circle cx="543.4" cy="318.6" r="4.7"/>
<circle cx="551.1" cy="317.2" r="4.7"/>
<circle cx="555.8" cy="317.5" r="4.7"/>
<circle cx="562.3" cy="318.6" r="4.7"/>
<circle cx="565.2" cy="318.2" r="4.7"/>
<circle cx="505.2" cy="324.5" r="4.7"/>
<circle cx="510.8" cy="324.6" r="4.7"/>
<circle cx="516.4" cy="323.6" r="4.7"/>
<circle cx="523.3" cy="324.0" r="4.7"/>
<circle cx="528.9" cy="324.0" r="4.7"/>
<circle cx="532.5" cy="323.8" r="4.7"/>
<circle cx="540.1" cy="324.2" r="4.7"/>
<circle cx="545.9" cy="322.5" r="4.7"/>
<circle cx="549.5" cy="324.8" r="4.7"/>
<circle cx="556.1" cy="324.2" r="4.7"/>
<circle cx="562.1" cy="324.6" r="4.7"/>
<circle cx="566.7" cy="324.5" r="4.7"/>
<circle cx="512.0" cy="329.8" r="4.7"/>
<circle cx="517.9" cy="329.4" r="4.7"/>
<circle cx="521.1" cy="329.6" r="4.7"/>
<circle cx="529.1" cy="329.9" r="4.7"/>
<circle cx="533.9" cy="329.2" r="4.7"/>
<circle cx="538.6" cy="330.2" r="4.7"/>
<circle cx="543.2" cy="330.6" r="4.7"/>
<circle cx="551.1" cy="330.9" r="4.7"/>
<circle cx="554.4" cy="328.3" r="4.7"/>
<circle cx="562.2" cy="329.2" r="4.7"/>
<circle cx="566.1" cy="330.0" r="4.7"/>
<circle cx="572.0" cy="330.0" r="4.7"/>
<circle cx="504.5" cy="335.9" r="4.7"/>
<circle cx="511.3" cy="335.2" r="4.7"/>
<circle cx="516.3" cy="336.2" r="4.7"/>
<circle cx="521.6" cy="335.1" r="4.7"/>
<circle cx="527.0" cy="335.3" r="4.7"/>
<circle cx="534.7" cy="336.1" r="4.7"/>
<circle cx="537.9" cy="335.4" r="4.7"/>
<circle cx="545.7" cy="334.1" r="4.7"/>
<circle cx="549.7" cy="335.6" r="4.7"/>
<circle cx="556.2" cy="334.9" r="4.7"/>
<circle cx="561.4" cy="335.5" r="4.7"/>
<circle cx="567.0" cy="335.2" r="4.7"/>
<circle cx="511.5" cy="340.0" r="4.7"/>
<circle cx="518.3" cy="339.6" r="4.7"/>
<circle cx="521.4" cy="339.0" r="4.7"/>
<circle cx="529.1" cy="342.0" r="4.7"/>
<circle cx="532.7" cy="339.8" r="4.7"/>
<circle cx="538.1" cy="340.8" r="4.7"/>
<circle cx="544.5" cy="341.5" r="4.7"/>
<circle cx="549.1" cy="341.6" r="4.7"/>
<circle cx="555.4" cy="341.4" r="4.7"/>
<circle cx="562.2" cy="340.5" r="4.7"/>
<circle cx="566.7" cy="339.6" r="4.7"/>
<circle cx="518.3" cy="347.2" r="4.7"/>
<circle cx="521.1" cy="346.5" r="4.7"/>
<circle cx="526.9" cy="344.9" r="4.7"/>
<circle cx="534.9" cy="346.1" r="4.7"/>
<circle cx="539.0" cy="347.0" r="4.7"/>
<circle cx="543.2" cy="345.1" r="4.7"/>
<circle cx="556.0" cy="346.8" r="4.7"/>
<circle cx="561.7" cy="346.1" r="4.7"/>
<circle cx="565.6" cy="347.5" r="4.7"/>
<circle cx="517.6" cy="352.6" r="4.7"/>
<circle cx="521.1" cy="351.2" r="4.7"/>
<circle cx="527.9" cy="351.3" r="4.7"/>
<circle cx="540.3" cy="350.1" r="4.7"/>
<circle cx="566.4" cy="319.3" r="4.7"/>
<circle cx="521.9" cy="273.7" r="4.7"/>
<circle cx="573.1" cy="334.1" r="4.7"/>
<circle cx="574.9" cy="317.5" r="4.7"/>
<circle cx="558.1" cy="290.4" r="4.7"/>
<circle cx="554.3" cy="348.9" r="4.7"/>
<circle cx="576.4" cy="327.9" r="4.7"/>
<circle cx="571.1" cy="336.6" r="4.7"/>
<circle cx="569.3" cy="355.7" r="4.7"/>
<circle cx="569.1" cy="354.8" r="4.7"/>
<circle cx="520.8" cy="277.3" r="4.7"/>
<circle cx="573.2" cy="314.5" r="4.7"/>
<circle cx="582.6" cy="326.1" r="4.7"/>
<circle cx="512.2" cy="345.5" r="4.7"/>
<circle cx="516.0" cy="351.2" r="4.7"/>
<circle cx="501.7" cy="296.3" r="4.7"/>
<circle cx="536.7" cy="362.7" r="4.7"/>
<circle cx="526.8" cy="359.1" r="4.7"/>
<circle cx="559.2" cy="349.1" r="4.7"/>
<circle cx="515.5" cy="349.8" r="4.7"/>
<circle cx="573.5" cy="338.0" r="4.7"/>
<circle cx="544.6" cy="348.9" r="4.7"/>
<circle cx="564.1" cy="300.8" r="4.7"/>
<circle cx="504.5" cy="350.8" r="4.7"/>
<circle cx="502.0" cy="316.6" r="4.7"/>
<circle cx="568.6" cy="308.1" r="4.7"/>
<circle cx="536.5" cy="353.7" r="4.7"/>
<circle cx="574.8" cy="316.6" r="4.7"/>
<circle cx="519.9" cy="280.2" r="4.7"/>
<circle cx="511.8" cy="341.6" r="4.7"/>
<circle cx="517.7" cy="358.5" r="4.7"/>
<circle cx="522.5" cy="140.2" r="4.7"/>
<circle cx="546.7" cy="127.5" r="4.7"/>
<circle cx="594.1" cy="120.0" r="4.7"/>
<circle cx="616.0" cy="143.0" r="4.7"/>
<circle cx="675.6" cy="149.7" r="4.7"/>
<circle cx="584.1" cy="165.3" r="4.7"/>
<circle cx="596.3" cy="177.9" r="4.7"/>
<circle cx="602.2" cy="192.7" r="4.7"/>
<circle cx="648.3" cy="211.8" r="4.7"/>
<circle cx="516.1" cy="214.0" r="4.7"/>
<circle cx="537.7" cy="217.1" r="4.7"/>
<circle cx="531.2" cy="222.1" r="4.7"/>
<circle cx="542.5" cy="231.2" r="4.7"/>
<circle cx="490.7" cy="233.4" r="4.7"/>
<circle cx="403.4" cy="271.9" r="4.7"/>
<circle cx="488.5" cy="233.6" r="4.7"/>
<circle cx="487.7" cy="258.0" r="4.7"/>
<circle cx="495.8" cy="271.0" r="4.7"/>
<circle cx="470.5" cy="291.1" r="4.7"/>
<circle cx="476.2" cy="303.1" r="4.7"/>
<circle cx="487.7" cy="303.5" r="4.7"/>
<circle cx="495.4" cy="293.5" r="4.7"/>
<circle cx="502.1" cy="294.0" r="4.7"/>
<circle cx="517.4" cy="257.6" r="4.7"/>
<circle cx="516.4" cy="264.3" r="4.7"/>
<circle cx="516.4" cy="276.7" r="4.7"/>
<circle cx="512.6" cy="284.4" r="4.7"/>
<circle cx="483.9" cy="308.3" r="4.7"/>
<circle cx="482.9" cy="316.0" r="4.7"/>
<circle cx="491.5" cy="314.1" r="4.7"/>
<circle cx="507.8" cy="306.4" r="4.7"/>
<circle cx="534.5" cy="240.3" r="4.7"/>
<circle cx="542.1" cy="242.7" r="4.7"/>
<circle cx="549.8" cy="243.7" r="4.7"/>
<circle cx="557.0" cy="245.6" r="4.7"/>
<circle cx="588.6" cy="249.0" r="4.7"/>
<circle cx="519.2" cy="257.1" r="4.7"/>
<circle cx="529.7" cy="259.5" r="4.7"/>
<circle cx="539.3" cy="265.7" r="4.7"/>
<circle cx="549.3" cy="255.7" r="4.7"/>
<circle cx="551.2" cy="262.8" r="4.7"/>
<circle cx="569.0" cy="265.2" r="4.7"/>
<circle cx="574.2" cy="268.6" r="4.7"/>
<circle cx="550.3" cy="273.9" r="4.7"/>
<circle cx="573.8" cy="281.0" r="4.7"/>
<circle cx="591.5" cy="282.0" r="4.7"/>
<circle cx="517.2" cy="275.8" r="4.7"/>
<circle cx="527.8" cy="271.0" r="4.7"/>
<circle cx="534.5" cy="273.9" r="4.7"/>
<circle cx="525.9" cy="279.6" r="4.7"/>
<circle cx="512.5" cy="283.4" r="4.7"/>
<circle cx="534.0" cy="286.3" r="4.7"/>
<circle cx="557.5" cy="281.5" r="4.7"/>
<circle cx="545.0" cy="284.4" r="4.7"/>
<circle cx="560.3" cy="292.0" r="4.7"/>
<circle cx="573.8" cy="294.0" r="4.7"/>
<circle cx="582.4" cy="294.0" r="4.7"/>
<circle cx="574.7" cy="303.5" r="4.7"/>
<circle cx="594.3" cy="299.7" r="4.7"/>
<circle cx="601.5" cy="303.1" r="4.7"/>
<circle cx="590.0" cy="311.2" r="4.7"/>
<circle cx="567.0" cy="311.2" r="4.7"/>
<circle cx="501.9" cy="294.0" r="4.7"/>
<circle cx="485.2" cy="307.1" r="4.7"/>
<circle cx="489.2" cy="303.0" r="4.7"/>
<circle cx="482.7" cy="316.1" r="4.7"/>
<circle cx="492.3" cy="314.1" r="4.7"/>
<circle cx="491.3" cy="326.7" r="4.7"/>
<circle cx="481.7" cy="341.8" r="4.7"/>
<circle cx="494.3" cy="338.8" r="4.7"/>
<circle cx="496.3" cy="344.4" r="4.7"/>
<circle cx="486.7" cy="354.4" r="4.7"/>
<circle cx="503.3" cy="362.5" r="4.7"/>
<circle cx="501.3" cy="366.5" r="4.7"/>
<circle cx="507.4" cy="365.5" r="4.7"/>
<circle cx="513.4" cy="360.5" r="4.7"/>
<circle cx="515.4" cy="368.5" r="4.7"/>
<circle cx="513.4" cy="376.6" r="4.7"/>
<circle cx="527.0" cy="369.6" r="4.7"/>
<circle cx="530.6" cy="361.5" r="4.7"/>
<circle cx="539.6" cy="367.5" r="4.7"/>
<circle cx="549.7" cy="368.5" r="4.7"/>
<circle cx="540.6" cy="356.5" r="4.7"/>
<circle cx="556.8" cy="358.5" r="4.7"/>
<circle cx="572.9" cy="356.5" r="4.7"/>
<circle cx="579.5" cy="348.4" r="4.7"/>
<circle cx="590.0" cy="348.4" r="4.7"/>
<circle cx="597.6" cy="350.4" r="4.7"/>
<circle cx="588.0" cy="360.5" r="4.7"/>
<circle cx="581.0" cy="369.0" r="4.7"/>
<circle cx="599.6" cy="373.1" r="4.7"/>
<circle cx="599.1" cy="386.7" r="4.7"/>
<circle cx="613.2" cy="363.0" r="4.7"/>
<circle cx="615.7" cy="372.6" r="4.7"/>
<circle cx="613.7" cy="334.8" r="4.7"/>
<circle cx="586.0" cy="339.3" r="4.7"/>
<circle cx="593.1" cy="340.3" r="4.7"/>
<circle cx="576.9" cy="331.3" r="4.7"/>
<circle cx="574.9" cy="304.0" r="4.7"/>
<circle cx="592.0" cy="302.0" r="4.7"/>
<circle cx="565.8" cy="310.1" r="4.7"/>
<circle cx="564.8" cy="322.2" r="4.7"/>
<circle cx="509.4" cy="391.7" r="4.7"/>
<circle cx="523.5" cy="395.3" r="4.7"/>
<circle cx="536.6" cy="391.7" r="4.7"/>
<circle cx="539.6" cy="388.7" r="4.7"/>
<circle cx="487.7" cy="260.6" r="4.7"/>
<circle cx="529.9" cy="262.2" r="4.7"/>
<circle cx="538.8" cy="266.7" r="4.7"/>
<circle cx="551.0" cy="262.8" r="4.7"/>
<circle cx="516.6" cy="275.5" r="4.7"/>
<circle cx="525.5" cy="277.7" r="4.7"/>
<circle cx="536.6" cy="274.4" r="4.7"/>
<circle cx="557.6" cy="282.2" r="4.7"/>
<circle cx="534.3" cy="286.6" r="4.7"/>
<circle cx="503.3" cy="295.5" r="4.7"/>
<circle cx="487.7" cy="302.7" r="4.7"/>
<circle cx="483.3" cy="307.7" r="4.7"/>
<circle cx="482.8" cy="316.6" r="4.7"/>
<circle cx="492.2" cy="314.4" r="4.7"/>
<circle cx="491.1" cy="327.1" r="4.7"/>
<circle cx="481.6" cy="342.1" r="4.7"/>
<circle cx="493.8" cy="339.3" r="4.7"/>
<circle cx="496.1" cy="344.9" r="4.7"/>
<circle cx="486.6" cy="354.3" r="4.7"/>
<circle cx="502.2" cy="363.2" r="4.7"/>
<circle cx="505.5" cy="366.5" r="4.7"/>
<circle cx="515.5" cy="366.5" r="4.7"/>
<circle cx="513.3" cy="358.7" r="4.7"/>
<circle cx="529.9" cy="362.1" r="4.7"/>
<circle cx="541.0" cy="356.5" r="4.7"/>
<circle cx="539.9" cy="367.0" r="4.7"/>
<circle cx="549.9" cy="366.5" r="4.7"/>
<circle cx="557.6" cy="358.2" r="4.7"/>
<circle cx="572.6" cy="356.5" r="4.7"/>
<circle cx="579.8" cy="348.2" r="4.7"/>
<circle cx="588.1" cy="360.9" r="4.7"/>
<circle cx="585.4" cy="338.8" r="4.7"/>
<circle cx="593.1" cy="339.9" r="4.7"/>
<circle cx="597.0" cy="350.4" r="4.7"/>
<circle cx="580.9" cy="367.0" r="4.7"/>
<circle cx="577.0" cy="331.5" r="4.7"/>
<circle cx="574.8" cy="304.4" r="4.7"/>
<circle cx="582.0" cy="293.3" r="4.7"/>
<circle cx="574.3" cy="293.3" r="4.7"/>
<circle cx="589.8" cy="311.0" r="4.7"/>
<circle cx="594.2" cy="301.0" r="4.7"/>
<circle cx="598.7" cy="304.4" r="4.7"/>
<circle cx="595.3" cy="351.0" r="4.7"/>
<circle cx="512.8" cy="379.1" r="4.7"/>
<circle cx="526.4" cy="371.0" r="4.7"/>
<circle cx="539.5" cy="370.5" r="4.7"/>
<circle cx="549.6" cy="370.5" r="4.7"/>
<circle cx="580.8" cy="371.0" r="4.7"/>
<circle cx="586.3" cy="402.8" r="4.7"/>
<circle cx="535.4" cy="392.2" r="4.7"/>
<circle cx="520.3" cy="404.3" r="4.7"/>
<circle cx="518.8" cy="406.3" r="4.7"/>
<circle cx="498.1" cy="411.8" r="4.7"/>
<circle cx="501.7" cy="415.4" r="4.7"/>
<circle cx="511.3" cy="412.3" r="4.7"/>
<circle cx="530.4" cy="410.8" r="4.7"/>
<circle cx="514.3" cy="422.9" r="4.7"/>
<circle cx="536.5" cy="454.7" r="4.7"/>
<circle cx="532.4" cy="460.7" r="4.7"/>
<circle cx="550.6" cy="469.3" r="4.7"/>
<circle cx="556.8" cy="484.8" r="4.7"/>
<circle cx="532.3" cy="491.4" r="4.7"/>
<circle cx="541.0" cy="494.1" r="4.7"/>
<circle cx="539.0" cy="536.6" r="4.7"/>
<circle cx="543.5" cy="541.3" r="4.7"/>
<circle cx="545.7" cy="549.6" r="4.7"/>
<circle cx="623.0" cy="552.5" r="4.7"/>
<circle cx="605.6" cy="571.6" r="4.7"/>
<circle cx="634.3" cy="307.5" r="4.7"/>
<circle cx="648.9" cy="299.5" r="4.7"/>
<circle cx="673.1" cy="296.5" r="4.7"/>
<circle cx="694.7" cy="324.0" r="4.7"/>
<circle cx="670.5" cy="340.0" r="4.7"/>
<circle cx="601.5" cy="373.6" r="4.7"/>
<circle cx="648.4" cy="381.6" r="4.7"/>
<circle cx="711.5" cy="460.9" r="4.7"/>
<circle cx="757.7" cy="508.7" r="4.7"/>
<circle cx="695.6" cy="599.2" r="4.7"/>
<circle cx="412.6" cy="346.0" r="4.7"/>
<circle cx="544.4" cy="885.8" r="4.7"/>
</g>
<rect x="129.0" y="76.3" width="687.6" height="867.3000000000001" fill="none" stroke="#111" stroke-width="1.3"/>
<text transform="translate(167.2,53.6) scale(0.985,1.08)" text-anchor="middle" style="font-family:'Liberation Sans',Arial,sans-serif;font-size:30px">−61°20'</text>
<text transform="translate(167.2,993.6) scale(0.985,1.08)" text-anchor="middle" style="font-family:'Liberation Sans',Arial,sans-serif;font-size:30px">−61°20'</text>
<text transform="translate(358.2,53.6) scale(0.985,1.08)" text-anchor="middle" style="font-family:'Liberation Sans',Arial,sans-serif;font-size:30px">−61°15'</text>
<text transform="translate(358.2,993.6) scale(0.985,1.08)" text-anchor="middle" style="font-family:'Liberation Sans',Arial,sans-serif;font-size:30px">−61°15'</text>
<text transform="translate(549.2,53.6) scale(0.985,1.08)" text-anchor="middle" style="font-family:'Liberation Sans',Arial,sans-serif;font-size:30px">−61°10'</text>
<text transform="translate(549.2,993.6) scale(0.985,1.08)" text-anchor="middle" style="font-family:'Liberation Sans',Arial,sans-serif;font-size:30px">−61°10'</text>
<text transform="translate(740.2,53.6) scale(0.985,1.08)" text-anchor="middle" style="font-family:'Liberation Sans',Arial,sans-serif;font-size:30px">−61°05'</text>
<text transform="translate(740.2,993.6) scale(0.985,1.08)" text-anchor="middle" style="font-family:'Liberation Sans',Arial,sans-serif;font-size:30px">−61°05'</text>
<text transform="translate(105.5,166.3) scale(0.985,1.08)" text-anchor="end" style="font-family:'Liberation Sans',Arial,sans-serif;font-size:30px">13°25'</text>
<text transform="translate(841.5,166.8) scale(0.985,1.08)" text-anchor="start" style="font-family:'Liberation Sans',Arial,sans-serif;font-size:30px">13°25'</text>
<text transform="translate(105.5,361.7) scale(0.985,1.08)" text-anchor="end" style="font-family:'Liberation Sans',Arial,sans-serif;font-size:30px">13°20'</text>
<text transform="translate(841.5,362.2) scale(0.985,1.08)" text-anchor="start" style="font-family:'Liberation Sans',Arial,sans-serif;font-size:30px">13°20'</text>
<text transform="translate(105.5,557.2) scale(0.985,1.08)" text-anchor="end" style="font-family:'Liberation Sans',Arial,sans-serif;font-size:30px">13°15'</text>
<text transform="translate(841.5,557.7) scale(0.985,1.08)" text-anchor="start" style="font-family:'Liberation Sans',Arial,sans-serif;font-size:30px">13°15'</text>
<text transform="translate(105.5,752.6) scale(0.985,1.08)" text-anchor="end" style="font-family:'Liberation Sans',Arial,sans-serif;font-size:30px">13°10'</text>
<text transform="translate(841.5,753.1) scale(0.985,1.08)" text-anchor="start" style="font-family:'Liberation Sans',Arial,sans-serif;font-size:30px">13°10'</text>
<text transform="translate(105.5,948.1) scale(0.985,1.08)" text-anchor="end" style="font-family:'Liberation Sans',Arial,sans-serif;font-size:30px">13°05'</text>
<text transform="translate(841.5,948.6) scale(0.985,1.08)" text-anchor="start" style="font-family:'Liberation Sans',Arial,sans-serif;font-size:30px">13°05'</text>
<clipPath id="clip51"><rect x="1098.4" y="51.8" width="824.5999999999999" height="377.2"/></clipPath>
<g clip-path="url(#clip51)" fill="#000">
<circle cx="1321.0" cy="53.6" r="5.8"/>
<circle cx="1330.0" cy="52.6" r="5.8"/>
<circle cx="1340.1" cy="63.6" r="5.8"/>
<circle cx="1351.7" cy="62.1" r="5.8"/>
<circle cx="1359.3" cy="58.1" r="5.8"/>
<circle cx="1353.2" cy="64.2" r="5.8"/>
<circle cx="1352.2" cy="72.7" r="5.8"/>
<circle cx="1387.0" cy="53.6" r="5.8"/>
<circle cx="1394.0" cy="54.1" r="5.8"/>
<circle cx="1408.2" cy="55.1" r="5.8"/>
<circle cx="1380.0" cy="63.1" r="5.8"/>
<circle cx="1391.0" cy="63.1" r="5.8"/>
<circle cx="1396.1" cy="67.7" r="5.8"/>
<circle cx="1378.5" cy="69.2" r="5.8"/>
<circle cx="1378.0" cy="77.3" r="5.8"/>
<circle cx="1369.9" cy="84.3" r="5.8"/>
<circle cx="1319.5" cy="82.8" r="5.8"/>
<circle cx="1333.1" cy="85.8" r="5.8"/>
<circle cx="1332.1" cy="93.4" r="5.8"/>
<circle cx="1315.4" cy="97.4" r="5.8"/>
<circle cx="1323.0" cy="98.4" r="5.8"/>
<circle cx="1357.3" cy="91.4" r="5.8"/>
<circle cx="1366.9" cy="90.4" r="5.8"/>
<circle cx="1365.8" cy="99.4" r="5.8"/>
<circle cx="1378.5" cy="94.4" r="5.8"/>
<circle cx="1386.0" cy="96.4" r="5.8"/>
<circle cx="1395.1" cy="80.3" r="5.8"/>
<circle cx="1393.0" cy="87.3" r="5.8"/>
<circle cx="1397.6" cy="91.4" r="5.8"/>
<circle cx="1410.2" cy="82.3" r="5.8"/>
<circle cx="1410.2" cy="91.4" r="5.8"/>
<circle cx="1409.2" cy="104.5" r="5.8"/>
<circle cx="1401.1" cy="110.5" r="5.8"/>
<circle cx="1353.2" cy="103.5" r="5.8"/>
<circle cx="1360.8" cy="104.5" r="5.8"/>
<circle cx="1372.9" cy="106.5" r="5.8"/>
<circle cx="1383.0" cy="110.5" r="5.8"/>
<circle cx="1381.0" cy="117.6" r="5.8"/>
<circle cx="1349.7" cy="114.6" r="5.8"/>
<circle cx="1357.8" cy="117.6" r="5.8"/>
<circle cx="1366.9" cy="115.6" r="5.8"/>
<circle cx="1335.6" cy="124.6" r="5.8"/>
<circle cx="1343.7" cy="121.6" r="5.8"/>
<circle cx="1353.8" cy="128.7" r="5.8"/>
<circle cx="1370.9" cy="128.7" r="5.8"/>
<circle cx="1389.0" cy="125.6" r="5.8"/>
<circle cx="1381.0" cy="125.6" r="5.8"/>
<circle cx="1406.2" cy="130.7" r="5.8"/>
<circle cx="1398.1" cy="135.7" r="5.8"/>
<circle cx="1407.2" cy="141.8" r="5.8"/>
<circle cx="1338.6" cy="137.7" r="5.8"/>
<circle cx="1348.7" cy="135.7" r="5.8"/>
<circle cx="1360.8" cy="135.7" r="5.8"/>
<circle cx="1370.9" cy="137.7" r="5.8"/>
<circle cx="1381.0" cy="137.7" r="5.8"/>
<circle cx="1316.0" cy="140.8" r="5.8"/>
<circle cx="1323.0" cy="138.8" r="5.8"/>
<circle cx="1276.1" cy="138.8" r="5.8"/>
<circle cx="1430.2" cy="94.9" r="5.8"/>
<circle cx="1435.8" cy="92.9" r="5.8"/>
<circle cx="1449.9" cy="91.4" r="5.8"/>
<circle cx="1474.1" cy="85.8" r="5.8"/>
<circle cx="1469.1" cy="97.9" r="5.8"/>
<circle cx="1477.6" cy="108.5" r="5.8"/>
<circle cx="1484.7" cy="117.1" r="5.8"/>
<circle cx="1484.7" cy="127.7" r="5.8"/>
<circle cx="1482.7" cy="132.7" r="5.8"/>
<circle cx="1485.7" cy="139.8" r="5.8"/>
<circle cx="1476.6" cy="141.8" r="5.8"/>
<circle cx="1494.8" cy="87.3" r="5.8"/>
<circle cx="1493.2" cy="93.4" r="5.8"/>
<circle cx="1505.8" cy="89.4" r="5.8"/>
<circle cx="1508.9" cy="96.9" r="5.8"/>
<circle cx="1519.5" cy="89.4" r="5.8"/>
<circle cx="1523.0" cy="94.4" r="5.8"/>
<circle cx="1528.5" cy="96.9" r="5.8"/>
<circle cx="1548.7" cy="89.9" r="5.8"/>
<circle cx="1555.7" cy="85.8" r="5.8"/>
<circle cx="1503.8" cy="129.2" r="5.8"/>
<circle cx="1507.4" cy="133.2" r="5.8"/>
<circle cx="1533.1" cy="142.8" r="5.8"/>
<circle cx="1558.3" cy="142.8" r="5.8"/>
<circle cx="1430.2" cy="131.7" r="5.8"/>
<circle cx="1437.8" cy="124.6" r="5.8"/>
<circle cx="1443.3" cy="122.6" r="5.8"/>
<circle cx="1571.3" cy="85.3" r="5.8"/>
<circle cx="1571.3" cy="91.9" r="5.8"/>
<circle cx="1579.8" cy="89.4" r="5.8"/>
<circle cx="1587.4" cy="89.9" r="5.8"/>
<circle cx="1588.9" cy="104.0" r="5.8"/>
<circle cx="1599.5" cy="102.0" r="5.8"/>
<circle cx="1606.5" cy="99.9" r="5.8"/>
<circle cx="1646.3" cy="82.3" r="5.8"/>
<circle cx="1646.3" cy="95.4" r="5.8"/>
<circle cx="1662.0" cy="85.8" r="5.8"/>
<circle cx="1663.5" cy="90.4" r="5.8"/>
<circle cx="1675.6" cy="89.9" r="5.8"/>
<circle cx="1688.2" cy="91.4" r="5.8"/>
<circle cx="1649.9" cy="122.6" r="5.8"/>
<circle cx="1660.0" cy="116.1" r="5.8"/>
<circle cx="1654.9" cy="118.6" r="5.8"/>
<circle cx="1684.2" cy="122.6" r="5.8"/>
<circle cx="1684.7" cy="126.7" r="5.8"/>
<circle cx="1684.7" cy="144.0" r="5.8"/>
<circle cx="1559.7" cy="143.0" r="5.8"/>
<circle cx="1315.0" cy="143.0" r="5.8"/>
<circle cx="1325.5" cy="147.1" r="5.8"/>
<circle cx="1323.0" cy="152.6" r="5.8"/>
<circle cx="1303.9" cy="157.6" r="5.8"/>
<circle cx="1346.7" cy="141.0" r="5.8"/>
<circle cx="1340.6" cy="159.2" r="5.8"/>
<circle cx="1343.7" cy="163.2" r="5.8"/>
<circle cx="1324.5" cy="166.2" r="5.8"/>
<circle cx="1330.6" cy="170.2" r="5.8"/>
<circle cx="1335.1" cy="173.8" r="5.8"/>
<circle cx="1329.6" cy="174.3" r="5.8"/>
<circle cx="1360.8" cy="153.1" r="5.8"/>
<circle cx="1368.9" cy="150.1" r="5.8"/>
<circle cx="1374.9" cy="153.1" r="5.8"/>
<circle cx="1359.8" cy="160.2" r="5.8"/>
<circle cx="1366.9" cy="161.2" r="5.8"/>
<circle cx="1375.9" cy="160.2" r="5.8"/>
<circle cx="1354.8" cy="168.2" r="5.8"/>
<circle cx="1354.3" cy="177.3" r="5.8"/>
<circle cx="1369.9" cy="173.3" r="5.8"/>
<circle cx="1371.9" cy="182.3" r="5.8"/>
<circle cx="1379.0" cy="165.2" r="5.8"/>
<circle cx="1387.0" cy="150.1" r="5.8"/>
<circle cx="1395.1" cy="148.1" r="5.8"/>
<circle cx="1406.2" cy="145.0" r="5.8"/>
<circle cx="1417.3" cy="153.1" r="5.8"/>
<circle cx="1389.0" cy="165.2" r="5.8"/>
<circle cx="1403.1" cy="160.2" r="5.8"/>
<circle cx="1402.1" cy="164.2" r="5.8"/>
<circle cx="1391.0" cy="178.3" r="5.8"/>
<circle cx="1398.1" cy="175.3" r="5.8"/>
<circle cx="1348.7" cy="192.4" r="5.8"/>
<circle cx="1353.8" cy="192.4" r="5.8"/>
<circle cx="1364.8" cy="192.4" r="5.8"/>
<circle cx="1387.0" cy="197.5" r="5.8"/>
<circle cx="1316.0" cy="203.0" r="5.8"/>
<circle cx="1368.4" cy="211.6" r="5.8"/>
<circle cx="1357.8" cy="235.5" r="5.8"/>
<circle cx="1360.8" cy="142.0" r="5.8"/>
<circle cx="1370.9" cy="142.0" r="5.8"/>
<circle cx="1381.0" cy="141.5" r="5.8"/>
<circle cx="1419.2" cy="151.1" r="5.8"/>
<circle cx="1424.2" cy="150.1" r="5.8"/>
<circle cx="1418.6" cy="156.1" r="5.8"/>
<circle cx="1404.5" cy="160.2" r="5.8"/>
<circle cx="1404.0" cy="163.7" r="5.8"/>
<circle cx="1442.8" cy="173.3" r="5.8"/>
<circle cx="1472.1" cy="178.8" r="5.8"/>
<circle cx="1484.7" cy="176.8" r="5.8"/>
<circle cx="1491.7" cy="171.3" r="5.8"/>
<circle cx="1491.7" cy="149.1" r="5.8"/>
<circle cx="1507.4" cy="159.7" r="5.8"/>
<circle cx="1519.5" cy="152.6" r="5.8"/>
<circle cx="1538.6" cy="161.2" r="5.8"/>
<circle cx="1573.3" cy="155.6" r="5.8"/>
<circle cx="1573.3" cy="168.2" r="5.8"/>
<circle cx="1587.4" cy="161.2" r="5.8"/>
<circle cx="1599.5" cy="183.9" r="5.8"/>
<circle cx="1623.7" cy="168.2" r="5.8"/>
<circle cx="1654.9" cy="155.6" r="5.8"/>
<circle cx="1658.5" cy="168.2" r="5.8"/>
<circle cx="1677.6" cy="155.6" r="5.8"/>
<circle cx="1677.6" cy="166.7" r="5.8"/>
<circle cx="1677.6" cy="194.4" r="5.8"/>
<circle cx="1667.0" cy="227.5" r="5.8"/>
<circle cx="1289.8" cy="262.3" r="5.8"/>
<circle cx="1455.2" cy="253.2" r="5.8"/>
<circle cx="1301.9" cy="294.9" r="5.8"/>
<circle cx="1382.0" cy="368.1" r="5.8"/>
<circle cx="1291.3" cy="382.2" r="5.8"/>
<circle cx="1514.3" cy="262.3" r="5.8"/>
<circle cx="1557.6" cy="246.1" r="5.8"/>
<circle cx="1662.1" cy="300.6" r="5.8"/>
<circle cx="1346.7" cy="151.6" r="5.8"/>
<circle cx="1384.8" cy="158.1" r="5.8"/>
<circle cx="1338.8" cy="147.4" r="5.8"/>
<circle cx="1394.4" cy="158.2" r="5.8"/>
<circle cx="1352.3" cy="146.5" r="5.8"/>
<circle cx="1388.6" cy="137.0" r="5.8"/>
<circle cx="1393.9" cy="106.8" r="5.8"/>
<circle cx="1389.2" cy="117.7" r="5.8"/>
<circle cx="1397.7" cy="121.1" r="5.8"/>
<circle cx="1342.5" cy="105.6" r="5.8"/>
<circle cx="1363.1" cy="167.8" r="5.8"/>
<circle cx="1393.2" cy="99.3" r="5.8"/>
<circle cx="1338.5" cy="115.8" r="5.8"/>
<circle cx="1351.2" cy="159.9" r="5.8"/>
<circle cx="1361.1" cy="125.5" r="5.8"/>
<circle cx="1404.7" cy="117.8" r="5.8"/>
<circle cx="1401.7" cy="151.8" r="5.8"/>
<circle cx="1374.1" cy="121.2" r="5.8"/>
<circle cx="1384.6" cy="171.5" r="5.8"/>
</g>
<rect x="1098.4" y="51.8" width="824.5999999999999" height="377.2" fill="none" stroke="#4d4d4d" stroke-width="1.9"/>
<line x1="1092.4" y1="51.8" x2="1098.4" y2="51.8" stroke="#4d4d4d" stroke-width="1.9"/>
<text x="1083.6000000000001" y="61.7" text-anchor="end" style="font-family:'DejaVu Sans',sans-serif;font-size:28.1px">0.0</text>
<line x1="1092.4" y1="123.0" x2="1098.4" y2="123.0" stroke="#4d4d4d" stroke-width="1.9"/>
<text x="1083.6000000000001" y="132.9" text-anchor="end" style="font-family:'DejaVu Sans',sans-serif;font-size:28.1px"><tspan>−</tspan><tspan dx="-2.2">2.5</tspan></text>
<line x1="1092.4" y1="196.1" x2="1098.4" y2="196.1" stroke="#4d4d4d" stroke-width="1.9"/>
<text x="1083.6000000000001" y="206.0" text-anchor="end" style="font-family:'DejaVu Sans',sans-serif;font-size:28.1px"><tspan>−</tspan><tspan dx="-2.2">5.0</tspan></text>
<line x1="1092.4" y1="269.1" x2="1098.4" y2="269.1" stroke="#4d4d4d" stroke-width="1.9"/>
<text x="1083.6000000000001" y="279.0" text-anchor="end" style="font-family:'DejaVu Sans',sans-serif;font-size:28.1px"><tspan>−</tspan><tspan dx="-2.2">7.5</tspan></text>
<line x1="1092.4" y1="342.2" x2="1098.4" y2="342.2" stroke="#4d4d4d" stroke-width="1.9"/>
<text x="1083.6000000000001" y="352.1" text-anchor="end" style="font-family:'DejaVu Sans',sans-serif;font-size:28.1px"><tspan>−</tspan><tspan dx="-2.2">10.0</tspan></text>
<line x1="1092.4" y1="415.4" x2="1098.4" y2="415.4" stroke="#4d4d4d" stroke-width="1.9"/>
<text x="1083.6000000000001" y="425.3" text-anchor="end" style="font-family:'DejaVu Sans',sans-serif;font-size:28.1px"><tspan>−</tspan><tspan dx="-2.2">12.5</tspan></text>
<line x1="1143.7" y1="429.0" x2="1143.7" y2="435.0" stroke="#4d4d4d" stroke-width="1.9"/>
<text x="1143.7" y="460.8" text-anchor="middle" style="font-family:'DejaVu Sans',sans-serif;font-size:28.1px">2021-03-23 12:00</text>
<line x1="1510.4" y1="429.0" x2="1510.4" y2="435.0" stroke="#4d4d4d" stroke-width="1.9"/>
<text x="1510.4" y="460.8" text-anchor="middle" style="font-family:'DejaVu Sans',sans-serif;font-size:28.1px">2021-03-24 12:00</text>
<line x1="1875.6" y1="429.0" x2="1875.6" y2="435.0" stroke="#4d4d4d" stroke-width="1.9"/>
<text x="1875.6" y="460.8" text-anchor="middle" style="font-family:'DejaVu Sans',sans-serif;font-size:28.1px">2021-03-25 12:00</text>
<text x="1510.7" y="490.2" text-anchor="middle" style="font-family:'DejaVu Sans',sans-serif;font-size:28.1px">Date</text>
<text transform="translate(987.3,240.4) rotate(-90)" text-anchor="middle" style="font-family:'DejaVu Sans',sans-serif;font-size:28.1px">Depth (km)</text>
<clipPath id="clip551"><rect x="1098.4" y="551.9" width="824.5999999999999" height="377.4"/></clipPath>
<g clip-path="url(#clip551)" fill="#000">
<circle cx="1237.2" cy="563.6" r="5.8"/>
<circle cx="1230.2" cy="579.8" r="5.8"/>
<circle cx="1280.6" cy="565.2" r="5.8"/>
<circle cx="1280.6" cy="569.7" r="5.8"/>
<circle cx="1299.7" cy="558.6" r="5.8"/>
<circle cx="1310.3" cy="567.2" r="5.8"/>
<circle cx="1320.4" cy="555.1" r="5.8"/>
<circle cx="1331.0" cy="554.1" r="5.8"/>
<circle cx="1331.0" cy="563.6" r="5.8"/>
<circle cx="1333.0" cy="569.2" r="5.8"/>
<circle cx="1327.4" cy="593.4" r="5.8"/>
<circle cx="1337.5" cy="589.4" r="5.8"/>
<circle cx="1348.6" cy="585.3" r="5.8"/>
<circle cx="1351.1" cy="592.4" r="5.8"/>
<circle cx="1341.0" cy="595.4" r="5.8"/>
<circle cx="1347.1" cy="599.4" r="5.8"/>
<circle cx="1359.2" cy="602.5" r="5.8"/>
<circle cx="1365.8" cy="607.0" r="5.8"/>
<circle cx="1347.1" cy="607.5" r="5.8"/>
<circle cx="1354.2" cy="611.5" r="5.8"/>
<circle cx="1346.1" cy="615.6" r="5.8"/>
<circle cx="1296.2" cy="605.0" r="5.8"/>
<circle cx="1303.8" cy="609.0" r="5.8"/>
<circle cx="1294.7" cy="615.6" r="5.8"/>
<circle cx="1325.9" cy="612.0" r="5.8"/>
<circle cx="1335.0" cy="619.1" r="5.8"/>
<circle cx="1252.8" cy="617.1" r="5.8"/>
<circle cx="1251.3" cy="621.6" r="5.8"/>
<circle cx="1267.0" cy="627.7" r="5.8"/>
<circle cx="1254.4" cy="628.7" r="5.8"/>
<circle cx="1226.6" cy="638.2" r="5.8"/>
<circle cx="1234.2" cy="638.2" r="5.8"/>
<circle cx="1248.3" cy="637.7" r="5.8"/>
<circle cx="1258.4" cy="635.7" r="5.8"/>
<circle cx="1266.5" cy="635.7" r="5.8"/>
<circle cx="1275.5" cy="635.7" r="5.8"/>
<circle cx="1291.7" cy="628.7" r="5.8"/>
<circle cx="1301.7" cy="625.6" r="5.8"/>
<circle cx="1310.8" cy="628.7" r="5.8"/>
<circle cx="1293.7" cy="637.7" r="5.8"/>
<circle cx="1318.9" cy="631.7" r="5.8"/>
<circle cx="1327.9" cy="626.7" r="5.8"/>
<circle cx="1336.0" cy="632.7" r="5.8"/>
<circle cx="1345.1" cy="629.7" r="5.8"/>
<circle cx="1356.2" cy="623.6" r="5.8"/>
<circle cx="1363.2" cy="628.7" r="5.8"/>
<circle cx="1356.2" cy="635.7" r="5.8"/>
<circle cx="1310.8" cy="640.8" r="5.8"/>
<circle cx="1331.0" cy="639.8" r="5.8"/>
<circle cx="1369.3" cy="617.6" r="5.8"/>
<circle cx="1439.1" cy="553.1" r="5.8"/>
<circle cx="1385.2" cy="563.6" r="5.8"/>
<circle cx="1391.3" cy="562.6" r="5.8"/>
<circle cx="1397.8" cy="570.2" r="5.8"/>
<circle cx="1418.0" cy="565.7" r="5.8"/>
<circle cx="1388.7" cy="577.3" r="5.8"/>
<circle cx="1454.8" cy="577.8" r="5.8"/>
<circle cx="1492.6" cy="575.7" r="5.8"/>
<circle cx="1412.9" cy="582.3" r="5.8"/>
<circle cx="1400.8" cy="585.3" r="5.8"/>
<circle cx="1390.2" cy="586.3" r="5.8"/>
<circle cx="1419.5" cy="589.4" r="5.8"/>
<circle cx="1430.6" cy="587.3" r="5.8"/>
<circle cx="1432.1" cy="594.9" r="5.8"/>
<circle cx="1402.3" cy="596.4" r="5.8"/>
<circle cx="1390.2" cy="595.4" r="5.8"/>
<circle cx="1420.5" cy="600.0" r="5.8"/>
<circle cx="1386.2" cy="601.5" r="5.8"/>
<circle cx="1410.4" cy="604.5" r="5.8"/>
<circle cx="1384.2" cy="606.5" r="5.8"/>
<circle cx="1366.0" cy="606.5" r="5.8"/>
<circle cx="1360.5" cy="601.5" r="5.8"/>
<circle cx="1432.1" cy="607.0" r="5.8"/>
<circle cx="1442.7" cy="612.0" r="5.8"/>
<circle cx="1501.6" cy="603.5" r="5.8"/>
<circle cx="1510.2" cy="611.0" r="5.8"/>
<circle cx="1375.1" cy="617.6" r="5.8"/>
<circle cx="1385.2" cy="615.6" r="5.8"/>
<circle cx="1400.3" cy="617.6" r="5.8"/>
<circle cx="1412.4" cy="615.6" r="5.8"/>
<circle cx="1424.5" cy="617.6" r="5.8"/>
<circle cx="1363.0" cy="628.7" r="5.8"/>
<circle cx="1377.1" cy="630.7" r="5.8"/>
<circle cx="1390.2" cy="627.7" r="5.8"/>
<circle cx="1408.4" cy="625.6" r="5.8"/>
<circle cx="1420.5" cy="629.7" r="5.8"/>
<circle cx="1434.6" cy="627.7" r="5.8"/>
<circle cx="1370.1" cy="637.7" r="5.8"/>
<circle cx="1390.2" cy="637.7" r="5.8"/>
<circle cx="1410.4" cy="637.7" r="5.8"/>
<circle cx="1430.6" cy="637.7" r="5.8"/>
<circle cx="1443.7" cy="637.7" r="5.8"/>
<circle cx="1457.8" cy="630.2" r="5.8"/>
<circle cx="1471.9" cy="628.7" r="5.8"/>
<circle cx="1482.0" cy="631.7" r="5.8"/>
<circle cx="1457.8" cy="638.8" r="5.8"/>
<circle cx="1465.8" cy="638.8" r="5.8"/>
<circle cx="1475.9" cy="638.8" r="5.8"/>
<circle cx="1486.0" cy="637.7" r="5.8"/>
<circle cx="1507.2" cy="638.2" r="5.8"/>
<circle cx="1517.3" cy="638.2" r="5.8"/>
<circle cx="1225.1" cy="663.2" r="5.8"/>
<circle cx="1244.3" cy="646.0" r="5.8"/>
<circle cx="1250.3" cy="650.1" r="5.8"/>
<circle cx="1245.8" cy="654.1" r="5.8"/>
<circle cx="1263.4" cy="644.0" r="5.8"/>
<circle cx="1278.5" cy="646.0" r="5.8"/>
<circle cx="1280.6" cy="653.1" r="5.8"/>
<circle cx="1294.7" cy="641.0" r="5.8"/>
<circle cx="1306.8" cy="645.0" r="5.8"/>
<circle cx="1311.8" cy="653.1" r="5.8"/>
<circle cx="1325.9" cy="646.0" r="5.8"/>
<circle cx="1336.0" cy="644.0" r="5.8"/>
<circle cx="1351.1" cy="644.0" r="5.8"/>
<circle cx="1361.2" cy="651.1" r="5.8"/>
<circle cx="1331.0" cy="658.1" r="5.8"/>
<circle cx="1259.9" cy="659.2" r="5.8"/>
<circle cx="1272.0" cy="664.2" r="5.8"/>
<circle cx="1256.4" cy="672.3" r="5.8"/>
<circle cx="1264.4" cy="671.3" r="5.8"/>
<circle cx="1268.5" cy="677.3" r="5.8"/>
<circle cx="1276.5" cy="676.3" r="5.8"/>
<circle cx="1275.5" cy="684.4" r="5.8"/>
<circle cx="1281.1" cy="687.4" r="5.8"/>
<circle cx="1292.7" cy="663.2" r="5.8"/>
<circle cx="1302.7" cy="663.2" r="5.8"/>
<circle cx="1289.6" cy="676.3" r="5.8"/>
<circle cx="1298.7" cy="672.3" r="5.8"/>
<circle cx="1305.8" cy="680.3" r="5.8"/>
<circle cx="1315.3" cy="668.2" r="5.8"/>
<circle cx="1320.9" cy="676.3" r="5.8"/>
<circle cx="1331.0" cy="670.2" r="5.8"/>
<circle cx="1341.0" cy="677.3" r="5.8"/>
<circle cx="1351.1" cy="665.2" r="5.8"/>
<circle cx="1361.2" cy="668.2" r="5.8"/>
<circle cx="1367.3" cy="678.3" r="5.8"/>
<circle cx="1334.0" cy="687.4" r="5.8"/>
<circle cx="1323.9" cy="695.4" r="5.8"/>
<circle cx="1336.0" cy="700.5" r="5.8"/>
<circle cx="1346.6" cy="697.5" r="5.8"/>
<circle cx="1361.2" cy="688.4" r="5.8"/>
<circle cx="1367.3" cy="695.4" r="5.8"/>
<circle cx="1289.6" cy="701.0" r="5.8"/>
<circle cx="1311.8" cy="708.0" r="5.8"/>
<circle cx="1326.9" cy="708.5" r="5.8"/>
<circle cx="1333.0" cy="715.6" r="5.8"/>
<circle cx="1340.0" cy="716.6" r="5.8"/>
<circle cx="1367.3" cy="717.1" r="5.8"/>
<circle cx="1298.2" cy="730.7" r="5.8"/>
<circle cx="1323.9" cy="730.7" r="5.8"/>
<circle cx="1343.1" cy="728.7" r="5.8"/>
<circle cx="1365.2" cy="644.0" r="5.8"/>
<circle cx="1285.0" cy="650.0" r="5.8"/>
<circle cx="1320.0" cy="650.0" r="5.8"/>
<circle cx="1340.0" cy="655.0" r="5.8"/>
<circle cx="1318.0" cy="660.0" r="5.8"/>
<circle cx="1345.0" cy="660.0" r="5.8"/>
<circle cx="1300.0" cy="655.0" r="5.8"/>
<circle cx="1370.1" cy="646.0" r="5.8"/>
<circle cx="1372.1" cy="655.1" r="5.8"/>
<circle cx="1363.0" cy="665.2" r="5.8"/>
<circle cx="1368.1" cy="677.3" r="5.8"/>
<circle cx="1385.2" cy="658.1" r="5.8"/>
<circle cx="1390.2" cy="646.0" r="5.8"/>
<circle cx="1400.3" cy="650.1" r="5.8"/>
<circle cx="1395.3" cy="666.2" r="5.8"/>
<circle cx="1405.4" cy="660.2" r="5.8"/>
<circle cx="1412.4" cy="645.0" r="5.8"/>
<circle cx="1416.5" cy="655.1" r="5.8"/>
<circle cx="1425.5" cy="650.1" r="5.8"/>
<circle cx="1429.6" cy="657.1" r="5.8"/>
<circle cx="1430.6" cy="643.0" r="5.8"/>
<circle cx="1380.2" cy="672.3" r="5.8"/>
<circle cx="1399.3" cy="680.3" r="5.8"/>
<circle cx="1388.2" cy="687.4" r="5.8"/>
<circle cx="1420.5" cy="671.3" r="5.8"/>
<circle cx="1416.0" cy="680.8" r="5.8"/>
<circle cx="1432.1" cy="673.3" r="5.8"/>
<circle cx="1365.0" cy="688.4" r="5.8"/>
<circle cx="1371.1" cy="695.4" r="5.8"/>
<circle cx="1444.2" cy="647.6" r="5.8"/>
<circle cx="1443.7" cy="642.0" r="5.8"/>
<circle cx="1456.8" cy="641.5" r="5.8"/>
<circle cx="1465.8" cy="642.0" r="5.8"/>
<circle cx="1475.9" cy="642.0" r="5.8"/>
<circle cx="1486.0" cy="641.5" r="5.8"/>
<circle cx="1506.2" cy="641.5" r="5.8"/>
<circle cx="1517.3" cy="641.5" r="5.8"/>
<circle cx="1479.0" cy="653.6" r="5.8"/>
<circle cx="1439.1" cy="660.7" r="5.8"/>
<circle cx="1447.7" cy="667.2" r="5.8"/>
<circle cx="1451.7" cy="672.3" r="5.8"/>
<circle cx="1462.8" cy="666.2" r="5.8"/>
<circle cx="1476.9" cy="664.2" r="5.8"/>
<circle cx="1482.5" cy="670.2" r="5.8"/>
<circle cx="1493.1" cy="666.7" r="5.8"/>
<circle cx="1505.2" cy="662.7" r="5.8"/>
<circle cx="1518.3" cy="670.2" r="5.8"/>
<circle cx="1452.7" cy="682.3" r="5.8"/>
<circle cx="1461.8" cy="682.3" r="5.8"/>
<circle cx="1471.9" cy="682.3" r="5.8"/>
<circle cx="1476.9" cy="692.4" r="5.8"/>
<circle cx="1469.9" cy="688.4" r="5.8"/>
<circle cx="1456.8" cy="691.4" r="5.8"/>
<circle cx="1452.7" cy="696.5" r="5.8"/>
<circle cx="1459.8" cy="701.5" r="5.8"/>
<circle cx="1487.5" cy="686.9" r="5.8"/>
<circle cx="1496.1" cy="692.9" r="5.8"/>
<circle cx="1501.6" cy="683.9" r="5.8"/>
<circle cx="1435.6" cy="697.5" r="5.8"/>
<circle cx="1475.9" cy="707.5" r="5.8"/>
<circle cx="1481.0" cy="706.0" r="5.8"/>
<circle cx="1409.4" cy="717.1" r="5.8"/>
<circle cx="1434.1" cy="716.6" r="5.8"/>
<circle cx="1456.3" cy="716.6" r="5.8"/>
<circle cx="1477.4" cy="720.6" r="5.8"/>
<circle cx="1444.2" cy="727.2" r="5.8"/>
<circle cx="1456.3" cy="727.7" r="5.8"/>
<circle cx="1434.1" cy="735.3" r="5.8"/>
<circle cx="1471.9" cy="733.8" r="5.8"/>
<circle cx="1489.5" cy="735.3" r="5.8"/>
<circle cx="1519.3" cy="730.7" r="5.8"/>
<circle cx="1380.0" cy="650.0" r="5.8"/>
<circle cx="1395.0" cy="655.0" r="5.8"/>
<circle cx="1410.0" cy="652.0" r="5.8"/>
<circle cx="1385.0" cy="665.0" r="5.8"/>
<circle cx="1375.0" cy="663.0" r="5.8"/>
<circle cx="1275.5" cy="753.6" r="5.8"/>
<circle cx="1289.6" cy="751.6" r="5.8"/>
<circle cx="1303.8" cy="753.6" r="5.8"/>
<circle cx="1286.1" cy="772.8" r="5.8"/>
<circle cx="1259.9" cy="784.9" r="5.8"/>
<circle cx="1353.6" cy="782.9" r="5.8"/>
<circle cx="1367.3" cy="751.6" r="5.8"/>
<circle cx="1447.7" cy="746.6" r="5.8"/>
<circle cx="1453.8" cy="744.1" r="5.8"/>
<circle cx="1460.8" cy="742.6" r="5.8"/>
<circle cx="1466.9" cy="744.1" r="5.8"/>
<circle cx="1473.9" cy="744.1" r="5.8"/>
<circle cx="1474.9" cy="739.0" r="5.8"/>
<circle cx="1512.2" cy="750.1" r="5.8"/>
<circle cx="1489.5" cy="756.7" r="5.8"/>
<circle cx="1482.0" cy="764.2" r="5.8"/>
<circle cx="1469.9" cy="769.3" r="5.8"/>
<circle cx="1461.3" cy="767.3" r="5.8"/>
<circle cx="1464.8" cy="774.3" r="5.8"/>
<circle cx="1457.8" cy="775.3" r="5.8"/>
<circle cx="1449.2" cy="775.8" r="5.8"/>
<circle cx="1434.1" cy="777.8" r="5.8"/>
<circle cx="1473.9" cy="784.4" r="5.8"/>
<circle cx="1447.7" cy="788.4" r="5.8"/>
<circle cx="1456.8" cy="789.9" r="5.8"/>
<circle cx="1448.7" cy="792.5" r="5.8"/>
<circle cx="1466.9" cy="795.5" r="5.8"/>
<circle cx="1435.1" cy="798.5" r="5.8"/>
<circle cx="1443.7" cy="804.6" r="5.8"/>
<circle cx="1454.8" cy="804.1" r="5.8"/>
<circle cx="1447.7" cy="812.6" r="5.8"/>
<circle cx="1468.4" cy="814.1" r="5.8"/>
<circle cx="1445.7" cy="823.2" r="5.8"/>
<circle cx="1501.6" cy="781.4" r="5.8"/>
<circle cx="1510.2" cy="791.5" r="5.8"/>
<circle cx="1515.2" cy="797.5" r="5.8"/>
<circle cx="1518.3" cy="770.3" r="5.8"/>
<circle cx="1482.5" cy="826.7" r="5.8"/>
<circle cx="1495.1" cy="825.7" r="5.8"/>
<circle cx="1498.1" cy="820.7" r="5.8"/>
<circle cx="1457.8" cy="834.8" r="5.8"/>
<circle cx="1303.2" cy="852.7" r="5.8"/>
<circle cx="1331.0" cy="899.6" r="5.8"/>
<circle cx="1279.1" cy="913.7" r="5.8"/>
<circle cx="1345.1" cy="913.7" r="5.8"/>
<circle cx="1304.8" cy="930.5" r="5.8"/>
<circle cx="1458.3" cy="840.6" r="5.8"/>
<circle cx="1466.9" cy="845.6" r="5.8"/>
<circle cx="1440.6" cy="864.8" r="5.8"/>
<circle cx="1503.6" cy="857.7" r="5.8"/>
<circle cx="1524.2" cy="577.3" r="5.8"/>
<circle cx="1526.2" cy="682.1" r="5.8"/>
<circle cx="1602.8" cy="600.4" r="5.8"/>
<circle cx="1646.2" cy="629.7" r="5.8"/>
<circle cx="1632.1" cy="664.0" r="5.8"/>
<circle cx="1635.1" cy="675.0" r="5.8"/>
<circle cx="1651.2" cy="673.0" r="5.8"/>
<circle cx="1694.6" cy="675.0" r="5.8"/>
<circle cx="1692.5" cy="593.4" r="5.8"/>
<circle cx="1706.7" cy="582.3" r="5.8"/>
<circle cx="1718.8" cy="589.4" r="5.8"/>
<circle cx="1713.7" cy="607.5" r="5.8"/>
<circle cx="1717.7" cy="708.3" r="5.8"/>
<circle cx="1637.1" cy="718.4" r="5.8"/>
<circle cx="1666.9" cy="716.8" r="5.8"/>
<circle cx="1600.8" cy="728.5" r="5.8"/>
<circle cx="1596.8" cy="737.5" r="5.8"/>
<circle cx="1687.5" cy="741.6" r="5.8"/>
<circle cx="1733.3" cy="638.3" r="5.8"/>
<circle cx="1774.6" cy="638.3" r="5.8"/>
<circle cx="1776.2" cy="670.0" r="5.8"/>
<circle cx="1828.6" cy="622.6" r="5.8"/>
<circle cx="1865.3" cy="621.2" r="5.8"/>
<circle cx="1887.9" cy="591.4" r="5.8"/>
<circle cx="1898.6" cy="626.3" r="5.8"/>
<circle cx="1912.1" cy="638.3" r="5.8"/>
<circle cx="1837.1" cy="670.0" r="5.8"/>
<circle cx="1863.3" cy="660.9" r="5.8"/>
<circle cx="1882.5" cy="657.5" r="5.8"/>
<circle cx="1901.6" cy="671.6" r="5.8"/>
<circle cx="1922.8" cy="666.0" r="5.8"/>
<circle cx="1828.6" cy="732.5" r="5.8"/>
<circle cx="1877.4" cy="727.5" r="5.8"/>
<circle cx="1600.9" cy="834.2" r="5.8"/>
<circle cx="1744.8" cy="760.1" r="5.8"/>
<circle cx="1354.0" cy="656.0" r="5.8"/>
<circle cx="1371.7" cy="587.1" r="5.8"/>
<circle cx="1397.4" cy="630.4" r="5.8"/>
<circle cx="1304.5" cy="633.2" r="5.8"/>
<circle cx="1410.4" cy="667.8" r="5.8"/>
<circle cx="1356.7" cy="584.8" r="5.8"/>
<circle cx="1354.9" cy="682.5" r="5.8"/>
<circle cx="1375.5" cy="596.6" r="5.8"/>
<circle cx="1367.4" cy="597.9" r="5.8"/>
<circle cx="1361.7" cy="615.1" r="5.8"/>
<circle cx="1291.5" cy="654.5" r="5.8"/>
<circle cx="1333.6" cy="602.2" r="5.8"/>
<circle cx="1379.3" cy="581.7" r="5.8"/>
<circle cx="1297.5" cy="680.0" r="5.8"/>
<circle cx="1420.9" cy="661.3" r="5.8"/>
<circle cx="1404.3" cy="578.5" r="5.8"/>
<circle cx="1267.8" cy="652.1" r="5.8"/>
<circle cx="1248.7" cy="662.4" r="5.8"/>
<circle cx="1419.8" cy="609.0" r="5.8"/>
<circle cx="1393.9" cy="605.9" r="5.8"/>
<circle cx="1284.9" cy="634.8" r="5.8"/>
<circle cx="1360.7" cy="591.9" r="5.8"/>
<circle cx="1338.3" cy="608.4" r="5.8"/>
<circle cx="1415.9" cy="622.9" r="5.8"/>
<circle cx="1394.5" cy="673.8" r="5.8"/>
<circle cx="1280.6" cy="661.8" r="5.8"/>
<circle cx="1337.8" cy="665.9" r="5.8"/>
<circle cx="1380.6" cy="623.9" r="5.8"/>
<circle cx="1285.0" cy="668.0" r="5.8"/>
<circle cx="1344.0" cy="639.0" r="5.8"/>
<circle cx="1418.3" cy="637.9" r="5.8"/>
<circle cx="1346.8" cy="671.6" r="5.8"/>
<circle cx="1413.1" cy="593.4" r="5.8"/>
<circle cx="1345.9" cy="684.6" r="5.8"/>
<circle cx="1371.3" cy="625.3" r="5.8"/>
<circle cx="1392.8" cy="619.7" r="5.8"/>
<circle cx="1397.5" cy="640.2" r="5.8"/>
<circle cx="1254.4" cy="642.3" r="5.8"/>
<circle cx="1403.8" cy="608.7" r="5.8"/>
<circle cx="1324.6" cy="663.9" r="5.8"/>
<circle cx="1323.5" cy="620.5" r="5.8"/>
<circle cx="1313.6" cy="681.0" r="5.8"/>
<circle cx="1319.4" cy="641.1" r="5.8"/>
<circle cx="1404.4" cy="673.3" r="5.8"/>
<circle cx="1328.0" cy="679.1" r="5.8"/>
<circle cx="1343.4" cy="647.9" r="5.8"/>
<circle cx="1372.8" cy="670.7" r="5.8"/>
<circle cx="1379.5" cy="589.7" r="5.8"/>
<circle cx="1258.1" cy="650.7" r="5.8"/>
<circle cx="1354.0" cy="674.7" r="5.8"/>
<circle cx="1316.5" cy="623.6" r="5.8"/>
<circle cx="1380.6" cy="638.5" r="5.8"/>
</g>
<line x1="1426.1" y1="551.9" x2="1426.1" y2="929.3" stroke="#ff1414" stroke-width="2.9" stroke-dasharray="9.7 4.15" stroke-dashoffset="7.05"/>
<rect x="1098.4" y="551.9" width="824.5999999999999" height="377.4" fill="none" stroke="#4d4d4d" stroke-width="1.9"/>
<line x1="1092.4" y1="551.9" x2="1098.4" y2="551.9" stroke="#4d4d4d" stroke-width="1.9"/>
<text x="1083.6000000000001" y="561.8" text-anchor="end" style="font-family:'DejaVu Sans',sans-serif;font-size:28.1px">0.0</text>
<line x1="1092.4" y1="623.0" x2="1098.4" y2="623.0" stroke="#4d4d4d" stroke-width="1.9"/>
<text x="1083.6000000000001" y="632.9" text-anchor="end" style="font-family:'DejaVu Sans',sans-serif;font-size:28.1px"><tspan>−</tspan><tspan dx="-2.2">2.5</tspan></text>
<line x1="1092.4" y1="696.1" x2="1098.4" y2="696.1" stroke="#4d4d4d" stroke-width="1.9"/>
<text x="1083.6000000000001" y="706.0" text-anchor="end" style="font-family:'DejaVu Sans',sans-serif;font-size:28.1px"><tspan>−</tspan><tspan dx="-2.2">5.0</tspan></text>
<line x1="1092.4" y1="769.2" x2="1098.4" y2="769.2" stroke="#4d4d4d" stroke-width="1.9"/>
<text x="1083.6000000000001" y="779.1" text-anchor="end" style="font-family:'DejaVu Sans',sans-serif;font-size:28.1px"><tspan>−</tspan><tspan dx="-2.2">7.5</tspan></text>
<line x1="1092.4" y1="842.3" x2="1098.4" y2="842.3" stroke="#4d4d4d" stroke-width="1.9"/>
<text x="1083.6000000000001" y="852.2" text-anchor="end" style="font-family:'DejaVu Sans',sans-serif;font-size:28.1px"><tspan>−</tspan><tspan dx="-2.2">10.0</tspan></text>
<line x1="1092.4" y1="915.5" x2="1098.4" y2="915.5" stroke="#4d4d4d" stroke-width="1.9"/>
<text x="1083.6000000000001" y="925.4" text-anchor="end" style="font-family:'DejaVu Sans',sans-serif;font-size:28.1px"><tspan>−</tspan><tspan dx="-2.2">12.5</tspan></text>
<line x1="1096.6" y1="929.3" x2="1096.6" y2="935.3" stroke="#4d4d4d" stroke-width="1.9"/>
<text x="1096.6" y="961.1" text-anchor="middle" style="font-family:'DejaVu Sans',sans-serif;font-size:28.1px">2021-04-05 06:00</text>
<line x1="1426.3" y1="929.3" x2="1426.3" y2="935.3" stroke="#4d4d4d" stroke-width="1.9"/>
<text x="1426.3" y="961.1" text-anchor="middle" style="font-family:'DejaVu Sans',sans-serif;font-size:28.1px">2021-04-05 18:00</text>
<line x1="1757.2" y1="929.3" x2="1757.2" y2="935.3" stroke="#4d4d4d" stroke-width="1.9"/>
<text x="1757.2" y="961.1" text-anchor="middle" style="font-family:'DejaVu Sans',sans-serif;font-size:28.1px">2021-04-06 06:00</text>
<text x="1510.7" y="990.5" text-anchor="middle" style="font-family:'DejaVu Sans',sans-serif;font-size:28.1px">Date</text>
<text transform="translate(987.3,740.6) rotate(-90)" text-anchor="middle" style="font-family:'DejaVu Sans',sans-serif;font-size:28.1px">Depth (km)</text>
</svg>
</body></html>
